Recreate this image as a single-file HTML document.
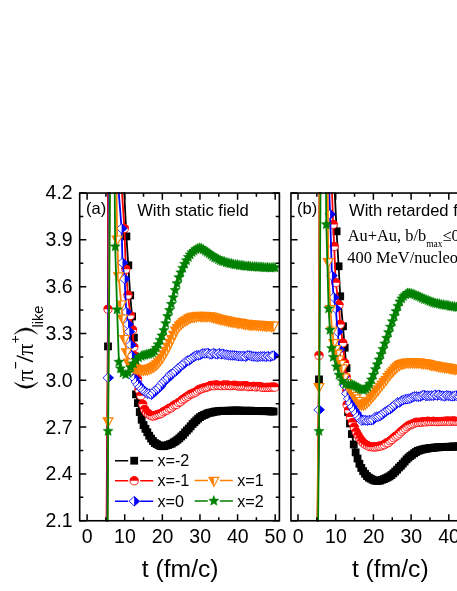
<!DOCTYPE html>
<html><head><meta charset="utf-8"><title>chart</title>
<style>html,body{margin:0;padding:0;background:#fff;}svg{display:block;}</style>
</head><body>
<svg style="will-change:transform" width="457" height="591" viewBox="0 0 457 591" font-family="'Liberation Sans', sans-serif" fill="#000">
<rect width="457" height="591" fill="#fff"/>
<defs><clipPath id="ca"><rect x="79.7" y="192.25" width="201.25" height="329.3"/></clipPath><clipPath id="cb"><rect x="290.95" y="192.25" width="171.05" height="329.3"/></clipPath></defs>
<g clip-path="url(#ca)">
<polyline fill="none" stroke="#000000" stroke-width="1.8" stroke-linejoin="round" points="106.85,545.75 107,520.75 108,346.4 108.6,193.05 108.9,133.05 116.52,-106.95 117.52,53.05 126.4,236.4 128.3,265.3 130.2,295.4 132.1,316.5 133.9,337.6 135,358 135.6,378 136,394.36 137.88,403.1 139.77,412.05 141.65,419.75 143.54,425.06 145.42,428.81 147.31,432.24 149.19,435.73 151.08,438.58 152.96,441.06 154.85,443.03 156.73,444.07 158.62,445.14 160.5,446.06 162.39,446.25 164.27,446.08 166.16,445.47 168.04,445.04 169.93,444.21 171.81,443.62 173.7,442.32 175.58,441.27 177.47,439.76 179.35,438.25 181.24,436.45 183.12,434.75 185.01,432.52 186.89,430.47 188.78,428.56 190.66,426.34 192.55,424 194.43,422.24 196.32,420.42 198.2,418.6 200.09,417.1 201.97,415.93 203.86,415.04 205.74,414.28 207.63,413.29 209.51,412.75 211.4,412.49 213.28,412.01 215.17,411.5 217.05,411.44 218.94,411.11 220.82,410.87 222.71,410.81 224.59,410.92 226.48,410.82 228.36,410.72 230.25,410.74 232.13,410.61 234.02,410.62 235.9,410.53 237.79,410.48 239.67,410.76 241.56,410.64 243.44,410.78 245.33,410.83 247.21,410.74 249.1,410.84 250.98,410.68 252.87,410.92 254.75,411.04 256.64,411.05 258.52,411.11 260.41,411.11 262.29,411.11 264.18,411.15 266.06,411.15 267.95,411.17 269.83,411.38 271.72,411.44 273.6,411.49"/>
<rect x="104.1" y="342.5" width="7.8" height="7.8" fill="#000000"/>
<rect x="122.5" y="232.5" width="7.8" height="7.8" fill="#000000"/>
<rect x="124.4" y="261.4" width="7.8" height="7.8" fill="#000000"/>
<rect x="126.3" y="291.5" width="7.8" height="7.8" fill="#000000"/>
<rect x="128.2" y="312.6" width="7.8" height="7.8" fill="#000000"/>
<rect x="130" y="333.7" width="7.8" height="7.8" fill="#000000"/>
<rect x="131.1" y="354.1" width="7.8" height="7.8" fill="#000000"/>
<rect x="131.7" y="374.1" width="7.8" height="7.8" fill="#000000"/>
<rect x="132.1" y="390.46" width="7.8" height="7.8" fill="#000000"/>
<rect x="133.98" y="399.2" width="7.8" height="7.8" fill="#000000"/>
<rect x="135.87" y="408.15" width="7.8" height="7.8" fill="#000000"/>
<rect x="137.75" y="415.85" width="7.8" height="7.8" fill="#000000"/>
<rect x="139.64" y="421.16" width="7.8" height="7.8" fill="#000000"/>
<rect x="141.52" y="424.91" width="7.8" height="7.8" fill="#000000"/>
<rect x="143.41" y="428.34" width="7.8" height="7.8" fill="#000000"/>
<rect x="145.29" y="431.83" width="7.8" height="7.8" fill="#000000"/>
<rect x="147.18" y="434.68" width="7.8" height="7.8" fill="#000000"/>
<rect x="149.06" y="437.16" width="7.8" height="7.8" fill="#000000"/>
<rect x="150.95" y="439.13" width="7.8" height="7.8" fill="#000000"/>
<rect x="152.83" y="440.17" width="7.8" height="7.8" fill="#000000"/>
<rect x="154.72" y="441.24" width="7.8" height="7.8" fill="#000000"/>
<rect x="156.6" y="442.16" width="7.8" height="7.8" fill="#000000"/>
<rect x="158.49" y="442.35" width="7.8" height="7.8" fill="#000000"/>
<rect x="160.37" y="442.18" width="7.8" height="7.8" fill="#000000"/>
<rect x="162.26" y="441.57" width="7.8" height="7.8" fill="#000000"/>
<rect x="164.14" y="441.14" width="7.8" height="7.8" fill="#000000"/>
<rect x="166.03" y="440.31" width="7.8" height="7.8" fill="#000000"/>
<rect x="167.91" y="439.72" width="7.8" height="7.8" fill="#000000"/>
<rect x="169.8" y="438.42" width="7.8" height="7.8" fill="#000000"/>
<rect x="171.68" y="437.37" width="7.8" height="7.8" fill="#000000"/>
<rect x="173.57" y="435.86" width="7.8" height="7.8" fill="#000000"/>
<rect x="175.45" y="434.35" width="7.8" height="7.8" fill="#000000"/>
<rect x="177.34" y="432.55" width="7.8" height="7.8" fill="#000000"/>
<rect x="179.22" y="430.85" width="7.8" height="7.8" fill="#000000"/>
<rect x="181.11" y="428.62" width="7.8" height="7.8" fill="#000000"/>
<rect x="182.99" y="426.57" width="7.8" height="7.8" fill="#000000"/>
<rect x="184.88" y="424.66" width="7.8" height="7.8" fill="#000000"/>
<rect x="186.76" y="422.44" width="7.8" height="7.8" fill="#000000"/>
<rect x="188.65" y="420.1" width="7.8" height="7.8" fill="#000000"/>
<rect x="190.53" y="418.34" width="7.8" height="7.8" fill="#000000"/>
<rect x="192.42" y="416.52" width="7.8" height="7.8" fill="#000000"/>
<rect x="194.3" y="414.7" width="7.8" height="7.8" fill="#000000"/>
<rect x="196.19" y="413.2" width="7.8" height="7.8" fill="#000000"/>
<rect x="198.07" y="412.03" width="7.8" height="7.8" fill="#000000"/>
<rect x="199.96" y="411.14" width="7.8" height="7.8" fill="#000000"/>
<rect x="201.84" y="410.38" width="7.8" height="7.8" fill="#000000"/>
<rect x="203.73" y="409.39" width="7.8" height="7.8" fill="#000000"/>
<rect x="205.61" y="408.85" width="7.8" height="7.8" fill="#000000"/>
<rect x="207.5" y="408.59" width="7.8" height="7.8" fill="#000000"/>
<rect x="209.38" y="408.11" width="7.8" height="7.8" fill="#000000"/>
<rect x="211.27" y="407.6" width="7.8" height="7.8" fill="#000000"/>
<rect x="213.15" y="407.54" width="7.8" height="7.8" fill="#000000"/>
<rect x="215.04" y="407.21" width="7.8" height="7.8" fill="#000000"/>
<rect x="216.92" y="406.97" width="7.8" height="7.8" fill="#000000"/>
<rect x="218.81" y="406.91" width="7.8" height="7.8" fill="#000000"/>
<rect x="220.69" y="407.02" width="7.8" height="7.8" fill="#000000"/>
<rect x="222.58" y="406.92" width="7.8" height="7.8" fill="#000000"/>
<rect x="224.46" y="406.82" width="7.8" height="7.8" fill="#000000"/>
<rect x="226.35" y="406.84" width="7.8" height="7.8" fill="#000000"/>
<rect x="228.23" y="406.71" width="7.8" height="7.8" fill="#000000"/>
<rect x="230.12" y="406.72" width="7.8" height="7.8" fill="#000000"/>
<rect x="232" y="406.63" width="7.8" height="7.8" fill="#000000"/>
<rect x="233.89" y="406.58" width="7.8" height="7.8" fill="#000000"/>
<rect x="235.77" y="406.86" width="7.8" height="7.8" fill="#000000"/>
<rect x="237.66" y="406.74" width="7.8" height="7.8" fill="#000000"/>
<rect x="239.54" y="406.88" width="7.8" height="7.8" fill="#000000"/>
<rect x="241.43" y="406.93" width="7.8" height="7.8" fill="#000000"/>
<rect x="243.31" y="406.84" width="7.8" height="7.8" fill="#000000"/>
<rect x="245.2" y="406.94" width="7.8" height="7.8" fill="#000000"/>
<rect x="247.08" y="406.78" width="7.8" height="7.8" fill="#000000"/>
<rect x="248.97" y="407.02" width="7.8" height="7.8" fill="#000000"/>
<rect x="250.85" y="407.14" width="7.8" height="7.8" fill="#000000"/>
<rect x="252.74" y="407.15" width="7.8" height="7.8" fill="#000000"/>
<rect x="254.62" y="407.21" width="7.8" height="7.8" fill="#000000"/>
<rect x="256.51" y="407.21" width="7.8" height="7.8" fill="#000000"/>
<rect x="258.39" y="407.21" width="7.8" height="7.8" fill="#000000"/>
<rect x="260.28" y="407.25" width="7.8" height="7.8" fill="#000000"/>
<rect x="262.16" y="407.25" width="7.8" height="7.8" fill="#000000"/>
<rect x="264.05" y="407.27" width="7.8" height="7.8" fill="#000000"/>
<rect x="265.93" y="407.48" width="7.8" height="7.8" fill="#000000"/>
<rect x="267.82" y="407.54" width="7.8" height="7.8" fill="#000000"/>
<rect x="269.7" y="407.59" width="7.8" height="7.8" fill="#000000"/>
<polyline fill="none" stroke="#ff0000" stroke-width="1.8" stroke-linejoin="round" points="106.35,545.75 106.5,520.75 108,309.2 108,193.05 108.3,133.05 112.2,-106.95 113.2,63.05 124.4,228.5 125.8,269.2 128,295.2 130.4,315.5 132.6,329.9 133.8,347 134.8,356 136,367 137.4,379 139,389.74 140.88,395.7 142.77,404.32 144.65,409.47 146.54,412.34 148.42,413.86 150.31,415.1 152.19,416.04 154.08,415.91 155.96,415.16 157.85,414.49 159.73,413.98 161.62,413.15 163.5,411.76 165.39,410.73 167.27,410.09 169.16,408.32 171.04,407.92 172.93,406.18 174.81,404.85 176.7,404.4 178.58,402.56 180.47,401.78 182.35,399.8 184.24,398.62 186.12,397.15 188.01,396.19 189.89,394.61 191.78,393.79 193.66,392.99 195.55,392.17 197.43,390.83 199.32,389.36 201.2,388.96 203.09,388.26 204.97,387.44 206.86,387.22 208.74,386.55 210.63,385.54 212.51,385.26 214.4,385.79 216.28,384.87 218.17,385.38 220.05,385.42 221.94,385.74 223.82,384.89 225.71,385.63 227.59,385 229.48,385.62 231.36,385.7 233.25,385.37 235.13,385.34 237.02,385.77 238.9,386.1 240.79,386.14 242.67,385.95 244.56,385.86 246.44,385.82 248.33,386.77 250.21,386.52 252.1,386.6 253.98,386.36 255.87,387.03 257.75,386.42 259.64,386.48 261.52,387.17 263.41,387.42 265.29,387.48 267.18,387.25 269.06,387.42 270.95,387.14 272.83,387.06 274.72,387.18"/>
<circle cx="108" cy="309.2" r="4.1" fill="#fff" stroke="#ff0000" stroke-width="0.85"/><path d="M103.5 309.2A4.5 4.5 0 0 1 112.5 309.2Z" fill="#ff0000"/>
<circle cx="124.4" cy="228.5" r="4.1" fill="#fff" stroke="#ff0000" stroke-width="0.85"/><path d="M119.9 228.5A4.5 4.5 0 0 1 128.9 228.5Z" fill="#ff0000"/>
<circle cx="125.8" cy="269.2" r="4.1" fill="#fff" stroke="#ff0000" stroke-width="0.85"/><path d="M121.3 269.2A4.5 4.5 0 0 1 130.3 269.2Z" fill="#ff0000"/>
<circle cx="128" cy="295.2" r="4.1" fill="#fff" stroke="#ff0000" stroke-width="0.85"/><path d="M123.5 295.2A4.5 4.5 0 0 1 132.5 295.2Z" fill="#ff0000"/>
<circle cx="130.4" cy="315.5" r="4.1" fill="#fff" stroke="#ff0000" stroke-width="0.85"/><path d="M125.9 315.5A4.5 4.5 0 0 1 134.9 315.5Z" fill="#ff0000"/>
<circle cx="132.6" cy="329.9" r="4.1" fill="#fff" stroke="#ff0000" stroke-width="0.85"/><path d="M128.1 329.9A4.5 4.5 0 0 1 137.1 329.9Z" fill="#ff0000"/>
<circle cx="133.8" cy="347" r="4.1" fill="#fff" stroke="#ff0000" stroke-width="0.85"/><path d="M129.3 347A4.5 4.5 0 0 1 138.3 347Z" fill="#ff0000"/>
<circle cx="134.8" cy="356" r="4.1" fill="#fff" stroke="#ff0000" stroke-width="0.85"/><path d="M130.3 356A4.5 4.5 0 0 1 139.3 356Z" fill="#ff0000"/>
<circle cx="136" cy="367" r="4.1" fill="#fff" stroke="#ff0000" stroke-width="0.85"/><path d="M131.5 367A4.5 4.5 0 0 1 140.5 367Z" fill="#ff0000"/>
<circle cx="137.4" cy="379" r="4.1" fill="#fff" stroke="#ff0000" stroke-width="0.85"/><path d="M132.9 379A4.5 4.5 0 0 1 141.9 379Z" fill="#ff0000"/>
<circle cx="139" cy="389.74" r="4.1" fill="#fff" stroke="#ff0000" stroke-width="0.85"/><path d="M134.5 389.74A4.5 4.5 0 0 1 143.5 389.74Z" fill="#ff0000"/>
<circle cx="140.88" cy="395.7" r="4.1" fill="#fff" stroke="#ff0000" stroke-width="0.85"/><path d="M136.38 395.7A4.5 4.5 0 0 1 145.38 395.7Z" fill="#ff0000"/>
<circle cx="142.77" cy="404.32" r="4.1" fill="#fff" stroke="#ff0000" stroke-width="0.85"/><path d="M138.27 404.32A4.5 4.5 0 0 1 147.27 404.32Z" fill="#ff0000"/>
<circle cx="144.65" cy="409.47" r="4.1" fill="#fff" stroke="#ff0000" stroke-width="0.85"/><path d="M140.15 409.47A4.5 4.5 0 0 1 149.15 409.47Z" fill="#ff0000"/>
<circle cx="146.54" cy="412.34" r="4.1" fill="#fff" stroke="#ff0000" stroke-width="0.85"/><path d="M142.04 412.34A4.5 4.5 0 0 1 151.04 412.34Z" fill="#ff0000"/>
<circle cx="148.42" cy="413.86" r="4.1" fill="#fff" stroke="#ff0000" stroke-width="0.85"/><path d="M143.92 413.86A4.5 4.5 0 0 1 152.92 413.86Z" fill="#ff0000"/>
<circle cx="150.31" cy="415.1" r="4.1" fill="#fff" stroke="#ff0000" stroke-width="0.85"/><path d="M145.81 415.1A4.5 4.5 0 0 1 154.81 415.1Z" fill="#ff0000"/>
<circle cx="152.19" cy="416.04" r="4.1" fill="#fff" stroke="#ff0000" stroke-width="0.85"/><path d="M147.69 416.04A4.5 4.5 0 0 1 156.69 416.04Z" fill="#ff0000"/>
<circle cx="154.08" cy="415.91" r="4.1" fill="#fff" stroke="#ff0000" stroke-width="0.85"/><path d="M149.58 415.91A4.5 4.5 0 0 1 158.58 415.91Z" fill="#ff0000"/>
<circle cx="155.96" cy="415.16" r="4.1" fill="#fff" stroke="#ff0000" stroke-width="0.85"/><path d="M151.46 415.16A4.5 4.5 0 0 1 160.46 415.16Z" fill="#ff0000"/>
<circle cx="157.85" cy="414.49" r="4.1" fill="#fff" stroke="#ff0000" stroke-width="0.85"/><path d="M153.35 414.49A4.5 4.5 0 0 1 162.35 414.49Z" fill="#ff0000"/>
<circle cx="159.73" cy="413.98" r="4.1" fill="#fff" stroke="#ff0000" stroke-width="0.85"/><path d="M155.23 413.98A4.5 4.5 0 0 1 164.23 413.98Z" fill="#ff0000"/>
<circle cx="161.62" cy="413.15" r="4.1" fill="#fff" stroke="#ff0000" stroke-width="0.85"/><path d="M157.12 413.15A4.5 4.5 0 0 1 166.12 413.15Z" fill="#ff0000"/>
<circle cx="163.5" cy="411.76" r="4.1" fill="#fff" stroke="#ff0000" stroke-width="0.85"/><path d="M159 411.76A4.5 4.5 0 0 1 168 411.76Z" fill="#ff0000"/>
<circle cx="165.39" cy="410.73" r="4.1" fill="#fff" stroke="#ff0000" stroke-width="0.85"/><path d="M160.89 410.73A4.5 4.5 0 0 1 169.89 410.73Z" fill="#ff0000"/>
<circle cx="167.27" cy="410.09" r="4.1" fill="#fff" stroke="#ff0000" stroke-width="0.85"/><path d="M162.77 410.09A4.5 4.5 0 0 1 171.77 410.09Z" fill="#ff0000"/>
<circle cx="169.16" cy="408.32" r="4.1" fill="#fff" stroke="#ff0000" stroke-width="0.85"/><path d="M164.66 408.32A4.5 4.5 0 0 1 173.66 408.32Z" fill="#ff0000"/>
<circle cx="171.04" cy="407.92" r="4.1" fill="#fff" stroke="#ff0000" stroke-width="0.85"/><path d="M166.54 407.92A4.5 4.5 0 0 1 175.54 407.92Z" fill="#ff0000"/>
<circle cx="172.93" cy="406.18" r="4.1" fill="#fff" stroke="#ff0000" stroke-width="0.85"/><path d="M168.43 406.18A4.5 4.5 0 0 1 177.43 406.18Z" fill="#ff0000"/>
<circle cx="174.81" cy="404.85" r="4.1" fill="#fff" stroke="#ff0000" stroke-width="0.85"/><path d="M170.31 404.85A4.5 4.5 0 0 1 179.31 404.85Z" fill="#ff0000"/>
<circle cx="176.7" cy="404.4" r="4.1" fill="#fff" stroke="#ff0000" stroke-width="0.85"/><path d="M172.2 404.4A4.5 4.5 0 0 1 181.2 404.4Z" fill="#ff0000"/>
<circle cx="178.58" cy="402.56" r="4.1" fill="#fff" stroke="#ff0000" stroke-width="0.85"/><path d="M174.08 402.56A4.5 4.5 0 0 1 183.08 402.56Z" fill="#ff0000"/>
<circle cx="180.47" cy="401.78" r="4.1" fill="#fff" stroke="#ff0000" stroke-width="0.85"/><path d="M175.97 401.78A4.5 4.5 0 0 1 184.97 401.78Z" fill="#ff0000"/>
<circle cx="182.35" cy="399.8" r="4.1" fill="#fff" stroke="#ff0000" stroke-width="0.85"/><path d="M177.85 399.8A4.5 4.5 0 0 1 186.85 399.8Z" fill="#ff0000"/>
<circle cx="184.24" cy="398.62" r="4.1" fill="#fff" stroke="#ff0000" stroke-width="0.85"/><path d="M179.74 398.62A4.5 4.5 0 0 1 188.74 398.62Z" fill="#ff0000"/>
<circle cx="186.12" cy="397.15" r="4.1" fill="#fff" stroke="#ff0000" stroke-width="0.85"/><path d="M181.62 397.15A4.5 4.5 0 0 1 190.62 397.15Z" fill="#ff0000"/>
<circle cx="188.01" cy="396.19" r="4.1" fill="#fff" stroke="#ff0000" stroke-width="0.85"/><path d="M183.51 396.19A4.5 4.5 0 0 1 192.51 396.19Z" fill="#ff0000"/>
<circle cx="189.89" cy="394.61" r="4.1" fill="#fff" stroke="#ff0000" stroke-width="0.85"/><path d="M185.39 394.61A4.5 4.5 0 0 1 194.39 394.61Z" fill="#ff0000"/>
<circle cx="191.78" cy="393.79" r="4.1" fill="#fff" stroke="#ff0000" stroke-width="0.85"/><path d="M187.28 393.79A4.5 4.5 0 0 1 196.28 393.79Z" fill="#ff0000"/>
<circle cx="193.66" cy="392.99" r="4.1" fill="#fff" stroke="#ff0000" stroke-width="0.85"/><path d="M189.16 392.99A4.5 4.5 0 0 1 198.16 392.99Z" fill="#ff0000"/>
<circle cx="195.55" cy="392.17" r="4.1" fill="#fff" stroke="#ff0000" stroke-width="0.85"/><path d="M191.05 392.17A4.5 4.5 0 0 1 200.05 392.17Z" fill="#ff0000"/>
<circle cx="197.43" cy="390.83" r="4.1" fill="#fff" stroke="#ff0000" stroke-width="0.85"/><path d="M192.93 390.83A4.5 4.5 0 0 1 201.93 390.83Z" fill="#ff0000"/>
<circle cx="199.32" cy="389.36" r="4.1" fill="#fff" stroke="#ff0000" stroke-width="0.85"/><path d="M194.82 389.36A4.5 4.5 0 0 1 203.82 389.36Z" fill="#ff0000"/>
<circle cx="201.2" cy="388.96" r="4.1" fill="#fff" stroke="#ff0000" stroke-width="0.85"/><path d="M196.7 388.96A4.5 4.5 0 0 1 205.7 388.96Z" fill="#ff0000"/>
<circle cx="203.09" cy="388.26" r="4.1" fill="#fff" stroke="#ff0000" stroke-width="0.85"/><path d="M198.59 388.26A4.5 4.5 0 0 1 207.59 388.26Z" fill="#ff0000"/>
<circle cx="204.97" cy="387.44" r="4.1" fill="#fff" stroke="#ff0000" stroke-width="0.85"/><path d="M200.47 387.44A4.5 4.5 0 0 1 209.47 387.44Z" fill="#ff0000"/>
<circle cx="206.86" cy="387.22" r="4.1" fill="#fff" stroke="#ff0000" stroke-width="0.85"/><path d="M202.36 387.22A4.5 4.5 0 0 1 211.36 387.22Z" fill="#ff0000"/>
<circle cx="208.74" cy="386.55" r="4.1" fill="#fff" stroke="#ff0000" stroke-width="0.85"/><path d="M204.24 386.55A4.5 4.5 0 0 1 213.24 386.55Z" fill="#ff0000"/>
<circle cx="210.63" cy="385.54" r="4.1" fill="#fff" stroke="#ff0000" stroke-width="0.85"/><path d="M206.13 385.54A4.5 4.5 0 0 1 215.13 385.54Z" fill="#ff0000"/>
<circle cx="212.51" cy="385.26" r="4.1" fill="#fff" stroke="#ff0000" stroke-width="0.85"/><path d="M208.01 385.26A4.5 4.5 0 0 1 217.01 385.26Z" fill="#ff0000"/>
<circle cx="214.4" cy="385.79" r="4.1" fill="#fff" stroke="#ff0000" stroke-width="0.85"/><path d="M209.9 385.79A4.5 4.5 0 0 1 218.9 385.79Z" fill="#ff0000"/>
<circle cx="216.28" cy="384.87" r="4.1" fill="#fff" stroke="#ff0000" stroke-width="0.85"/><path d="M211.78 384.87A4.5 4.5 0 0 1 220.78 384.87Z" fill="#ff0000"/>
<circle cx="218.17" cy="385.38" r="4.1" fill="#fff" stroke="#ff0000" stroke-width="0.85"/><path d="M213.67 385.38A4.5 4.5 0 0 1 222.67 385.38Z" fill="#ff0000"/>
<circle cx="220.05" cy="385.42" r="4.1" fill="#fff" stroke="#ff0000" stroke-width="0.85"/><path d="M215.55 385.42A4.5 4.5 0 0 1 224.55 385.42Z" fill="#ff0000"/>
<circle cx="221.94" cy="385.74" r="4.1" fill="#fff" stroke="#ff0000" stroke-width="0.85"/><path d="M217.44 385.74A4.5 4.5 0 0 1 226.44 385.74Z" fill="#ff0000"/>
<circle cx="223.82" cy="384.89" r="4.1" fill="#fff" stroke="#ff0000" stroke-width="0.85"/><path d="M219.32 384.89A4.5 4.5 0 0 1 228.32 384.89Z" fill="#ff0000"/>
<circle cx="225.71" cy="385.63" r="4.1" fill="#fff" stroke="#ff0000" stroke-width="0.85"/><path d="M221.21 385.63A4.5 4.5 0 0 1 230.21 385.63Z" fill="#ff0000"/>
<circle cx="227.59" cy="385" r="4.1" fill="#fff" stroke="#ff0000" stroke-width="0.85"/><path d="M223.09 385A4.5 4.5 0 0 1 232.09 385Z" fill="#ff0000"/>
<circle cx="229.48" cy="385.62" r="4.1" fill="#fff" stroke="#ff0000" stroke-width="0.85"/><path d="M224.98 385.62A4.5 4.5 0 0 1 233.98 385.62Z" fill="#ff0000"/>
<circle cx="231.36" cy="385.7" r="4.1" fill="#fff" stroke="#ff0000" stroke-width="0.85"/><path d="M226.86 385.7A4.5 4.5 0 0 1 235.86 385.7Z" fill="#ff0000"/>
<circle cx="233.25" cy="385.37" r="4.1" fill="#fff" stroke="#ff0000" stroke-width="0.85"/><path d="M228.75 385.37A4.5 4.5 0 0 1 237.75 385.37Z" fill="#ff0000"/>
<circle cx="235.13" cy="385.34" r="4.1" fill="#fff" stroke="#ff0000" stroke-width="0.85"/><path d="M230.63 385.34A4.5 4.5 0 0 1 239.63 385.34Z" fill="#ff0000"/>
<circle cx="237.02" cy="385.77" r="4.1" fill="#fff" stroke="#ff0000" stroke-width="0.85"/><path d="M232.52 385.77A4.5 4.5 0 0 1 241.52 385.77Z" fill="#ff0000"/>
<circle cx="238.9" cy="386.1" r="4.1" fill="#fff" stroke="#ff0000" stroke-width="0.85"/><path d="M234.4 386.1A4.5 4.5 0 0 1 243.4 386.1Z" fill="#ff0000"/>
<circle cx="240.79" cy="386.14" r="4.1" fill="#fff" stroke="#ff0000" stroke-width="0.85"/><path d="M236.29 386.14A4.5 4.5 0 0 1 245.29 386.14Z" fill="#ff0000"/>
<circle cx="242.67" cy="385.95" r="4.1" fill="#fff" stroke="#ff0000" stroke-width="0.85"/><path d="M238.17 385.95A4.5 4.5 0 0 1 247.17 385.95Z" fill="#ff0000"/>
<circle cx="244.56" cy="385.86" r="4.1" fill="#fff" stroke="#ff0000" stroke-width="0.85"/><path d="M240.06 385.86A4.5 4.5 0 0 1 249.06 385.86Z" fill="#ff0000"/>
<circle cx="246.44" cy="385.82" r="4.1" fill="#fff" stroke="#ff0000" stroke-width="0.85"/><path d="M241.94 385.82A4.5 4.5 0 0 1 250.94 385.82Z" fill="#ff0000"/>
<circle cx="248.33" cy="386.77" r="4.1" fill="#fff" stroke="#ff0000" stroke-width="0.85"/><path d="M243.83 386.77A4.5 4.5 0 0 1 252.83 386.77Z" fill="#ff0000"/>
<circle cx="250.21" cy="386.52" r="4.1" fill="#fff" stroke="#ff0000" stroke-width="0.85"/><path d="M245.71 386.52A4.5 4.5 0 0 1 254.71 386.52Z" fill="#ff0000"/>
<circle cx="252.1" cy="386.6" r="4.1" fill="#fff" stroke="#ff0000" stroke-width="0.85"/><path d="M247.6 386.6A4.5 4.5 0 0 1 256.6 386.6Z" fill="#ff0000"/>
<circle cx="253.98" cy="386.36" r="4.1" fill="#fff" stroke="#ff0000" stroke-width="0.85"/><path d="M249.48 386.36A4.5 4.5 0 0 1 258.48 386.36Z" fill="#ff0000"/>
<circle cx="255.87" cy="387.03" r="4.1" fill="#fff" stroke="#ff0000" stroke-width="0.85"/><path d="M251.37 387.03A4.5 4.5 0 0 1 260.37 387.03Z" fill="#ff0000"/>
<circle cx="257.75" cy="386.42" r="4.1" fill="#fff" stroke="#ff0000" stroke-width="0.85"/><path d="M253.25 386.42A4.5 4.5 0 0 1 262.25 386.42Z" fill="#ff0000"/>
<circle cx="259.64" cy="386.48" r="4.1" fill="#fff" stroke="#ff0000" stroke-width="0.85"/><path d="M255.14 386.48A4.5 4.5 0 0 1 264.14 386.48Z" fill="#ff0000"/>
<circle cx="261.52" cy="387.17" r="4.1" fill="#fff" stroke="#ff0000" stroke-width="0.85"/><path d="M257.02 387.17A4.5 4.5 0 0 1 266.02 387.17Z" fill="#ff0000"/>
<circle cx="263.41" cy="387.42" r="4.1" fill="#fff" stroke="#ff0000" stroke-width="0.85"/><path d="M258.91 387.42A4.5 4.5 0 0 1 267.91 387.42Z" fill="#ff0000"/>
<circle cx="265.29" cy="387.48" r="4.1" fill="#fff" stroke="#ff0000" stroke-width="0.85"/><path d="M260.79 387.48A4.5 4.5 0 0 1 269.79 387.48Z" fill="#ff0000"/>
<circle cx="267.18" cy="387.25" r="4.1" fill="#fff" stroke="#ff0000" stroke-width="0.85"/><path d="M262.68 387.25A4.5 4.5 0 0 1 271.68 387.25Z" fill="#ff0000"/>
<circle cx="269.06" cy="387.42" r="4.1" fill="#fff" stroke="#ff0000" stroke-width="0.85"/><path d="M264.56 387.42A4.5 4.5 0 0 1 273.56 387.42Z" fill="#ff0000"/>
<circle cx="270.95" cy="387.14" r="4.1" fill="#fff" stroke="#ff0000" stroke-width="0.85"/><path d="M266.45 387.14A4.5 4.5 0 0 1 275.45 387.14Z" fill="#ff0000"/>
<circle cx="272.83" cy="387.06" r="4.1" fill="#fff" stroke="#ff0000" stroke-width="0.85"/><path d="M268.33 387.06A4.5 4.5 0 0 1 277.33 387.06Z" fill="#ff0000"/>
<circle cx="274.72" cy="387.18" r="4.1" fill="#fff" stroke="#ff0000" stroke-width="0.85"/><path d="M270.22 387.18A4.5 4.5 0 0 1 279.22 387.18Z" fill="#ff0000"/>
<polyline fill="none" stroke="#0000ff" stroke-width="1.8" stroke-linejoin="round" points="107.05,545.75 107.2,520.75 108.1,377.8 108.8,193.05 109.1,133.05 108.32,-106.95 109.32,73.05 121.6,228.5 122.5,262.7 124.6,279 126.3,312 128,324.4 129.3,331.7 130.6,345 131.9,356 133,367 134.3,378.29 136.19,381.89 138.07,384.71 139.95,387.12 141.84,388.95 143.72,390.62 145.61,392.2 147.49,393.55 149.38,393.69 151.26,394.72 153.15,393.16 155.03,390.7 156.92,388.82 158.8,387.95 160.69,385.78 162.57,383.01 164.46,381.16 166.34,378.97 168.23,377.9 170.11,374.69 172,373.71 173.88,372.48 175.77,371.21 177.65,368.76 179.54,367.3 181.42,365.62 183.31,364.28 185.19,362.49 187.08,360.51 188.96,360.53 190.85,358.85 192.73,357.45 194.62,356.33 196.5,355.27 198.39,355.35 200.27,354.9 202.16,353.6 204.04,353.37 205.93,353.37 207.81,353.06 209.7,354.21 211.58,354.24 213.47,353.01 215.35,354.03 217.24,354.32 219.12,353.25 221.01,354.3 222.89,353.81 224.78,354.59 226.66,354.73 228.55,355.12 230.43,355.31 232.32,355.38 234.2,355.36 236.09,355.64 237.97,356.08 239.86,356.09 241.74,356.19 243.63,356.05 245.51,356.68 247.4,355.4 249.28,355.35 251.17,356.06 253.05,356.44 254.94,356.53 256.82,356.81 258.71,356.59 260.59,356.42 262.48,356.49 264.36,356.35 266.25,356.8 268.13,356.22 270.02,356.83 271.9,355.82 273.79,355.6"/>
<path d="M108.1 373.1L113.3 377.8L108.1 382.5L102.9 377.8Z" fill="#fff" stroke="#0000ff" stroke-width="0.8"/><path d="M108.1 372.6L113.85 377.8L108.1 383Z" fill="#0000ff"/>
<path d="M121.6 223.8L126.8 228.5L121.6 233.2L116.4 228.5Z" fill="#fff" stroke="#0000ff" stroke-width="0.8"/><path d="M121.6 223.3L127.35 228.5L121.6 233.7Z" fill="#0000ff"/>
<path d="M122.5 258L127.7 262.7L122.5 267.4L117.3 262.7Z" fill="#fff" stroke="#0000ff" stroke-width="0.8"/><path d="M122.5 257.5L128.25 262.7L122.5 267.9Z" fill="#0000ff"/>
<path d="M124.6 274.3L129.8 279L124.6 283.7L119.4 279Z" fill="#fff" stroke="#0000ff" stroke-width="0.8"/><path d="M124.6 273.8L130.35 279L124.6 284.2Z" fill="#0000ff"/>
<path d="M126.3 307.3L131.5 312L126.3 316.7L121.1 312Z" fill="#fff" stroke="#0000ff" stroke-width="0.8"/><path d="M126.3 306.8L132.05 312L126.3 317.2Z" fill="#0000ff"/>
<path d="M128 319.7L133.2 324.4L128 329.1L122.8 324.4Z" fill="#fff" stroke="#0000ff" stroke-width="0.8"/><path d="M128 319.2L133.75 324.4L128 329.6Z" fill="#0000ff"/>
<path d="M129.3 327L134.5 331.7L129.3 336.4L124.1 331.7Z" fill="#fff" stroke="#0000ff" stroke-width="0.8"/><path d="M129.3 326.5L135.05 331.7L129.3 336.9Z" fill="#0000ff"/>
<path d="M130.6 340.3L135.8 345L130.6 349.7L125.4 345Z" fill="#fff" stroke="#0000ff" stroke-width="0.8"/><path d="M130.6 339.8L136.35 345L130.6 350.2Z" fill="#0000ff"/>
<path d="M131.9 351.3L137.1 356L131.9 360.7L126.7 356Z" fill="#fff" stroke="#0000ff" stroke-width="0.8"/><path d="M131.9 350.8L137.65 356L131.9 361.2Z" fill="#0000ff"/>
<path d="M133 362.3L138.2 367L133 371.7L127.8 367Z" fill="#fff" stroke="#0000ff" stroke-width="0.8"/><path d="M133 361.8L138.75 367L133 372.2Z" fill="#0000ff"/>
<path d="M134.3 373.59L139.5 378.29L134.3 382.99L129.1 378.29Z" fill="#fff" stroke="#0000ff" stroke-width="0.8"/><path d="M134.3 373.09L140.05 378.29L134.3 383.49Z" fill="#0000ff"/>
<path d="M136.19 377.19L141.38 381.89L136.19 386.59L130.99 381.89Z" fill="#fff" stroke="#0000ff" stroke-width="0.8"/><path d="M136.19 376.69L141.94 381.89L136.19 387.09Z" fill="#0000ff"/>
<path d="M138.07 380.01L143.27 384.71L138.07 389.41L132.87 384.71Z" fill="#fff" stroke="#0000ff" stroke-width="0.8"/><path d="M138.07 379.51L143.82 384.71L138.07 389.91Z" fill="#0000ff"/>
<path d="M139.95 382.42L145.15 387.12L139.95 391.82L134.75 387.12Z" fill="#fff" stroke="#0000ff" stroke-width="0.8"/><path d="M139.95 381.92L145.7 387.12L139.95 392.32Z" fill="#0000ff"/>
<path d="M141.84 384.25L147.04 388.95L141.84 393.65L136.64 388.95Z" fill="#fff" stroke="#0000ff" stroke-width="0.8"/><path d="M141.84 383.75L147.59 388.95L141.84 394.15Z" fill="#0000ff"/>
<path d="M143.72 385.92L148.92 390.62L143.72 395.32L138.52 390.62Z" fill="#fff" stroke="#0000ff" stroke-width="0.8"/><path d="M143.72 385.42L149.47 390.62L143.72 395.82Z" fill="#0000ff"/>
<path d="M145.61 387.5L150.81 392.2L145.61 396.9L140.41 392.2Z" fill="#fff" stroke="#0000ff" stroke-width="0.8"/><path d="M145.61 387L151.36 392.2L145.61 397.4Z" fill="#0000ff"/>
<path d="M147.49 388.85L152.69 393.55L147.49 398.25L142.29 393.55Z" fill="#fff" stroke="#0000ff" stroke-width="0.8"/><path d="M147.49 388.35L153.24 393.55L147.49 398.75Z" fill="#0000ff"/>
<path d="M149.38 388.99L154.58 393.69L149.38 398.39L144.18 393.69Z" fill="#fff" stroke="#0000ff" stroke-width="0.8"/><path d="M149.38 388.49L155.13 393.69L149.38 398.89Z" fill="#0000ff"/>
<path d="M151.26 390.02L156.46 394.72L151.26 399.42L146.06 394.72Z" fill="#fff" stroke="#0000ff" stroke-width="0.8"/><path d="M151.26 389.52L157.01 394.72L151.26 399.92Z" fill="#0000ff"/>
<path d="M153.15 388.46L158.35 393.16L153.15 397.86L147.95 393.16Z" fill="#fff" stroke="#0000ff" stroke-width="0.8"/><path d="M153.15 387.96L158.9 393.16L153.15 398.36Z" fill="#0000ff"/>
<path d="M155.03 386L160.23 390.7L155.03 395.4L149.83 390.7Z" fill="#fff" stroke="#0000ff" stroke-width="0.8"/><path d="M155.03 385.5L160.78 390.7L155.03 395.9Z" fill="#0000ff"/>
<path d="M156.92 384.12L162.12 388.82L156.92 393.52L151.72 388.82Z" fill="#fff" stroke="#0000ff" stroke-width="0.8"/><path d="M156.92 383.62L162.67 388.82L156.92 394.02Z" fill="#0000ff"/>
<path d="M158.8 383.25L164 387.95L158.8 392.65L153.6 387.95Z" fill="#fff" stroke="#0000ff" stroke-width="0.8"/><path d="M158.8 382.75L164.55 387.95L158.8 393.15Z" fill="#0000ff"/>
<path d="M160.69 381.08L165.89 385.78L160.69 390.48L155.49 385.78Z" fill="#fff" stroke="#0000ff" stroke-width="0.8"/><path d="M160.69 380.58L166.44 385.78L160.69 390.98Z" fill="#0000ff"/>
<path d="M162.57 378.31L167.77 383.01L162.57 387.71L157.37 383.01Z" fill="#fff" stroke="#0000ff" stroke-width="0.8"/><path d="M162.57 377.81L168.32 383.01L162.57 388.21Z" fill="#0000ff"/>
<path d="M164.46 376.46L169.66 381.16L164.46 385.86L159.26 381.16Z" fill="#fff" stroke="#0000ff" stroke-width="0.8"/><path d="M164.46 375.96L170.21 381.16L164.46 386.36Z" fill="#0000ff"/>
<path d="M166.34 374.27L171.54 378.97L166.34 383.67L161.14 378.97Z" fill="#fff" stroke="#0000ff" stroke-width="0.8"/><path d="M166.34 373.77L172.09 378.97L166.34 384.17Z" fill="#0000ff"/>
<path d="M168.23 373.2L173.43 377.9L168.23 382.6L163.03 377.9Z" fill="#fff" stroke="#0000ff" stroke-width="0.8"/><path d="M168.23 372.7L173.98 377.9L168.23 383.1Z" fill="#0000ff"/>
<path d="M170.11 369.99L175.31 374.69L170.11 379.39L164.91 374.69Z" fill="#fff" stroke="#0000ff" stroke-width="0.8"/><path d="M170.11 369.49L175.86 374.69L170.11 379.89Z" fill="#0000ff"/>
<path d="M172 369.01L177.2 373.71L172 378.41L166.8 373.71Z" fill="#fff" stroke="#0000ff" stroke-width="0.8"/><path d="M172 368.51L177.75 373.71L172 378.91Z" fill="#0000ff"/>
<path d="M173.88 367.78L179.08 372.48L173.88 377.18L168.68 372.48Z" fill="#fff" stroke="#0000ff" stroke-width="0.8"/><path d="M173.88 367.28L179.63 372.48L173.88 377.68Z" fill="#0000ff"/>
<path d="M175.77 366.51L180.97 371.21L175.77 375.91L170.57 371.21Z" fill="#fff" stroke="#0000ff" stroke-width="0.8"/><path d="M175.77 366.01L181.52 371.21L175.77 376.41Z" fill="#0000ff"/>
<path d="M177.65 364.06L182.85 368.76L177.65 373.46L172.45 368.76Z" fill="#fff" stroke="#0000ff" stroke-width="0.8"/><path d="M177.65 363.56L183.4 368.76L177.65 373.96Z" fill="#0000ff"/>
<path d="M179.54 362.6L184.74 367.3L179.54 372L174.34 367.3Z" fill="#fff" stroke="#0000ff" stroke-width="0.8"/><path d="M179.54 362.1L185.29 367.3L179.54 372.5Z" fill="#0000ff"/>
<path d="M181.42 360.92L186.62 365.62L181.42 370.32L176.22 365.62Z" fill="#fff" stroke="#0000ff" stroke-width="0.8"/><path d="M181.42 360.42L187.17 365.62L181.42 370.82Z" fill="#0000ff"/>
<path d="M183.31 359.58L188.51 364.28L183.31 368.98L178.11 364.28Z" fill="#fff" stroke="#0000ff" stroke-width="0.8"/><path d="M183.31 359.08L189.06 364.28L183.31 369.48Z" fill="#0000ff"/>
<path d="M185.19 357.79L190.39 362.49L185.19 367.19L179.99 362.49Z" fill="#fff" stroke="#0000ff" stroke-width="0.8"/><path d="M185.19 357.29L190.94 362.49L185.19 367.69Z" fill="#0000ff"/>
<path d="M187.08 355.81L192.28 360.51L187.08 365.21L181.88 360.51Z" fill="#fff" stroke="#0000ff" stroke-width="0.8"/><path d="M187.08 355.31L192.83 360.51L187.08 365.71Z" fill="#0000ff"/>
<path d="M188.96 355.83L194.16 360.53L188.96 365.23L183.76 360.53Z" fill="#fff" stroke="#0000ff" stroke-width="0.8"/><path d="M188.96 355.33L194.71 360.53L188.96 365.73Z" fill="#0000ff"/>
<path d="M190.85 354.15L196.05 358.85L190.85 363.55L185.65 358.85Z" fill="#fff" stroke="#0000ff" stroke-width="0.8"/><path d="M190.85 353.65L196.6 358.85L190.85 364.05Z" fill="#0000ff"/>
<path d="M192.73 352.75L197.93 357.45L192.73 362.15L187.53 357.45Z" fill="#fff" stroke="#0000ff" stroke-width="0.8"/><path d="M192.73 352.25L198.48 357.45L192.73 362.65Z" fill="#0000ff"/>
<path d="M194.62 351.63L199.82 356.33L194.62 361.03L189.42 356.33Z" fill="#fff" stroke="#0000ff" stroke-width="0.8"/><path d="M194.62 351.13L200.37 356.33L194.62 361.53Z" fill="#0000ff"/>
<path d="M196.5 350.57L201.7 355.27L196.5 359.97L191.3 355.27Z" fill="#fff" stroke="#0000ff" stroke-width="0.8"/><path d="M196.5 350.07L202.25 355.27L196.5 360.47Z" fill="#0000ff"/>
<path d="M198.39 350.65L203.59 355.35L198.39 360.05L193.19 355.35Z" fill="#fff" stroke="#0000ff" stroke-width="0.8"/><path d="M198.39 350.15L204.14 355.35L198.39 360.55Z" fill="#0000ff"/>
<path d="M200.27 350.2L205.47 354.9L200.27 359.6L195.07 354.9Z" fill="#fff" stroke="#0000ff" stroke-width="0.8"/><path d="M200.27 349.7L206.02 354.9L200.27 360.1Z" fill="#0000ff"/>
<path d="M202.16 348.9L207.36 353.6L202.16 358.3L196.96 353.6Z" fill="#fff" stroke="#0000ff" stroke-width="0.8"/><path d="M202.16 348.4L207.91 353.6L202.16 358.8Z" fill="#0000ff"/>
<path d="M204.04 348.67L209.24 353.37L204.04 358.07L198.84 353.37Z" fill="#fff" stroke="#0000ff" stroke-width="0.8"/><path d="M204.04 348.17L209.79 353.37L204.04 358.57Z" fill="#0000ff"/>
<path d="M205.93 348.67L211.13 353.37L205.93 358.07L200.73 353.37Z" fill="#fff" stroke="#0000ff" stroke-width="0.8"/><path d="M205.93 348.17L211.68 353.37L205.93 358.57Z" fill="#0000ff"/>
<path d="M207.81 348.36L213.01 353.06L207.81 357.76L202.61 353.06Z" fill="#fff" stroke="#0000ff" stroke-width="0.8"/><path d="M207.81 347.86L213.56 353.06L207.81 358.26Z" fill="#0000ff"/>
<path d="M209.7 349.51L214.9 354.21L209.7 358.91L204.5 354.21Z" fill="#fff" stroke="#0000ff" stroke-width="0.8"/><path d="M209.7 349.01L215.45 354.21L209.7 359.41Z" fill="#0000ff"/>
<path d="M211.58 349.54L216.78 354.24L211.58 358.94L206.38 354.24Z" fill="#fff" stroke="#0000ff" stroke-width="0.8"/><path d="M211.58 349.04L217.33 354.24L211.58 359.44Z" fill="#0000ff"/>
<path d="M213.47 348.31L218.67 353.01L213.47 357.71L208.27 353.01Z" fill="#fff" stroke="#0000ff" stroke-width="0.8"/><path d="M213.47 347.81L219.22 353.01L213.47 358.21Z" fill="#0000ff"/>
<path d="M215.35 349.33L220.55 354.03L215.35 358.73L210.15 354.03Z" fill="#fff" stroke="#0000ff" stroke-width="0.8"/><path d="M215.35 348.83L221.1 354.03L215.35 359.23Z" fill="#0000ff"/>
<path d="M217.24 349.62L222.44 354.32L217.24 359.02L212.04 354.32Z" fill="#fff" stroke="#0000ff" stroke-width="0.8"/><path d="M217.24 349.12L222.99 354.32L217.24 359.52Z" fill="#0000ff"/>
<path d="M219.12 348.55L224.32 353.25L219.12 357.95L213.92 353.25Z" fill="#fff" stroke="#0000ff" stroke-width="0.8"/><path d="M219.12 348.05L224.87 353.25L219.12 358.45Z" fill="#0000ff"/>
<path d="M221.01 349.6L226.21 354.3L221.01 359L215.81 354.3Z" fill="#fff" stroke="#0000ff" stroke-width="0.8"/><path d="M221.01 349.1L226.76 354.3L221.01 359.5Z" fill="#0000ff"/>
<path d="M222.89 349.11L228.09 353.81L222.89 358.51L217.69 353.81Z" fill="#fff" stroke="#0000ff" stroke-width="0.8"/><path d="M222.89 348.61L228.64 353.81L222.89 359.01Z" fill="#0000ff"/>
<path d="M224.78 349.89L229.98 354.59L224.78 359.29L219.58 354.59Z" fill="#fff" stroke="#0000ff" stroke-width="0.8"/><path d="M224.78 349.39L230.53 354.59L224.78 359.79Z" fill="#0000ff"/>
<path d="M226.66 350.03L231.86 354.73L226.66 359.43L221.46 354.73Z" fill="#fff" stroke="#0000ff" stroke-width="0.8"/><path d="M226.66 349.53L232.41 354.73L226.66 359.93Z" fill="#0000ff"/>
<path d="M228.55 350.42L233.75 355.12L228.55 359.82L223.35 355.12Z" fill="#fff" stroke="#0000ff" stroke-width="0.8"/><path d="M228.55 349.92L234.3 355.12L228.55 360.32Z" fill="#0000ff"/>
<path d="M230.43 350.61L235.63 355.31L230.43 360.01L225.23 355.31Z" fill="#fff" stroke="#0000ff" stroke-width="0.8"/><path d="M230.43 350.11L236.18 355.31L230.43 360.51Z" fill="#0000ff"/>
<path d="M232.32 350.68L237.52 355.38L232.32 360.08L227.12 355.38Z" fill="#fff" stroke="#0000ff" stroke-width="0.8"/><path d="M232.32 350.18L238.07 355.38L232.32 360.58Z" fill="#0000ff"/>
<path d="M234.2 350.66L239.4 355.36L234.2 360.06L229 355.36Z" fill="#fff" stroke="#0000ff" stroke-width="0.8"/><path d="M234.2 350.16L239.95 355.36L234.2 360.56Z" fill="#0000ff"/>
<path d="M236.09 350.94L241.29 355.64L236.09 360.34L230.89 355.64Z" fill="#fff" stroke="#0000ff" stroke-width="0.8"/><path d="M236.09 350.44L241.84 355.64L236.09 360.84Z" fill="#0000ff"/>
<path d="M237.97 351.38L243.17 356.08L237.97 360.78L232.77 356.08Z" fill="#fff" stroke="#0000ff" stroke-width="0.8"/><path d="M237.97 350.88L243.72 356.08L237.97 361.28Z" fill="#0000ff"/>
<path d="M239.86 351.39L245.06 356.09L239.86 360.79L234.66 356.09Z" fill="#fff" stroke="#0000ff" stroke-width="0.8"/><path d="M239.86 350.89L245.61 356.09L239.86 361.29Z" fill="#0000ff"/>
<path d="M241.74 351.49L246.94 356.19L241.74 360.89L236.54 356.19Z" fill="#fff" stroke="#0000ff" stroke-width="0.8"/><path d="M241.74 350.99L247.49 356.19L241.74 361.39Z" fill="#0000ff"/>
<path d="M243.63 351.35L248.83 356.05L243.63 360.75L238.43 356.05Z" fill="#fff" stroke="#0000ff" stroke-width="0.8"/><path d="M243.63 350.85L249.38 356.05L243.63 361.25Z" fill="#0000ff"/>
<path d="M245.51 351.98L250.71 356.68L245.51 361.38L240.31 356.68Z" fill="#fff" stroke="#0000ff" stroke-width="0.8"/><path d="M245.51 351.48L251.26 356.68L245.51 361.88Z" fill="#0000ff"/>
<path d="M247.4 350.7L252.6 355.4L247.4 360.1L242.2 355.4Z" fill="#fff" stroke="#0000ff" stroke-width="0.8"/><path d="M247.4 350.2L253.15 355.4L247.4 360.6Z" fill="#0000ff"/>
<path d="M249.28 350.65L254.48 355.35L249.28 360.05L244.08 355.35Z" fill="#fff" stroke="#0000ff" stroke-width="0.8"/><path d="M249.28 350.15L255.03 355.35L249.28 360.55Z" fill="#0000ff"/>
<path d="M251.17 351.36L256.37 356.06L251.17 360.76L245.97 356.06Z" fill="#fff" stroke="#0000ff" stroke-width="0.8"/><path d="M251.17 350.86L256.92 356.06L251.17 361.26Z" fill="#0000ff"/>
<path d="M253.05 351.74L258.25 356.44L253.05 361.14L247.85 356.44Z" fill="#fff" stroke="#0000ff" stroke-width="0.8"/><path d="M253.05 351.24L258.8 356.44L253.05 361.64Z" fill="#0000ff"/>
<path d="M254.94 351.83L260.14 356.53L254.94 361.23L249.74 356.53Z" fill="#fff" stroke="#0000ff" stroke-width="0.8"/><path d="M254.94 351.33L260.69 356.53L254.94 361.73Z" fill="#0000ff"/>
<path d="M256.82 352.11L262.02 356.81L256.82 361.51L251.62 356.81Z" fill="#fff" stroke="#0000ff" stroke-width="0.8"/><path d="M256.82 351.61L262.57 356.81L256.82 362.01Z" fill="#0000ff"/>
<path d="M258.71 351.89L263.91 356.59L258.71 361.29L253.51 356.59Z" fill="#fff" stroke="#0000ff" stroke-width="0.8"/><path d="M258.71 351.39L264.46 356.59L258.71 361.79Z" fill="#0000ff"/>
<path d="M260.59 351.72L265.79 356.42L260.59 361.12L255.39 356.42Z" fill="#fff" stroke="#0000ff" stroke-width="0.8"/><path d="M260.59 351.22L266.34 356.42L260.59 361.62Z" fill="#0000ff"/>
<path d="M262.48 351.79L267.68 356.49L262.48 361.19L257.28 356.49Z" fill="#fff" stroke="#0000ff" stroke-width="0.8"/><path d="M262.48 351.29L268.23 356.49L262.48 361.69Z" fill="#0000ff"/>
<path d="M264.36 351.65L269.56 356.35L264.36 361.05L259.16 356.35Z" fill="#fff" stroke="#0000ff" stroke-width="0.8"/><path d="M264.36 351.15L270.11 356.35L264.36 361.55Z" fill="#0000ff"/>
<path d="M266.25 352.1L271.45 356.8L266.25 361.5L261.05 356.8Z" fill="#fff" stroke="#0000ff" stroke-width="0.8"/><path d="M266.25 351.6L272 356.8L266.25 362Z" fill="#0000ff"/>
<path d="M268.13 351.52L273.33 356.22L268.13 360.92L262.93 356.22Z" fill="#fff" stroke="#0000ff" stroke-width="0.8"/><path d="M268.13 351.02L273.88 356.22L268.13 361.42Z" fill="#0000ff"/>
<path d="M270.02 352.13L275.22 356.83L270.02 361.53L264.82 356.83Z" fill="#fff" stroke="#0000ff" stroke-width="0.8"/><path d="M270.02 351.63L275.77 356.83L270.02 362.03Z" fill="#0000ff"/>
<path d="M271.9 351.12L277.1 355.82L271.9 360.52L266.7 355.82Z" fill="#fff" stroke="#0000ff" stroke-width="0.8"/><path d="M271.9 350.62L277.65 355.82L271.9 361.02Z" fill="#0000ff"/>
<path d="M273.79 350.9L278.99 355.6L273.79 360.3L268.59 355.6Z" fill="#fff" stroke="#0000ff" stroke-width="0.8"/><path d="M273.79 350.4L279.54 355.6L273.79 360.8Z" fill="#0000ff"/>
<polyline fill="none" stroke="#ff8000" stroke-width="1.8" stroke-linejoin="round" points="107.35,545.75 107.5,520.75 108.1,420.8 109.6,193.05 109.9,133.05 114.4,-106.95 115.4,83.05 117.1,239 118.6,275.8 121.2,304 122.6,318 124.5,338.5 126.5,351.7 128.5,362 130.4,365.92 132.28,366.67 134.17,367.43 136.05,367.93 137.94,368.52 139.82,368.81 141.71,369.32 143.59,369.36 145.48,368.95 147.36,369.05 149.25,368.07 151.13,367.6 153.02,366.45 154.9,365.33 156.79,363.8 158.67,361.8 160.56,359.5 162.44,357.02 164.33,353.51 166.21,350.34 168.1,346.36 169.98,342.32 171.87,338.69 173.75,334.24 175.64,330.11 177.52,327.66 179.41,325 181.29,323.21 183.18,321.57 185.06,320.41 186.95,319.2 188.83,317.83 190.72,316.95 192.6,316.22 194.49,316.38 196.37,315.79 198.26,315.21 200.14,315.48 202.03,315.82 203.91,315.44 205.8,315.7 207.68,315.63 209.57,315.84 211.45,316.02 213.34,316.88 215.22,317.09 217.11,317.79 218.99,318.23 220.88,318.83 222.76,319.06 224.65,319.56 226.53,319.88 228.42,320.43 230.3,320.71 232.19,321.4 234.07,321.29 235.96,321.67 237.84,322.49 239.73,322.15 241.61,322.45 243.5,323.06 245.38,323.45 247.27,323.29 249.15,324 251.04,324.18 252.92,323.95 254.81,324.3 256.69,324.38 258.58,324.77 260.46,324.33 262.35,325.08 264.23,324.68 266.12,325.31 268,325.1 269.89,325 271.77,325.69 273.66,325.18"/>
<path d="M103.2 417.8L113 417.8L108.1 426.8Z" fill="#fff" stroke="#ff8000" stroke-width="1.15"/><path d="M103.2 417.8L108.1 417.8L108.1 426.8Z" fill="#ff8000"/>
<path d="M112.2 236L122 236L117.1 245Z" fill="#fff" stroke="#ff8000" stroke-width="1.15"/><path d="M112.2 236L117.1 236L117.1 245Z" fill="#ff8000"/>
<path d="M113.7 272.8L123.5 272.8L118.6 281.8Z" fill="#fff" stroke="#ff8000" stroke-width="1.15"/><path d="M113.7 272.8L118.6 272.8L118.6 281.8Z" fill="#ff8000"/>
<path d="M116.3 301L126.1 301L121.2 310Z" fill="#fff" stroke="#ff8000" stroke-width="1.15"/><path d="M116.3 301L121.2 301L121.2 310Z" fill="#ff8000"/>
<path d="M117.7 315L127.5 315L122.6 324Z" fill="#fff" stroke="#ff8000" stroke-width="1.15"/><path d="M117.7 315L122.6 315L122.6 324Z" fill="#ff8000"/>
<path d="M119.6 335.5L129.4 335.5L124.5 344.5Z" fill="#fff" stroke="#ff8000" stroke-width="1.15"/><path d="M119.6 335.5L124.5 335.5L124.5 344.5Z" fill="#ff8000"/>
<path d="M121.6 348.7L131.4 348.7L126.5 357.7Z" fill="#fff" stroke="#ff8000" stroke-width="1.15"/><path d="M121.6 348.7L126.5 348.7L126.5 357.7Z" fill="#ff8000"/>
<path d="M123.6 359L133.4 359L128.5 368Z" fill="#fff" stroke="#ff8000" stroke-width="1.15"/><path d="M123.6 359L128.5 359L128.5 368Z" fill="#ff8000"/>
<path d="M125.5 362.92L135.3 362.92L130.4 371.92Z" fill="#fff" stroke="#ff8000" stroke-width="1.15"/><path d="M125.5 362.92L130.4 362.92L130.4 371.92Z" fill="#ff8000"/>
<path d="M127.38 363.67L137.19 363.67L132.28 372.67Z" fill="#fff" stroke="#ff8000" stroke-width="1.15"/><path d="M127.38 363.67L132.28 363.67L132.28 372.67Z" fill="#ff8000"/>
<path d="M129.27 364.43L139.07 364.43L134.17 373.43Z" fill="#fff" stroke="#ff8000" stroke-width="1.15"/><path d="M129.27 364.43L134.17 364.43L134.17 373.43Z" fill="#ff8000"/>
<path d="M131.15 364.93L140.95 364.93L136.05 373.93Z" fill="#fff" stroke="#ff8000" stroke-width="1.15"/><path d="M131.15 364.93L136.05 364.93L136.05 373.93Z" fill="#ff8000"/>
<path d="M133.04 365.52L142.84 365.52L137.94 374.52Z" fill="#fff" stroke="#ff8000" stroke-width="1.15"/><path d="M133.04 365.52L137.94 365.52L137.94 374.52Z" fill="#ff8000"/>
<path d="M134.92 365.81L144.72 365.81L139.82 374.81Z" fill="#fff" stroke="#ff8000" stroke-width="1.15"/><path d="M134.92 365.81L139.82 365.81L139.82 374.81Z" fill="#ff8000"/>
<path d="M136.81 366.32L146.61 366.32L141.71 375.32Z" fill="#fff" stroke="#ff8000" stroke-width="1.15"/><path d="M136.81 366.32L141.71 366.32L141.71 375.32Z" fill="#ff8000"/>
<path d="M138.69 366.36L148.49 366.36L143.59 375.36Z" fill="#fff" stroke="#ff8000" stroke-width="1.15"/><path d="M138.69 366.36L143.59 366.36L143.59 375.36Z" fill="#ff8000"/>
<path d="M140.58 365.95L150.38 365.95L145.48 374.95Z" fill="#fff" stroke="#ff8000" stroke-width="1.15"/><path d="M140.58 365.95L145.48 365.95L145.48 374.95Z" fill="#ff8000"/>
<path d="M142.46 366.05L152.26 366.05L147.36 375.05Z" fill="#fff" stroke="#ff8000" stroke-width="1.15"/><path d="M142.46 366.05L147.36 366.05L147.36 375.05Z" fill="#ff8000"/>
<path d="M144.35 365.07L154.15 365.07L149.25 374.07Z" fill="#fff" stroke="#ff8000" stroke-width="1.15"/><path d="M144.35 365.07L149.25 365.07L149.25 374.07Z" fill="#ff8000"/>
<path d="M146.23 364.6L156.03 364.6L151.13 373.6Z" fill="#fff" stroke="#ff8000" stroke-width="1.15"/><path d="M146.23 364.6L151.13 364.6L151.13 373.6Z" fill="#ff8000"/>
<path d="M148.12 363.45L157.92 363.45L153.02 372.45Z" fill="#fff" stroke="#ff8000" stroke-width="1.15"/><path d="M148.12 363.45L153.02 363.45L153.02 372.45Z" fill="#ff8000"/>
<path d="M150 362.33L159.8 362.33L154.9 371.33Z" fill="#fff" stroke="#ff8000" stroke-width="1.15"/><path d="M150 362.33L154.9 362.33L154.9 371.33Z" fill="#ff8000"/>
<path d="M151.89 360.8L161.69 360.8L156.79 369.8Z" fill="#fff" stroke="#ff8000" stroke-width="1.15"/><path d="M151.89 360.8L156.79 360.8L156.79 369.8Z" fill="#ff8000"/>
<path d="M153.77 358.8L163.57 358.8L158.67 367.8Z" fill="#fff" stroke="#ff8000" stroke-width="1.15"/><path d="M153.77 358.8L158.67 358.8L158.67 367.8Z" fill="#ff8000"/>
<path d="M155.66 356.5L165.46 356.5L160.56 365.5Z" fill="#fff" stroke="#ff8000" stroke-width="1.15"/><path d="M155.66 356.5L160.56 356.5L160.56 365.5Z" fill="#ff8000"/>
<path d="M157.54 354.02L167.34 354.02L162.44 363.02Z" fill="#fff" stroke="#ff8000" stroke-width="1.15"/><path d="M157.54 354.02L162.44 354.02L162.44 363.02Z" fill="#ff8000"/>
<path d="M159.43 350.51L169.23 350.51L164.33 359.51Z" fill="#fff" stroke="#ff8000" stroke-width="1.15"/><path d="M159.43 350.51L164.33 350.51L164.33 359.51Z" fill="#ff8000"/>
<path d="M161.31 347.34L171.11 347.34L166.21 356.34Z" fill="#fff" stroke="#ff8000" stroke-width="1.15"/><path d="M161.31 347.34L166.21 347.34L166.21 356.34Z" fill="#ff8000"/>
<path d="M163.2 343.36L173 343.36L168.1 352.36Z" fill="#fff" stroke="#ff8000" stroke-width="1.15"/><path d="M163.2 343.36L168.1 343.36L168.1 352.36Z" fill="#ff8000"/>
<path d="M165.08 339.32L174.88 339.32L169.98 348.32Z" fill="#fff" stroke="#ff8000" stroke-width="1.15"/><path d="M165.08 339.32L169.98 339.32L169.98 348.32Z" fill="#ff8000"/>
<path d="M166.97 335.69L176.77 335.69L171.87 344.69Z" fill="#fff" stroke="#ff8000" stroke-width="1.15"/><path d="M166.97 335.69L171.87 335.69L171.87 344.69Z" fill="#ff8000"/>
<path d="M168.85 331.24L178.65 331.24L173.75 340.24Z" fill="#fff" stroke="#ff8000" stroke-width="1.15"/><path d="M168.85 331.24L173.75 331.24L173.75 340.24Z" fill="#ff8000"/>
<path d="M170.74 327.11L180.54 327.11L175.64 336.11Z" fill="#fff" stroke="#ff8000" stroke-width="1.15"/><path d="M170.74 327.11L175.64 327.11L175.64 336.11Z" fill="#ff8000"/>
<path d="M172.62 324.66L182.42 324.66L177.52 333.66Z" fill="#fff" stroke="#ff8000" stroke-width="1.15"/><path d="M172.62 324.66L177.52 324.66L177.52 333.66Z" fill="#ff8000"/>
<path d="M174.51 322L184.31 322L179.41 331Z" fill="#fff" stroke="#ff8000" stroke-width="1.15"/><path d="M174.51 322L179.41 322L179.41 331Z" fill="#ff8000"/>
<path d="M176.39 320.21L186.19 320.21L181.29 329.21Z" fill="#fff" stroke="#ff8000" stroke-width="1.15"/><path d="M176.39 320.21L181.29 320.21L181.29 329.21Z" fill="#ff8000"/>
<path d="M178.28 318.57L188.08 318.57L183.18 327.57Z" fill="#fff" stroke="#ff8000" stroke-width="1.15"/><path d="M178.28 318.57L183.18 318.57L183.18 327.57Z" fill="#ff8000"/>
<path d="M180.16 317.41L189.96 317.41L185.06 326.41Z" fill="#fff" stroke="#ff8000" stroke-width="1.15"/><path d="M180.16 317.41L185.06 317.41L185.06 326.41Z" fill="#ff8000"/>
<path d="M182.05 316.2L191.85 316.2L186.95 325.2Z" fill="#fff" stroke="#ff8000" stroke-width="1.15"/><path d="M182.05 316.2L186.95 316.2L186.95 325.2Z" fill="#ff8000"/>
<path d="M183.93 314.83L193.73 314.83L188.83 323.83Z" fill="#fff" stroke="#ff8000" stroke-width="1.15"/><path d="M183.93 314.83L188.83 314.83L188.83 323.83Z" fill="#ff8000"/>
<path d="M185.82 313.95L195.62 313.95L190.72 322.95Z" fill="#fff" stroke="#ff8000" stroke-width="1.15"/><path d="M185.82 313.95L190.72 313.95L190.72 322.95Z" fill="#ff8000"/>
<path d="M187.7 313.22L197.5 313.22L192.6 322.22Z" fill="#fff" stroke="#ff8000" stroke-width="1.15"/><path d="M187.7 313.22L192.6 313.22L192.6 322.22Z" fill="#ff8000"/>
<path d="M189.59 313.38L199.39 313.38L194.49 322.38Z" fill="#fff" stroke="#ff8000" stroke-width="1.15"/><path d="M189.59 313.38L194.49 313.38L194.49 322.38Z" fill="#ff8000"/>
<path d="M191.47 312.79L201.27 312.79L196.37 321.79Z" fill="#fff" stroke="#ff8000" stroke-width="1.15"/><path d="M191.47 312.79L196.37 312.79L196.37 321.79Z" fill="#ff8000"/>
<path d="M193.36 312.21L203.16 312.21L198.26 321.21Z" fill="#fff" stroke="#ff8000" stroke-width="1.15"/><path d="M193.36 312.21L198.26 312.21L198.26 321.21Z" fill="#ff8000"/>
<path d="M195.24 312.48L205.04 312.48L200.14 321.48Z" fill="#fff" stroke="#ff8000" stroke-width="1.15"/><path d="M195.24 312.48L200.14 312.48L200.14 321.48Z" fill="#ff8000"/>
<path d="M197.13 312.82L206.93 312.82L202.03 321.82Z" fill="#fff" stroke="#ff8000" stroke-width="1.15"/><path d="M197.13 312.82L202.03 312.82L202.03 321.82Z" fill="#ff8000"/>
<path d="M199.01 312.44L208.81 312.44L203.91 321.44Z" fill="#fff" stroke="#ff8000" stroke-width="1.15"/><path d="M199.01 312.44L203.91 312.44L203.91 321.44Z" fill="#ff8000"/>
<path d="M200.9 312.7L210.7 312.7L205.8 321.7Z" fill="#fff" stroke="#ff8000" stroke-width="1.15"/><path d="M200.9 312.7L205.8 312.7L205.8 321.7Z" fill="#ff8000"/>
<path d="M202.78 312.63L212.58 312.63L207.68 321.63Z" fill="#fff" stroke="#ff8000" stroke-width="1.15"/><path d="M202.78 312.63L207.68 312.63L207.68 321.63Z" fill="#ff8000"/>
<path d="M204.67 312.84L214.47 312.84L209.57 321.84Z" fill="#fff" stroke="#ff8000" stroke-width="1.15"/><path d="M204.67 312.84L209.57 312.84L209.57 321.84Z" fill="#ff8000"/>
<path d="M206.55 313.02L216.35 313.02L211.45 322.02Z" fill="#fff" stroke="#ff8000" stroke-width="1.15"/><path d="M206.55 313.02L211.45 313.02L211.45 322.02Z" fill="#ff8000"/>
<path d="M208.44 313.88L218.24 313.88L213.34 322.88Z" fill="#fff" stroke="#ff8000" stroke-width="1.15"/><path d="M208.44 313.88L213.34 313.88L213.34 322.88Z" fill="#ff8000"/>
<path d="M210.32 314.09L220.12 314.09L215.22 323.09Z" fill="#fff" stroke="#ff8000" stroke-width="1.15"/><path d="M210.32 314.09L215.22 314.09L215.22 323.09Z" fill="#ff8000"/>
<path d="M212.21 314.79L222.01 314.79L217.11 323.79Z" fill="#fff" stroke="#ff8000" stroke-width="1.15"/><path d="M212.21 314.79L217.11 314.79L217.11 323.79Z" fill="#ff8000"/>
<path d="M214.09 315.23L223.89 315.23L218.99 324.23Z" fill="#fff" stroke="#ff8000" stroke-width="1.15"/><path d="M214.09 315.23L218.99 315.23L218.99 324.23Z" fill="#ff8000"/>
<path d="M215.98 315.83L225.78 315.83L220.88 324.83Z" fill="#fff" stroke="#ff8000" stroke-width="1.15"/><path d="M215.98 315.83L220.88 315.83L220.88 324.83Z" fill="#ff8000"/>
<path d="M217.86 316.06L227.66 316.06L222.76 325.06Z" fill="#fff" stroke="#ff8000" stroke-width="1.15"/><path d="M217.86 316.06L222.76 316.06L222.76 325.06Z" fill="#ff8000"/>
<path d="M219.75 316.56L229.55 316.56L224.65 325.56Z" fill="#fff" stroke="#ff8000" stroke-width="1.15"/><path d="M219.75 316.56L224.65 316.56L224.65 325.56Z" fill="#ff8000"/>
<path d="M221.63 316.88L231.43 316.88L226.53 325.88Z" fill="#fff" stroke="#ff8000" stroke-width="1.15"/><path d="M221.63 316.88L226.53 316.88L226.53 325.88Z" fill="#ff8000"/>
<path d="M223.52 317.43L233.32 317.43L228.42 326.43Z" fill="#fff" stroke="#ff8000" stroke-width="1.15"/><path d="M223.52 317.43L228.42 317.43L228.42 326.43Z" fill="#ff8000"/>
<path d="M225.4 317.71L235.2 317.71L230.3 326.71Z" fill="#fff" stroke="#ff8000" stroke-width="1.15"/><path d="M225.4 317.71L230.3 317.71L230.3 326.71Z" fill="#ff8000"/>
<path d="M227.29 318.4L237.09 318.4L232.19 327.4Z" fill="#fff" stroke="#ff8000" stroke-width="1.15"/><path d="M227.29 318.4L232.19 318.4L232.19 327.4Z" fill="#ff8000"/>
<path d="M229.17 318.29L238.97 318.29L234.07 327.29Z" fill="#fff" stroke="#ff8000" stroke-width="1.15"/><path d="M229.17 318.29L234.07 318.29L234.07 327.29Z" fill="#ff8000"/>
<path d="M231.06 318.67L240.86 318.67L235.96 327.67Z" fill="#fff" stroke="#ff8000" stroke-width="1.15"/><path d="M231.06 318.67L235.96 318.67L235.96 327.67Z" fill="#ff8000"/>
<path d="M232.94 319.49L242.74 319.49L237.84 328.49Z" fill="#fff" stroke="#ff8000" stroke-width="1.15"/><path d="M232.94 319.49L237.84 319.49L237.84 328.49Z" fill="#ff8000"/>
<path d="M234.83 319.15L244.63 319.15L239.73 328.15Z" fill="#fff" stroke="#ff8000" stroke-width="1.15"/><path d="M234.83 319.15L239.73 319.15L239.73 328.15Z" fill="#ff8000"/>
<path d="M236.71 319.45L246.51 319.45L241.61 328.45Z" fill="#fff" stroke="#ff8000" stroke-width="1.15"/><path d="M236.71 319.45L241.61 319.45L241.61 328.45Z" fill="#ff8000"/>
<path d="M238.6 320.06L248.4 320.06L243.5 329.06Z" fill="#fff" stroke="#ff8000" stroke-width="1.15"/><path d="M238.6 320.06L243.5 320.06L243.5 329.06Z" fill="#ff8000"/>
<path d="M240.48 320.45L250.28 320.45L245.38 329.45Z" fill="#fff" stroke="#ff8000" stroke-width="1.15"/><path d="M240.48 320.45L245.38 320.45L245.38 329.45Z" fill="#ff8000"/>
<path d="M242.37 320.29L252.17 320.29L247.27 329.29Z" fill="#fff" stroke="#ff8000" stroke-width="1.15"/><path d="M242.37 320.29L247.27 320.29L247.27 329.29Z" fill="#ff8000"/>
<path d="M244.25 321L254.05 321L249.15 330Z" fill="#fff" stroke="#ff8000" stroke-width="1.15"/><path d="M244.25 321L249.15 321L249.15 330Z" fill="#ff8000"/>
<path d="M246.14 321.18L255.94 321.18L251.04 330.18Z" fill="#fff" stroke="#ff8000" stroke-width="1.15"/><path d="M246.14 321.18L251.04 321.18L251.04 330.18Z" fill="#ff8000"/>
<path d="M248.02 320.95L257.82 320.95L252.92 329.95Z" fill="#fff" stroke="#ff8000" stroke-width="1.15"/><path d="M248.02 320.95L252.92 320.95L252.92 329.95Z" fill="#ff8000"/>
<path d="M249.91 321.3L259.71 321.3L254.81 330.3Z" fill="#fff" stroke="#ff8000" stroke-width="1.15"/><path d="M249.91 321.3L254.81 321.3L254.81 330.3Z" fill="#ff8000"/>
<path d="M251.79 321.38L261.59 321.38L256.69 330.38Z" fill="#fff" stroke="#ff8000" stroke-width="1.15"/><path d="M251.79 321.38L256.69 321.38L256.69 330.38Z" fill="#ff8000"/>
<path d="M253.68 321.77L263.48 321.77L258.58 330.77Z" fill="#fff" stroke="#ff8000" stroke-width="1.15"/><path d="M253.68 321.77L258.58 321.77L258.58 330.77Z" fill="#ff8000"/>
<path d="M255.56 321.33L265.36 321.33L260.46 330.33Z" fill="#fff" stroke="#ff8000" stroke-width="1.15"/><path d="M255.56 321.33L260.46 321.33L260.46 330.33Z" fill="#ff8000"/>
<path d="M257.45 322.08L267.25 322.08L262.35 331.08Z" fill="#fff" stroke="#ff8000" stroke-width="1.15"/><path d="M257.45 322.08L262.35 322.08L262.35 331.08Z" fill="#ff8000"/>
<path d="M259.33 321.68L269.13 321.68L264.23 330.68Z" fill="#fff" stroke="#ff8000" stroke-width="1.15"/><path d="M259.33 321.68L264.23 321.68L264.23 330.68Z" fill="#ff8000"/>
<path d="M261.22 322.31L271.02 322.31L266.12 331.31Z" fill="#fff" stroke="#ff8000" stroke-width="1.15"/><path d="M261.22 322.31L266.12 322.31L266.12 331.31Z" fill="#ff8000"/>
<path d="M263.1 322.1L272.9 322.1L268 331.1Z" fill="#fff" stroke="#ff8000" stroke-width="1.15"/><path d="M263.1 322.1L268 322.1L268 331.1Z" fill="#ff8000"/>
<path d="M264.99 322L274.79 322L269.89 331Z" fill="#fff" stroke="#ff8000" stroke-width="1.15"/><path d="M264.99 322L269.89 322L269.89 331Z" fill="#ff8000"/>
<path d="M266.87 322.69L276.67 322.69L271.77 331.69Z" fill="#fff" stroke="#ff8000" stroke-width="1.15"/><path d="M266.87 322.69L271.77 322.69L271.77 331.69Z" fill="#ff8000"/>
<path d="M268.76 322.18L278.56 322.18L273.66 331.18Z" fill="#fff" stroke="#ff8000" stroke-width="1.15"/><path d="M268.76 322.18L273.66 322.18L273.66 331.18Z" fill="#ff8000"/>
<polyline fill="none" stroke="#008000" stroke-width="1.8" stroke-linejoin="round" points="107.55,545.75 107.7,520.75 108.1,431.1 110,193.05 110.3,133.05 112.98,-106.95 113.98,116.05 115.2,246.6 117.1,309.6 118.9,362 120.4,368.59 123,372.86 125.6,374.59 128.2,372.84 130.8,367.4 133.4,363.66 136,360.24 138.6,357.59 141.2,356.16 143.08,355.3 144.97,355.02 146.85,354.39 148.74,354.13 150.62,353.35 152.51,352.53 154.39,350.99 156.28,347.95 158.16,344.54 160.05,340.13 161.93,335.65 163.82,330.3 165.7,323.42 167.59,316.23 169.47,310.17 171.36,304.06 173.24,297.55 175.13,290.15 177.01,283.51 178.9,277.48 180.78,272.58 182.67,268.07 184.55,264.03 186.44,260.51 188.32,257.24 190.21,254.64 192.09,252.33 193.98,250.9 195.86,249.48 197.75,248.48 199.63,248.02 201.52,248.27 203.4,249.61 205.29,250.99 207.17,252.15 209.06,253.49 210.94,254.84 212.83,256.32 214.71,257.62 216.6,258.23 218.48,259.4 220.37,260.47 222.25,261.23 224.14,261.52 226.02,262.49 227.91,262.84 229.79,263.49 231.68,263.65 233.56,264.32 235.45,264.68 237.33,264.63 239.22,265.38 241.1,265.36 242.99,265.61 244.87,266.07 246.76,266.21 248.64,266.15 250.53,266.67 252.41,266.73 254.3,266.87 256.18,266.81 258.07,267.11 259.95,267 261.84,267.21 263.72,267.4 265.61,267.7 267.49,267.41 269.38,267.8 271.26,267.86 273.15,267.49 275.03,267.7"/>
<polygon points="108.1,425.8 109.51,429.16 113.14,429.46 110.38,431.84 111.22,435.39 108.1,433.5 104.98,435.39 105.82,431.84 103.06,429.46 106.69,429.16" fill="#008000" stroke="#008000" stroke-width="0.5" stroke-linejoin="round"/>
<polygon points="115.2,241.3 116.61,244.66 120.24,244.96 117.48,247.34 118.32,250.89 115.2,249 112.08,250.89 112.92,247.34 110.16,244.96 113.79,244.66" fill="#008000" stroke="#008000" stroke-width="0.5" stroke-linejoin="round"/>
<polygon points="117.1,304.3 118.51,307.66 122.14,307.96 119.38,310.34 120.22,313.89 117.1,312 113.98,313.89 114.82,310.34 112.06,307.96 115.69,307.66" fill="#008000" stroke="#008000" stroke-width="0.5" stroke-linejoin="round"/>
<polygon points="118.9,356.7 120.31,360.06 123.94,360.36 121.18,362.74 122.02,366.29 118.9,364.4 115.78,366.29 116.62,362.74 113.86,360.36 117.49,360.06" fill="#008000" stroke="#008000" stroke-width="0.5" stroke-linejoin="round"/>
<polygon points="120.4,363.29 121.81,366.65 125.44,366.95 122.68,369.33 123.52,372.88 120.4,370.99 117.28,372.88 118.12,369.33 115.36,366.95 118.99,366.65" fill="#008000" stroke="#008000" stroke-width="0.5" stroke-linejoin="round"/>
<polygon points="123,367.56 124.41,370.92 128.04,371.22 125.28,373.6 126.12,377.15 123,375.26 119.88,377.15 120.72,373.6 117.96,371.22 121.59,370.92" fill="#008000" stroke="#008000" stroke-width="0.5" stroke-linejoin="round"/>
<polygon points="125.6,369.29 127.01,372.65 130.64,372.95 127.88,375.33 128.72,378.88 125.6,376.99 122.48,378.88 123.32,375.33 120.56,372.95 124.19,372.65" fill="#008000" stroke="#008000" stroke-width="0.5" stroke-linejoin="round"/>
<polygon points="128.2,367.54 129.61,370.9 133.24,371.2 130.48,373.58 131.32,377.13 128.2,375.24 125.08,377.13 125.92,373.58 123.16,371.2 126.79,370.9" fill="#008000" stroke="#008000" stroke-width="0.5" stroke-linejoin="round"/>
<polygon points="130.8,362.1 132.21,365.46 135.84,365.76 133.08,368.14 133.92,371.69 130.8,369.8 127.68,371.69 128.52,368.14 125.76,365.76 129.39,365.46" fill="#008000" stroke="#008000" stroke-width="0.5" stroke-linejoin="round"/>
<polygon points="133.4,358.36 134.81,361.72 138.44,362.02 135.68,364.4 136.52,367.95 133.4,366.06 130.28,367.95 131.12,364.4 128.36,362.02 131.99,361.72" fill="#008000" stroke="#008000" stroke-width="0.5" stroke-linejoin="round"/>
<polygon points="136,354.94 137.41,358.29 141.04,358.6 138.28,360.98 139.12,364.52 136,362.64 132.88,364.52 133.72,360.98 130.96,358.6 134.59,358.29" fill="#008000" stroke="#008000" stroke-width="0.5" stroke-linejoin="round"/>
<polygon points="138.6,352.29 140.01,355.65 143.64,355.96 140.88,358.34 141.72,361.88 138.6,359.99 135.48,361.88 136.32,358.34 133.56,355.96 137.19,355.65" fill="#008000" stroke="#008000" stroke-width="0.5" stroke-linejoin="round"/>
<polygon points="141.2,350.86 142.61,354.21 146.24,354.52 143.48,356.9 144.32,360.44 141.2,358.56 138.08,360.44 138.92,356.9 136.16,354.52 139.79,354.21" fill="#008000" stroke="#008000" stroke-width="0.5" stroke-linejoin="round"/>
<polygon points="143.08,350 144.5,353.36 148.13,353.66 145.37,356.04 146.2,359.59 143.08,357.7 139.97,359.59 140.8,356.04 138.04,353.66 141.67,353.36" fill="#008000" stroke="#008000" stroke-width="0.5" stroke-linejoin="round"/>
<polygon points="144.97,349.72 146.38,353.08 150.01,353.38 147.25,355.76 148.09,359.31 144.97,357.42 141.85,359.31 142.69,355.76 139.93,353.38 143.56,353.08" fill="#008000" stroke="#008000" stroke-width="0.5" stroke-linejoin="round"/>
<polygon points="146.85,349.09 148.27,352.45 151.9,352.76 149.14,355.14 149.97,358.68 146.85,356.79 143.74,358.68 144.57,355.14 141.81,352.76 145.44,352.45" fill="#008000" stroke="#008000" stroke-width="0.5" stroke-linejoin="round"/>
<polygon points="148.74,348.83 150.15,352.19 153.78,352.5 151.02,354.88 151.86,358.42 148.74,356.53 145.62,358.42 146.46,354.88 143.7,352.5 147.33,352.19" fill="#008000" stroke="#008000" stroke-width="0.5" stroke-linejoin="round"/>
<polygon points="150.62,348.05 152.04,351.41 155.67,351.72 152.91,354.1 153.74,357.64 150.62,355.75 147.51,357.64 148.34,354.1 145.58,351.72 149.21,351.41" fill="#008000" stroke="#008000" stroke-width="0.5" stroke-linejoin="round"/>
<polygon points="152.51,347.23 153.92,350.59 157.55,350.89 154.79,353.27 155.63,356.82 152.51,354.93 149.39,356.82 150.23,353.27 147.47,350.89 151.1,350.59" fill="#008000" stroke="#008000" stroke-width="0.5" stroke-linejoin="round"/>
<polygon points="154.39,345.69 155.81,349.05 159.44,349.35 156.68,351.73 157.51,355.28 154.39,353.39 151.28,355.28 152.11,351.73 149.35,349.35 152.98,349.05" fill="#008000" stroke="#008000" stroke-width="0.5" stroke-linejoin="round"/>
<polygon points="156.28,342.65 157.69,346.01 161.32,346.32 158.56,348.7 159.4,352.24 156.28,350.35 153.16,352.24 154,348.7 151.24,346.32 154.87,346.01" fill="#008000" stroke="#008000" stroke-width="0.5" stroke-linejoin="round"/>
<polygon points="158.16,339.24 159.58,342.6 163.21,342.9 160.45,345.28 161.28,348.83 158.16,346.94 155.05,348.83 155.88,345.28 153.12,342.9 156.75,342.6" fill="#008000" stroke="#008000" stroke-width="0.5" stroke-linejoin="round"/>
<polygon points="160.05,334.83 161.46,338.19 165.09,338.49 162.33,340.87 163.17,344.42 160.05,342.53 156.93,344.42 157.77,340.87 155.01,338.49 158.64,338.19" fill="#008000" stroke="#008000" stroke-width="0.5" stroke-linejoin="round"/>
<polygon points="161.93,330.35 163.35,333.71 166.98,334.01 164.22,336.39 165.05,339.93 161.93,338.05 158.82,339.93 159.65,336.39 156.89,334.01 160.52,333.71" fill="#008000" stroke="#008000" stroke-width="0.5" stroke-linejoin="round"/>
<polygon points="163.82,325 165.23,328.36 168.86,328.67 166.1,331.05 166.94,334.59 163.82,332.7 160.7,334.59 161.54,331.05 158.78,328.67 162.41,328.36" fill="#008000" stroke="#008000" stroke-width="0.5" stroke-linejoin="round"/>
<polygon points="165.7,318.12 167.12,321.48 170.75,321.79 167.99,324.16 168.82,327.71 165.7,325.82 162.59,327.71 163.42,324.16 160.66,321.79 164.29,321.48" fill="#008000" stroke="#008000" stroke-width="0.5" stroke-linejoin="round"/>
<polygon points="167.59,310.93 169,314.29 172.63,314.6 169.87,316.98 170.71,320.52 167.59,318.63 164.47,320.52 165.31,316.98 162.55,314.6 166.18,314.29" fill="#008000" stroke="#008000" stroke-width="0.5" stroke-linejoin="round"/>
<polygon points="169.47,304.87 170.89,308.23 174.52,308.53 171.76,310.91 172.59,314.46 169.47,312.57 166.36,314.46 167.19,310.91 164.43,308.53 168.06,308.23" fill="#008000" stroke="#008000" stroke-width="0.5" stroke-linejoin="round"/>
<polygon points="171.36,298.76 172.77,302.12 176.4,302.42 173.64,304.8 174.48,308.35 171.36,306.46 168.24,308.35 169.08,304.8 166.32,302.42 169.95,302.12" fill="#008000" stroke="#008000" stroke-width="0.5" stroke-linejoin="round"/>
<polygon points="173.24,292.25 174.66,295.61 178.29,295.91 175.53,298.29 176.36,301.84 173.24,299.95 170.13,301.84 170.96,298.29 168.2,295.91 171.83,295.61" fill="#008000" stroke="#008000" stroke-width="0.5" stroke-linejoin="round"/>
<polygon points="175.13,284.85 176.54,288.21 180.17,288.52 177.41,290.9 178.25,294.44 175.13,292.55 172.01,294.44 172.85,290.9 170.09,288.52 173.72,288.21" fill="#008000" stroke="#008000" stroke-width="0.5" stroke-linejoin="round"/>
<polygon points="177.01,278.21 178.43,281.57 182.06,281.87 179.3,284.25 180.13,287.8 177.01,285.91 173.9,287.8 174.73,284.25 171.97,281.87 175.6,281.57" fill="#008000" stroke="#008000" stroke-width="0.5" stroke-linejoin="round"/>
<polygon points="178.9,272.18 180.31,275.54 183.94,275.84 181.18,278.22 182.02,281.76 178.9,279.88 175.78,281.76 176.62,278.22 173.86,275.84 177.49,275.54" fill="#008000" stroke="#008000" stroke-width="0.5" stroke-linejoin="round"/>
<polygon points="180.78,267.28 182.2,270.63 185.83,270.94 183.07,273.32 183.9,276.86 180.78,274.98 177.67,276.86 178.5,273.32 175.74,270.94 179.37,270.63" fill="#008000" stroke="#008000" stroke-width="0.5" stroke-linejoin="round"/>
<polygon points="182.67,262.77 184.08,266.13 187.71,266.43 184.95,268.81 185.79,272.36 182.67,270.47 179.55,272.36 180.39,268.81 177.63,266.43 181.26,266.13" fill="#008000" stroke="#008000" stroke-width="0.5" stroke-linejoin="round"/>
<polygon points="184.55,258.73 185.97,262.09 189.6,262.4 186.84,264.78 187.67,268.32 184.55,266.43 181.44,268.32 182.27,264.78 179.51,262.4 183.14,262.09" fill="#008000" stroke="#008000" stroke-width="0.5" stroke-linejoin="round"/>
<polygon points="186.44,255.21 187.85,258.57 191.48,258.88 188.72,261.25 189.56,264.8 186.44,262.91 183.32,264.8 184.16,261.25 181.4,258.88 185.03,258.57" fill="#008000" stroke="#008000" stroke-width="0.5" stroke-linejoin="round"/>
<polygon points="188.32,251.94 189.74,255.3 193.37,255.6 190.61,257.98 191.44,261.53 188.32,259.64 185.21,261.53 186.04,257.98 183.28,255.6 186.91,255.3" fill="#008000" stroke="#008000" stroke-width="0.5" stroke-linejoin="round"/>
<polygon points="190.21,249.34 191.62,252.69 195.25,253 192.49,255.38 193.33,258.92 190.21,257.04 187.09,258.92 187.93,255.38 185.17,253 188.8,252.69" fill="#008000" stroke="#008000" stroke-width="0.5" stroke-linejoin="round"/>
<polygon points="192.09,247.03 193.51,250.39 197.14,250.69 194.38,253.07 195.21,256.62 192.09,254.73 188.98,256.62 189.81,253.07 187.05,250.69 190.68,250.39" fill="#008000" stroke="#008000" stroke-width="0.5" stroke-linejoin="round"/>
<polygon points="193.98,245.6 195.39,248.96 199.02,249.27 196.26,251.65 197.1,255.19 193.98,253.3 190.86,255.19 191.7,251.65 188.94,249.27 192.57,248.96" fill="#008000" stroke="#008000" stroke-width="0.5" stroke-linejoin="round"/>
<polygon points="195.86,244.18 197.28,247.54 200.91,247.84 198.15,250.22 198.98,253.77 195.86,251.88 192.75,253.77 193.58,250.22 190.82,247.84 194.45,247.54" fill="#008000" stroke="#008000" stroke-width="0.5" stroke-linejoin="round"/>
<polygon points="197.75,243.18 199.16,246.54 202.79,246.84 200.03,249.22 200.87,252.77 197.75,250.88 194.63,252.77 195.47,249.22 192.71,246.84 196.34,246.54" fill="#008000" stroke="#008000" stroke-width="0.5" stroke-linejoin="round"/>
<polygon points="199.63,242.72 201.05,246.08 204.68,246.38 201.92,248.76 202.75,252.31 199.63,250.42 196.52,252.31 197.35,248.76 194.59,246.38 198.22,246.08" fill="#008000" stroke="#008000" stroke-width="0.5" stroke-linejoin="round"/>
<polygon points="201.52,242.97 202.93,246.32 206.56,246.63 203.8,249.01 204.64,252.55 201.52,250.67 198.4,252.55 199.24,249.01 196.48,246.63 200.11,246.32" fill="#008000" stroke="#008000" stroke-width="0.5" stroke-linejoin="round"/>
<polygon points="203.4,244.31 204.82,247.67 208.45,247.97 205.69,250.35 206.52,253.89 203.4,252.01 200.29,253.89 201.12,250.35 198.36,247.97 201.99,247.67" fill="#008000" stroke="#008000" stroke-width="0.5" stroke-linejoin="round"/>
<polygon points="205.29,245.69 206.7,249.05 210.33,249.36 207.57,251.74 208.41,255.28 205.29,253.39 202.17,255.28 203.01,251.74 200.25,249.36 203.88,249.05" fill="#008000" stroke="#008000" stroke-width="0.5" stroke-linejoin="round"/>
<polygon points="207.17,246.85 208.59,250.21 212.22,250.52 209.46,252.9 210.29,256.44 207.17,254.55 204.06,256.44 204.89,252.9 202.13,250.52 205.76,250.21" fill="#008000" stroke="#008000" stroke-width="0.5" stroke-linejoin="round"/>
<polygon points="209.06,248.19 210.47,251.55 214.1,251.86 211.34,254.24 212.18,257.78 209.06,255.89 205.94,257.78 206.78,254.24 204.02,251.86 207.65,251.55" fill="#008000" stroke="#008000" stroke-width="0.5" stroke-linejoin="round"/>
<polygon points="210.94,249.54 212.36,252.9 215.99,253.2 213.23,255.58 214.06,259.13 210.94,257.24 207.83,259.13 208.66,255.58 205.9,253.2 209.53,252.9" fill="#008000" stroke="#008000" stroke-width="0.5" stroke-linejoin="round"/>
<polygon points="212.83,251.02 214.24,254.38 217.87,254.68 215.11,257.06 215.95,260.61 212.83,258.72 209.71,260.61 210.55,257.06 207.79,254.68 211.42,254.38" fill="#008000" stroke="#008000" stroke-width="0.5" stroke-linejoin="round"/>
<polygon points="214.71,252.32 216.13,255.68 219.76,255.98 217,258.36 217.83,261.91 214.71,260.02 211.6,261.91 212.43,258.36 209.67,255.98 213.3,255.68" fill="#008000" stroke="#008000" stroke-width="0.5" stroke-linejoin="round"/>
<polygon points="216.6,252.93 218.01,256.29 221.64,256.59 218.88,258.97 219.72,262.52 216.6,260.63 213.48,262.52 214.32,258.97 211.56,256.59 215.19,256.29" fill="#008000" stroke="#008000" stroke-width="0.5" stroke-linejoin="round"/>
<polygon points="218.48,254.1 219.9,257.46 223.53,257.76 220.77,260.14 221.6,263.69 218.48,261.8 215.37,263.69 216.2,260.14 213.44,257.76 217.07,257.46" fill="#008000" stroke="#008000" stroke-width="0.5" stroke-linejoin="round"/>
<polygon points="220.37,255.17 221.78,258.52 225.41,258.83 222.65,261.21 223.49,264.75 220.37,262.87 217.25,264.75 218.09,261.21 215.33,258.83 218.96,258.52" fill="#008000" stroke="#008000" stroke-width="0.5" stroke-linejoin="round"/>
<polygon points="222.25,255.93 223.67,259.29 227.3,259.59 224.54,261.97 225.37,265.52 222.25,263.63 219.14,265.52 219.97,261.97 217.21,259.59 220.84,259.29" fill="#008000" stroke="#008000" stroke-width="0.5" stroke-linejoin="round"/>
<polygon points="224.14,256.22 225.55,259.57 229.18,259.88 226.42,262.26 227.26,265.8 224.14,263.92 221.02,265.8 221.86,262.26 219.1,259.88 222.73,259.57" fill="#008000" stroke="#008000" stroke-width="0.5" stroke-linejoin="round"/>
<polygon points="226.02,257.19 227.44,260.55 231.07,260.85 228.31,263.23 229.14,266.78 226.02,264.89 222.91,266.78 223.74,263.23 220.98,260.85 224.61,260.55" fill="#008000" stroke="#008000" stroke-width="0.5" stroke-linejoin="round"/>
<polygon points="227.91,257.54 229.32,260.9 232.95,261.2 230.19,263.58 231.03,267.13 227.91,265.24 224.79,267.13 225.63,263.58 222.87,261.2 226.5,260.9" fill="#008000" stroke="#008000" stroke-width="0.5" stroke-linejoin="round"/>
<polygon points="229.79,258.19 231.21,261.55 234.84,261.85 232.08,264.23 232.91,267.78 229.79,265.89 226.68,267.78 227.51,264.23 224.75,261.85 228.38,261.55" fill="#008000" stroke="#008000" stroke-width="0.5" stroke-linejoin="round"/>
<polygon points="231.68,258.35 233.09,261.71 236.72,262.02 233.96,264.4 234.8,267.94 231.68,266.05 228.56,267.94 229.4,264.4 226.64,262.02 230.27,261.71" fill="#008000" stroke="#008000" stroke-width="0.5" stroke-linejoin="round"/>
<polygon points="233.56,259.02 234.98,262.38 238.61,262.69 235.85,265.07 236.68,268.61 233.56,266.72 230.45,268.61 231.28,265.07 228.52,262.69 232.15,262.38" fill="#008000" stroke="#008000" stroke-width="0.5" stroke-linejoin="round"/>
<polygon points="235.45,259.38 236.86,262.74 240.49,263.05 237.73,265.43 238.57,268.97 235.45,267.08 232.33,268.97 233.17,265.43 230.41,263.05 234.04,262.74" fill="#008000" stroke="#008000" stroke-width="0.5" stroke-linejoin="round"/>
<polygon points="237.33,259.33 238.75,262.69 242.38,263 239.62,265.38 240.45,268.92 237.33,267.03 234.22,268.92 235.05,265.38 232.29,263 235.92,262.69" fill="#008000" stroke="#008000" stroke-width="0.5" stroke-linejoin="round"/>
<polygon points="239.22,260.08 240.63,263.44 244.26,263.75 241.5,266.13 242.34,269.67 239.22,267.78 236.1,269.67 236.94,266.13 234.18,263.75 237.81,263.44" fill="#008000" stroke="#008000" stroke-width="0.5" stroke-linejoin="round"/>
<polygon points="241.1,260.06 242.52,263.42 246.15,263.72 243.39,266.1 244.22,269.65 241.1,267.76 237.99,269.65 238.82,266.1 236.06,263.72 239.69,263.42" fill="#008000" stroke="#008000" stroke-width="0.5" stroke-linejoin="round"/>
<polygon points="242.99,260.31 244.4,263.67 248.03,263.97 245.27,266.35 246.11,269.9 242.99,268.01 239.87,269.9 240.71,266.35 237.95,263.97 241.58,263.67" fill="#008000" stroke="#008000" stroke-width="0.5" stroke-linejoin="round"/>
<polygon points="244.87,260.77 246.29,264.13 249.92,264.43 247.16,266.81 247.99,270.36 244.87,268.47 241.76,270.36 242.59,266.81 239.83,264.43 243.46,264.13" fill="#008000" stroke="#008000" stroke-width="0.5" stroke-linejoin="round"/>
<polygon points="246.76,260.91 248.17,264.27 251.8,264.57 249.04,266.95 249.88,270.5 246.76,268.61 243.64,270.5 244.48,266.95 241.72,264.57 245.35,264.27" fill="#008000" stroke="#008000" stroke-width="0.5" stroke-linejoin="round"/>
<polygon points="248.64,260.85 250.06,264.21 253.69,264.51 250.93,266.89 251.76,270.44 248.64,268.55 245.53,270.44 246.36,266.89 243.6,264.51 247.23,264.21" fill="#008000" stroke="#008000" stroke-width="0.5" stroke-linejoin="round"/>
<polygon points="250.53,261.37 251.94,264.73 255.57,265.04 252.81,267.41 253.65,270.96 250.53,269.07 247.41,270.96 248.25,267.41 245.49,265.04 249.12,264.73" fill="#008000" stroke="#008000" stroke-width="0.5" stroke-linejoin="round"/>
<polygon points="252.41,261.43 253.83,264.78 257.46,265.09 254.7,267.47 255.53,271.01 252.41,269.13 249.3,271.01 250.13,267.47 247.37,265.09 251,264.78" fill="#008000" stroke="#008000" stroke-width="0.5" stroke-linejoin="round"/>
<polygon points="254.3,261.57 255.71,264.93 259.34,265.23 256.58,267.61 257.42,271.16 254.3,269.27 251.18,271.16 252.02,267.61 249.26,265.23 252.89,264.93" fill="#008000" stroke="#008000" stroke-width="0.5" stroke-linejoin="round"/>
<polygon points="256.18,261.51 257.6,264.86 261.23,265.17 258.47,267.55 259.3,271.09 256.18,269.21 253.07,271.09 253.9,267.55 251.14,265.17 254.77,264.86" fill="#008000" stroke="#008000" stroke-width="0.5" stroke-linejoin="round"/>
<polygon points="258.07,261.81 259.48,265.17 263.11,265.47 260.35,267.85 261.19,271.4 258.07,269.51 254.95,271.4 255.79,267.85 253.03,265.47 256.66,265.17" fill="#008000" stroke="#008000" stroke-width="0.5" stroke-linejoin="round"/>
<polygon points="259.95,261.7 261.37,265.06 265,265.36 262.24,267.74 263.07,271.29 259.95,269.4 256.84,271.29 257.67,267.74 254.91,265.36 258.54,265.06" fill="#008000" stroke="#008000" stroke-width="0.5" stroke-linejoin="round"/>
<polygon points="261.84,261.91 263.25,265.27 266.88,265.57 264.12,267.95 264.96,271.5 261.84,269.61 258.72,271.5 259.56,267.95 256.8,265.57 260.43,265.27" fill="#008000" stroke="#008000" stroke-width="0.5" stroke-linejoin="round"/>
<polygon points="263.72,262.1 265.14,265.46 268.77,265.77 266.01,268.15 266.84,271.69 263.72,269.8 260.61,271.69 261.44,268.15 258.68,265.77 262.31,265.46" fill="#008000" stroke="#008000" stroke-width="0.5" stroke-linejoin="round"/>
<polygon points="265.61,262.4 267.02,265.76 270.65,266.06 267.89,268.44 268.73,271.99 265.61,270.1 262.49,271.99 263.33,268.44 260.57,266.06 264.2,265.76" fill="#008000" stroke="#008000" stroke-width="0.5" stroke-linejoin="round"/>
<polygon points="267.49,262.11 268.91,265.47 272.54,265.78 269.78,268.16 270.61,271.7 267.49,269.81 264.38,271.7 265.21,268.16 262.45,265.78 266.08,265.47" fill="#008000" stroke="#008000" stroke-width="0.5" stroke-linejoin="round"/>
<polygon points="269.38,262.5 270.79,265.86 274.42,266.16 271.66,268.54 272.5,272.09 269.38,270.2 266.26,272.09 267.1,268.54 264.34,266.16 267.97,265.86" fill="#008000" stroke="#008000" stroke-width="0.5" stroke-linejoin="round"/>
<polygon points="271.26,262.56 272.68,265.92 276.31,266.22 273.55,268.6 274.38,272.15 271.26,270.26 268.15,272.15 268.98,268.6 266.22,266.22 269.85,265.92" fill="#008000" stroke="#008000" stroke-width="0.5" stroke-linejoin="round"/>
<polygon points="273.15,262.19 274.56,265.55 278.19,265.85 275.43,268.23 276.27,271.78 273.15,269.89 270.03,271.78 270.87,268.23 268.11,265.85 271.74,265.55" fill="#008000" stroke="#008000" stroke-width="0.5" stroke-linejoin="round"/>
<polygon points="275.03,262.4 276.45,265.76 280.08,266.06 277.32,268.44 278.15,271.99 275.03,270.1 271.92,271.99 272.75,268.44 269.99,266.06 273.62,265.76" fill="#008000" stroke="#008000" stroke-width="0.5" stroke-linejoin="round"/>
</g>
<g clip-path="url(#cb)">
<polyline fill="none" stroke="#000000" stroke-width="1.8" stroke-linejoin="round" points="317.55,545.75 317.7,520.75 319,379.4 319.7,193.05 320,133.05 327.21,-106.95 328.21,53.05 336.6,231.3 338.6,266.3 340.2,296.3 343,326.3 344.7,347.7 346.5,368.1 347.6,390 348.1,412.04 349.99,423.44 351.87,434.03 353.75,444.46 355.64,452.34 357.52,458.51 359.41,463.75 361.29,467.91 363.18,471.18 365.06,473.77 366.95,476.03 368.83,477.63 370.72,478.66 372.6,479.71 374.49,480.48 376.37,480.84 378.26,480.88 380.14,480.56 382.03,479.77 383.91,479.1 385.8,478.26 387.68,477.37 389.57,476.32 391.45,475.01 393.34,473.33 395.22,471.55 397.11,469.64 398.99,467.51 400.88,465.82 402.76,463.66 404.65,461.58 406.53,459.4 408.42,457.59 410.3,456.06 412.19,454.68 414.07,453.21 415.96,452.04 417.84,450.91 419.73,450.26 421.61,449.7 423.5,449.22 425.38,448.71 427.27,448.66 429.15,448.14 431.04,448.02 432.92,447.8 434.81,447.57 436.69,447.32 438.58,447.29 440.46,447.12 442.35,446.97 444.23,447.05 446.12,447.04 448,446.74 449.89,446.85 451.77,446.63 453.66,446.43 455.54,446.63 457.43,446.55 459.31,446.37 461.2,446.44 463.08,446.38 464.97,446.12 466.85,446.33 468.74,446.35"/>
<rect x="315.1" y="375.5" width="7.8" height="7.8" fill="#000000"/>
<rect x="332.7" y="227.4" width="7.8" height="7.8" fill="#000000"/>
<rect x="334.7" y="262.4" width="7.8" height="7.8" fill="#000000"/>
<rect x="336.3" y="292.4" width="7.8" height="7.8" fill="#000000"/>
<rect x="339.1" y="322.4" width="7.8" height="7.8" fill="#000000"/>
<rect x="340.8" y="343.8" width="7.8" height="7.8" fill="#000000"/>
<rect x="342.6" y="364.2" width="7.8" height="7.8" fill="#000000"/>
<rect x="343.7" y="386.1" width="7.8" height="7.8" fill="#000000"/>
<rect x="344.2" y="408.14" width="7.8" height="7.8" fill="#000000"/>
<rect x="346.09" y="419.54" width="7.8" height="7.8" fill="#000000"/>
<rect x="347.97" y="430.13" width="7.8" height="7.8" fill="#000000"/>
<rect x="349.86" y="440.56" width="7.8" height="7.8" fill="#000000"/>
<rect x="351.74" y="448.44" width="7.8" height="7.8" fill="#000000"/>
<rect x="353.62" y="454.61" width="7.8" height="7.8" fill="#000000"/>
<rect x="355.51" y="459.85" width="7.8" height="7.8" fill="#000000"/>
<rect x="357.39" y="464.01" width="7.8" height="7.8" fill="#000000"/>
<rect x="359.28" y="467.28" width="7.8" height="7.8" fill="#000000"/>
<rect x="361.16" y="469.87" width="7.8" height="7.8" fill="#000000"/>
<rect x="363.05" y="472.13" width="7.8" height="7.8" fill="#000000"/>
<rect x="364.93" y="473.73" width="7.8" height="7.8" fill="#000000"/>
<rect x="366.82" y="474.76" width="7.8" height="7.8" fill="#000000"/>
<rect x="368.7" y="475.81" width="7.8" height="7.8" fill="#000000"/>
<rect x="370.59" y="476.58" width="7.8" height="7.8" fill="#000000"/>
<rect x="372.47" y="476.94" width="7.8" height="7.8" fill="#000000"/>
<rect x="374.36" y="476.98" width="7.8" height="7.8" fill="#000000"/>
<rect x="376.24" y="476.66" width="7.8" height="7.8" fill="#000000"/>
<rect x="378.13" y="475.87" width="7.8" height="7.8" fill="#000000"/>
<rect x="380.01" y="475.2" width="7.8" height="7.8" fill="#000000"/>
<rect x="381.9" y="474.36" width="7.8" height="7.8" fill="#000000"/>
<rect x="383.78" y="473.47" width="7.8" height="7.8" fill="#000000"/>
<rect x="385.67" y="472.42" width="7.8" height="7.8" fill="#000000"/>
<rect x="387.55" y="471.11" width="7.8" height="7.8" fill="#000000"/>
<rect x="389.44" y="469.43" width="7.8" height="7.8" fill="#000000"/>
<rect x="391.32" y="467.65" width="7.8" height="7.8" fill="#000000"/>
<rect x="393.21" y="465.74" width="7.8" height="7.8" fill="#000000"/>
<rect x="395.09" y="463.61" width="7.8" height="7.8" fill="#000000"/>
<rect x="396.98" y="461.92" width="7.8" height="7.8" fill="#000000"/>
<rect x="398.86" y="459.76" width="7.8" height="7.8" fill="#000000"/>
<rect x="400.75" y="457.68" width="7.8" height="7.8" fill="#000000"/>
<rect x="402.63" y="455.5" width="7.8" height="7.8" fill="#000000"/>
<rect x="404.52" y="453.69" width="7.8" height="7.8" fill="#000000"/>
<rect x="406.4" y="452.16" width="7.8" height="7.8" fill="#000000"/>
<rect x="408.29" y="450.78" width="7.8" height="7.8" fill="#000000"/>
<rect x="410.17" y="449.31" width="7.8" height="7.8" fill="#000000"/>
<rect x="412.06" y="448.14" width="7.8" height="7.8" fill="#000000"/>
<rect x="413.94" y="447.01" width="7.8" height="7.8" fill="#000000"/>
<rect x="415.83" y="446.36" width="7.8" height="7.8" fill="#000000"/>
<rect x="417.71" y="445.8" width="7.8" height="7.8" fill="#000000"/>
<rect x="419.6" y="445.32" width="7.8" height="7.8" fill="#000000"/>
<rect x="421.48" y="444.81" width="7.8" height="7.8" fill="#000000"/>
<rect x="423.37" y="444.76" width="7.8" height="7.8" fill="#000000"/>
<rect x="425.25" y="444.24" width="7.8" height="7.8" fill="#000000"/>
<rect x="427.14" y="444.12" width="7.8" height="7.8" fill="#000000"/>
<rect x="429.02" y="443.9" width="7.8" height="7.8" fill="#000000"/>
<rect x="430.91" y="443.67" width="7.8" height="7.8" fill="#000000"/>
<rect x="432.79" y="443.42" width="7.8" height="7.8" fill="#000000"/>
<rect x="434.68" y="443.39" width="7.8" height="7.8" fill="#000000"/>
<rect x="436.56" y="443.22" width="7.8" height="7.8" fill="#000000"/>
<rect x="438.45" y="443.07" width="7.8" height="7.8" fill="#000000"/>
<rect x="440.33" y="443.15" width="7.8" height="7.8" fill="#000000"/>
<rect x="442.22" y="443.14" width="7.8" height="7.8" fill="#000000"/>
<rect x="444.1" y="442.84" width="7.8" height="7.8" fill="#000000"/>
<rect x="445.99" y="442.95" width="7.8" height="7.8" fill="#000000"/>
<rect x="447.87" y="442.73" width="7.8" height="7.8" fill="#000000"/>
<rect x="449.76" y="442.53" width="7.8" height="7.8" fill="#000000"/>
<rect x="451.64" y="442.73" width="7.8" height="7.8" fill="#000000"/>
<rect x="453.53" y="442.65" width="7.8" height="7.8" fill="#000000"/>
<rect x="455.41" y="442.47" width="7.8" height="7.8" fill="#000000"/>
<rect x="457.3" y="442.54" width="7.8" height="7.8" fill="#000000"/>
<rect x="459.18" y="442.48" width="7.8" height="7.8" fill="#000000"/>
<rect x="461.07" y="442.22" width="7.8" height="7.8" fill="#000000"/>
<rect x="462.95" y="442.43" width="7.8" height="7.8" fill="#000000"/>
<rect x="464.84" y="442.45" width="7.8" height="7.8" fill="#000000"/>
<polyline fill="none" stroke="#ff0000" stroke-width="1.8" stroke-linejoin="round" points="317.55,545.75 317.7,520.75 319,355.5 319.7,193.05 320,133.05 326.02,-106.95 327.02,63.05 333.2,224.4 334.2,246.4 335.7,282.7 339,304.9 340.2,324.4 342.8,343 344.7,363 346.2,376.9 346.8,391 347.1,404.8 348.6,410.37 350.49,416.94 352.37,422.43 354.25,427.28 356.14,431.87 358.02,435.5 359.91,438.6 361.79,441.26 363.68,443.11 365.56,444.6 367.45,445.47 369.33,446.5 371.22,446.8 373.1,446.92 374.99,446.96 376.87,446.78 378.76,446.26 380.64,446.08 382.53,445.23 384.41,444.63 386.3,443.1 388.18,442.73 390.07,440.88 391.95,439.57 393.84,437.8 395.72,436.24 397.61,435.03 399.49,433.17 401.38,431.27 403.26,429.82 405.15,428.34 407.03,426.72 408.92,425.34 410.8,424.72 412.69,423.88 414.57,423.04 416.46,422.17 418.34,422.41 420.23,422.14 422.11,422.09 424,421.57 425.88,421.96 427.77,421.26 429.65,421.4 431.54,421.58 433.42,421.3 435.31,421.59 437.19,421.66 439.08,421.57 440.96,421.43 442.85,421.43 444.73,421.2 446.62,421.14 448.5,421.01 450.39,421.39 452.27,421.08 454.16,421.05 456.04,421.35 457.93,421.41 459.81,421.49 461.7,421.52 463.58,421.47 465.47,421.03 467.35,421.43 469.24,421.33"/>
<circle cx="319" cy="355.5" r="4.1" fill="#fff" stroke="#ff0000" stroke-width="0.85"/><path d="M314.5 355.5A4.5 4.5 0 0 1 323.5 355.5Z" fill="#ff0000"/>
<circle cx="333.2" cy="224.4" r="4.1" fill="#fff" stroke="#ff0000" stroke-width="0.85"/><path d="M328.7 224.4A4.5 4.5 0 0 1 337.7 224.4Z" fill="#ff0000"/>
<circle cx="334.2" cy="246.4" r="4.1" fill="#fff" stroke="#ff0000" stroke-width="0.85"/><path d="M329.7 246.4A4.5 4.5 0 0 1 338.7 246.4Z" fill="#ff0000"/>
<circle cx="335.7" cy="282.7" r="4.1" fill="#fff" stroke="#ff0000" stroke-width="0.85"/><path d="M331.2 282.7A4.5 4.5 0 0 1 340.2 282.7Z" fill="#ff0000"/>
<circle cx="339" cy="304.9" r="4.1" fill="#fff" stroke="#ff0000" stroke-width="0.85"/><path d="M334.5 304.9A4.5 4.5 0 0 1 343.5 304.9Z" fill="#ff0000"/>
<circle cx="340.2" cy="324.4" r="4.1" fill="#fff" stroke="#ff0000" stroke-width="0.85"/><path d="M335.7 324.4A4.5 4.5 0 0 1 344.7 324.4Z" fill="#ff0000"/>
<circle cx="342.8" cy="343" r="4.1" fill="#fff" stroke="#ff0000" stroke-width="0.85"/><path d="M338.3 343A4.5 4.5 0 0 1 347.3 343Z" fill="#ff0000"/>
<circle cx="344.7" cy="363" r="4.1" fill="#fff" stroke="#ff0000" stroke-width="0.85"/><path d="M340.2 363A4.5 4.5 0 0 1 349.2 363Z" fill="#ff0000"/>
<circle cx="346.2" cy="376.9" r="4.1" fill="#fff" stroke="#ff0000" stroke-width="0.85"/><path d="M341.7 376.9A4.5 4.5 0 0 1 350.7 376.9Z" fill="#ff0000"/>
<circle cx="346.8" cy="391" r="4.1" fill="#fff" stroke="#ff0000" stroke-width="0.85"/><path d="M342.3 391A4.5 4.5 0 0 1 351.3 391Z" fill="#ff0000"/>
<circle cx="347.1" cy="404.8" r="4.1" fill="#fff" stroke="#ff0000" stroke-width="0.85"/><path d="M342.6 404.8A4.5 4.5 0 0 1 351.6 404.8Z" fill="#ff0000"/>
<circle cx="348.6" cy="410.37" r="4.1" fill="#fff" stroke="#ff0000" stroke-width="0.85"/><path d="M344.1 410.37A4.5 4.5 0 0 1 353.1 410.37Z" fill="#ff0000"/>
<circle cx="350.49" cy="416.94" r="4.1" fill="#fff" stroke="#ff0000" stroke-width="0.85"/><path d="M345.99 416.94A4.5 4.5 0 0 1 354.99 416.94Z" fill="#ff0000"/>
<circle cx="352.37" cy="422.43" r="4.1" fill="#fff" stroke="#ff0000" stroke-width="0.85"/><path d="M347.87 422.43A4.5 4.5 0 0 1 356.87 422.43Z" fill="#ff0000"/>
<circle cx="354.25" cy="427.28" r="4.1" fill="#fff" stroke="#ff0000" stroke-width="0.85"/><path d="M349.75 427.28A4.5 4.5 0 0 1 358.75 427.28Z" fill="#ff0000"/>
<circle cx="356.14" cy="431.87" r="4.1" fill="#fff" stroke="#ff0000" stroke-width="0.85"/><path d="M351.64 431.87A4.5 4.5 0 0 1 360.64 431.87Z" fill="#ff0000"/>
<circle cx="358.02" cy="435.5" r="4.1" fill="#fff" stroke="#ff0000" stroke-width="0.85"/><path d="M353.52 435.5A4.5 4.5 0 0 1 362.52 435.5Z" fill="#ff0000"/>
<circle cx="359.91" cy="438.6" r="4.1" fill="#fff" stroke="#ff0000" stroke-width="0.85"/><path d="M355.41 438.6A4.5 4.5 0 0 1 364.41 438.6Z" fill="#ff0000"/>
<circle cx="361.79" cy="441.26" r="4.1" fill="#fff" stroke="#ff0000" stroke-width="0.85"/><path d="M357.29 441.26A4.5 4.5 0 0 1 366.29 441.26Z" fill="#ff0000"/>
<circle cx="363.68" cy="443.11" r="4.1" fill="#fff" stroke="#ff0000" stroke-width="0.85"/><path d="M359.18 443.11A4.5 4.5 0 0 1 368.18 443.11Z" fill="#ff0000"/>
<circle cx="365.56" cy="444.6" r="4.1" fill="#fff" stroke="#ff0000" stroke-width="0.85"/><path d="M361.06 444.6A4.5 4.5 0 0 1 370.06 444.6Z" fill="#ff0000"/>
<circle cx="367.45" cy="445.47" r="4.1" fill="#fff" stroke="#ff0000" stroke-width="0.85"/><path d="M362.95 445.47A4.5 4.5 0 0 1 371.95 445.47Z" fill="#ff0000"/>
<circle cx="369.33" cy="446.5" r="4.1" fill="#fff" stroke="#ff0000" stroke-width="0.85"/><path d="M364.83 446.5A4.5 4.5 0 0 1 373.83 446.5Z" fill="#ff0000"/>
<circle cx="371.22" cy="446.8" r="4.1" fill="#fff" stroke="#ff0000" stroke-width="0.85"/><path d="M366.72 446.8A4.5 4.5 0 0 1 375.72 446.8Z" fill="#ff0000"/>
<circle cx="373.1" cy="446.92" r="4.1" fill="#fff" stroke="#ff0000" stroke-width="0.85"/><path d="M368.6 446.92A4.5 4.5 0 0 1 377.6 446.92Z" fill="#ff0000"/>
<circle cx="374.99" cy="446.96" r="4.1" fill="#fff" stroke="#ff0000" stroke-width="0.85"/><path d="M370.49 446.96A4.5 4.5 0 0 1 379.49 446.96Z" fill="#ff0000"/>
<circle cx="376.87" cy="446.78" r="4.1" fill="#fff" stroke="#ff0000" stroke-width="0.85"/><path d="M372.37 446.78A4.5 4.5 0 0 1 381.37 446.78Z" fill="#ff0000"/>
<circle cx="378.76" cy="446.26" r="4.1" fill="#fff" stroke="#ff0000" stroke-width="0.85"/><path d="M374.26 446.26A4.5 4.5 0 0 1 383.26 446.26Z" fill="#ff0000"/>
<circle cx="380.64" cy="446.08" r="4.1" fill="#fff" stroke="#ff0000" stroke-width="0.85"/><path d="M376.14 446.08A4.5 4.5 0 0 1 385.14 446.08Z" fill="#ff0000"/>
<circle cx="382.53" cy="445.23" r="4.1" fill="#fff" stroke="#ff0000" stroke-width="0.85"/><path d="M378.03 445.23A4.5 4.5 0 0 1 387.03 445.23Z" fill="#ff0000"/>
<circle cx="384.41" cy="444.63" r="4.1" fill="#fff" stroke="#ff0000" stroke-width="0.85"/><path d="M379.91 444.63A4.5 4.5 0 0 1 388.91 444.63Z" fill="#ff0000"/>
<circle cx="386.3" cy="443.1" r="4.1" fill="#fff" stroke="#ff0000" stroke-width="0.85"/><path d="M381.8 443.1A4.5 4.5 0 0 1 390.8 443.1Z" fill="#ff0000"/>
<circle cx="388.18" cy="442.73" r="4.1" fill="#fff" stroke="#ff0000" stroke-width="0.85"/><path d="M383.68 442.73A4.5 4.5 0 0 1 392.68 442.73Z" fill="#ff0000"/>
<circle cx="390.07" cy="440.88" r="4.1" fill="#fff" stroke="#ff0000" stroke-width="0.85"/><path d="M385.57 440.88A4.5 4.5 0 0 1 394.57 440.88Z" fill="#ff0000"/>
<circle cx="391.95" cy="439.57" r="4.1" fill="#fff" stroke="#ff0000" stroke-width="0.85"/><path d="M387.45 439.57A4.5 4.5 0 0 1 396.45 439.57Z" fill="#ff0000"/>
<circle cx="393.84" cy="437.8" r="4.1" fill="#fff" stroke="#ff0000" stroke-width="0.85"/><path d="M389.34 437.8A4.5 4.5 0 0 1 398.34 437.8Z" fill="#ff0000"/>
<circle cx="395.72" cy="436.24" r="4.1" fill="#fff" stroke="#ff0000" stroke-width="0.85"/><path d="M391.22 436.24A4.5 4.5 0 0 1 400.22 436.24Z" fill="#ff0000"/>
<circle cx="397.61" cy="435.03" r="4.1" fill="#fff" stroke="#ff0000" stroke-width="0.85"/><path d="M393.11 435.03A4.5 4.5 0 0 1 402.11 435.03Z" fill="#ff0000"/>
<circle cx="399.49" cy="433.17" r="4.1" fill="#fff" stroke="#ff0000" stroke-width="0.85"/><path d="M394.99 433.17A4.5 4.5 0 0 1 403.99 433.17Z" fill="#ff0000"/>
<circle cx="401.38" cy="431.27" r="4.1" fill="#fff" stroke="#ff0000" stroke-width="0.85"/><path d="M396.88 431.27A4.5 4.5 0 0 1 405.88 431.27Z" fill="#ff0000"/>
<circle cx="403.26" cy="429.82" r="4.1" fill="#fff" stroke="#ff0000" stroke-width="0.85"/><path d="M398.76 429.82A4.5 4.5 0 0 1 407.76 429.82Z" fill="#ff0000"/>
<circle cx="405.15" cy="428.34" r="4.1" fill="#fff" stroke="#ff0000" stroke-width="0.85"/><path d="M400.65 428.34A4.5 4.5 0 0 1 409.65 428.34Z" fill="#ff0000"/>
<circle cx="407.03" cy="426.72" r="4.1" fill="#fff" stroke="#ff0000" stroke-width="0.85"/><path d="M402.53 426.72A4.5 4.5 0 0 1 411.53 426.72Z" fill="#ff0000"/>
<circle cx="408.92" cy="425.34" r="4.1" fill="#fff" stroke="#ff0000" stroke-width="0.85"/><path d="M404.42 425.34A4.5 4.5 0 0 1 413.42 425.34Z" fill="#ff0000"/>
<circle cx="410.8" cy="424.72" r="4.1" fill="#fff" stroke="#ff0000" stroke-width="0.85"/><path d="M406.3 424.72A4.5 4.5 0 0 1 415.3 424.72Z" fill="#ff0000"/>
<circle cx="412.69" cy="423.88" r="4.1" fill="#fff" stroke="#ff0000" stroke-width="0.85"/><path d="M408.19 423.88A4.5 4.5 0 0 1 417.19 423.88Z" fill="#ff0000"/>
<circle cx="414.57" cy="423.04" r="4.1" fill="#fff" stroke="#ff0000" stroke-width="0.85"/><path d="M410.07 423.04A4.5 4.5 0 0 1 419.07 423.04Z" fill="#ff0000"/>
<circle cx="416.46" cy="422.17" r="4.1" fill="#fff" stroke="#ff0000" stroke-width="0.85"/><path d="M411.96 422.17A4.5 4.5 0 0 1 420.96 422.17Z" fill="#ff0000"/>
<circle cx="418.34" cy="422.41" r="4.1" fill="#fff" stroke="#ff0000" stroke-width="0.85"/><path d="M413.84 422.41A4.5 4.5 0 0 1 422.84 422.41Z" fill="#ff0000"/>
<circle cx="420.23" cy="422.14" r="4.1" fill="#fff" stroke="#ff0000" stroke-width="0.85"/><path d="M415.73 422.14A4.5 4.5 0 0 1 424.73 422.14Z" fill="#ff0000"/>
<circle cx="422.11" cy="422.09" r="4.1" fill="#fff" stroke="#ff0000" stroke-width="0.85"/><path d="M417.61 422.09A4.5 4.5 0 0 1 426.61 422.09Z" fill="#ff0000"/>
<circle cx="424" cy="421.57" r="4.1" fill="#fff" stroke="#ff0000" stroke-width="0.85"/><path d="M419.5 421.57A4.5 4.5 0 0 1 428.5 421.57Z" fill="#ff0000"/>
<circle cx="425.88" cy="421.96" r="4.1" fill="#fff" stroke="#ff0000" stroke-width="0.85"/><path d="M421.38 421.96A4.5 4.5 0 0 1 430.38 421.96Z" fill="#ff0000"/>
<circle cx="427.77" cy="421.26" r="4.1" fill="#fff" stroke="#ff0000" stroke-width="0.85"/><path d="M423.27 421.26A4.5 4.5 0 0 1 432.27 421.26Z" fill="#ff0000"/>
<circle cx="429.65" cy="421.4" r="4.1" fill="#fff" stroke="#ff0000" stroke-width="0.85"/><path d="M425.15 421.4A4.5 4.5 0 0 1 434.15 421.4Z" fill="#ff0000"/>
<circle cx="431.54" cy="421.58" r="4.1" fill="#fff" stroke="#ff0000" stroke-width="0.85"/><path d="M427.04 421.58A4.5 4.5 0 0 1 436.04 421.58Z" fill="#ff0000"/>
<circle cx="433.42" cy="421.3" r="4.1" fill="#fff" stroke="#ff0000" stroke-width="0.85"/><path d="M428.92 421.3A4.5 4.5 0 0 1 437.92 421.3Z" fill="#ff0000"/>
<circle cx="435.31" cy="421.59" r="4.1" fill="#fff" stroke="#ff0000" stroke-width="0.85"/><path d="M430.81 421.59A4.5 4.5 0 0 1 439.81 421.59Z" fill="#ff0000"/>
<circle cx="437.19" cy="421.66" r="4.1" fill="#fff" stroke="#ff0000" stroke-width="0.85"/><path d="M432.69 421.66A4.5 4.5 0 0 1 441.69 421.66Z" fill="#ff0000"/>
<circle cx="439.08" cy="421.57" r="4.1" fill="#fff" stroke="#ff0000" stroke-width="0.85"/><path d="M434.58 421.57A4.5 4.5 0 0 1 443.58 421.57Z" fill="#ff0000"/>
<circle cx="440.96" cy="421.43" r="4.1" fill="#fff" stroke="#ff0000" stroke-width="0.85"/><path d="M436.46 421.43A4.5 4.5 0 0 1 445.46 421.43Z" fill="#ff0000"/>
<circle cx="442.85" cy="421.43" r="4.1" fill="#fff" stroke="#ff0000" stroke-width="0.85"/><path d="M438.35 421.43A4.5 4.5 0 0 1 447.35 421.43Z" fill="#ff0000"/>
<circle cx="444.73" cy="421.2" r="4.1" fill="#fff" stroke="#ff0000" stroke-width="0.85"/><path d="M440.23 421.2A4.5 4.5 0 0 1 449.23 421.2Z" fill="#ff0000"/>
<circle cx="446.62" cy="421.14" r="4.1" fill="#fff" stroke="#ff0000" stroke-width="0.85"/><path d="M442.12 421.14A4.5 4.5 0 0 1 451.12 421.14Z" fill="#ff0000"/>
<circle cx="448.5" cy="421.01" r="4.1" fill="#fff" stroke="#ff0000" stroke-width="0.85"/><path d="M444 421.01A4.5 4.5 0 0 1 453 421.01Z" fill="#ff0000"/>
<circle cx="450.39" cy="421.39" r="4.1" fill="#fff" stroke="#ff0000" stroke-width="0.85"/><path d="M445.89 421.39A4.5 4.5 0 0 1 454.89 421.39Z" fill="#ff0000"/>
<circle cx="452.27" cy="421.08" r="4.1" fill="#fff" stroke="#ff0000" stroke-width="0.85"/><path d="M447.77 421.08A4.5 4.5 0 0 1 456.77 421.08Z" fill="#ff0000"/>
<circle cx="454.16" cy="421.05" r="4.1" fill="#fff" stroke="#ff0000" stroke-width="0.85"/><path d="M449.66 421.05A4.5 4.5 0 0 1 458.66 421.05Z" fill="#ff0000"/>
<circle cx="456.04" cy="421.35" r="4.1" fill="#fff" stroke="#ff0000" stroke-width="0.85"/><path d="M451.54 421.35A4.5 4.5 0 0 1 460.54 421.35Z" fill="#ff0000"/>
<circle cx="457.93" cy="421.41" r="4.1" fill="#fff" stroke="#ff0000" stroke-width="0.85"/><path d="M453.43 421.41A4.5 4.5 0 0 1 462.43 421.41Z" fill="#ff0000"/>
<circle cx="459.81" cy="421.49" r="4.1" fill="#fff" stroke="#ff0000" stroke-width="0.85"/><path d="M455.31 421.49A4.5 4.5 0 0 1 464.31 421.49Z" fill="#ff0000"/>
<circle cx="461.7" cy="421.52" r="4.1" fill="#fff" stroke="#ff0000" stroke-width="0.85"/><path d="M457.2 421.52A4.5 4.5 0 0 1 466.2 421.52Z" fill="#ff0000"/>
<circle cx="463.58" cy="421.47" r="4.1" fill="#fff" stroke="#ff0000" stroke-width="0.85"/><path d="M459.08 421.47A4.5 4.5 0 0 1 468.08 421.47Z" fill="#ff0000"/>
<circle cx="465.47" cy="421.03" r="4.1" fill="#fff" stroke="#ff0000" stroke-width="0.85"/><path d="M460.97 421.03A4.5 4.5 0 0 1 469.97 421.03Z" fill="#ff0000"/>
<circle cx="467.35" cy="421.43" r="4.1" fill="#fff" stroke="#ff0000" stroke-width="0.85"/><path d="M462.85 421.43A4.5 4.5 0 0 1 471.85 421.43Z" fill="#ff0000"/>
<circle cx="469.24" cy="421.33" r="4.1" fill="#fff" stroke="#ff0000" stroke-width="0.85"/><path d="M464.74 421.33A4.5 4.5 0 0 1 473.74 421.33Z" fill="#ff0000"/>
<polyline fill="none" stroke="#0000ff" stroke-width="1.8" stroke-linejoin="round" points="317.55,545.75 317.7,520.75 319,409.8 319.7,193.05 320,133.05 323.76,-106.95 324.76,73.05 330.1,214.2 331.9,275.6 333.7,297.4 335.8,308.6 337.6,331.9 339.5,349.5 341.5,367 343.6,377 345.2,386 346.6,393.57 348.49,398.69 350.37,402.96 352.25,406.75 354.14,410.01 356.02,413 357.91,416.29 359.79,418.57 361.68,420.58 363.56,420.12 365.45,420.1 367.33,420.67 369.22,420.12 371.1,420.22 372.99,419.69 374.87,417.33 376.76,416.8 378.64,416.6 380.53,415.56 382.41,414.23 384.3,412.35 386.18,411.26 388.07,409.83 389.95,409.27 391.84,407.52 393.72,405.72 395.61,404.43 397.49,402.34 399.38,402.47 401.26,400.78 403.15,400.1 405.03,399.32 406.92,399.12 408.8,398.69 410.69,398.21 412.57,397.12 414.46,396.36 416.34,396.44 418.23,396.76 420.11,396.51 422,395.48 423.88,395.01 425.77,395.93 427.65,395.69 429.54,395.89 431.42,395.59 433.31,395.82 435.19,394.79 437.08,395.52 438.96,394.8 440.85,395.65 442.73,395.85 444.62,396.4 446.5,395.31 448.39,395.86 450.27,395.89 452.16,396.39 454.04,395.98 455.93,395.43 457.81,396.64 459.7,396.67 461.58,395.53 463.47,395.88 465.35,397.02 467.24,395.68 469.12,396.31"/>
<path d="M319 405.1L324.2 409.8L319 414.5L313.8 409.8Z" fill="#fff" stroke="#0000ff" stroke-width="0.8"/><path d="M319 404.6L324.75 409.8L319 415Z" fill="#0000ff"/>
<path d="M330.1 209.5L335.3 214.2L330.1 218.9L324.9 214.2Z" fill="#fff" stroke="#0000ff" stroke-width="0.8"/><path d="M330.1 209L335.85 214.2L330.1 219.4Z" fill="#0000ff"/>
<path d="M331.9 270.9L337.1 275.6L331.9 280.3L326.7 275.6Z" fill="#fff" stroke="#0000ff" stroke-width="0.8"/><path d="M331.9 270.4L337.65 275.6L331.9 280.8Z" fill="#0000ff"/>
<path d="M333.7 292.7L338.9 297.4L333.7 302.1L328.5 297.4Z" fill="#fff" stroke="#0000ff" stroke-width="0.8"/><path d="M333.7 292.2L339.45 297.4L333.7 302.6Z" fill="#0000ff"/>
<path d="M335.8 303.9L341 308.6L335.8 313.3L330.6 308.6Z" fill="#fff" stroke="#0000ff" stroke-width="0.8"/><path d="M335.8 303.4L341.55 308.6L335.8 313.8Z" fill="#0000ff"/>
<path d="M337.6 327.2L342.8 331.9L337.6 336.6L332.4 331.9Z" fill="#fff" stroke="#0000ff" stroke-width="0.8"/><path d="M337.6 326.7L343.35 331.9L337.6 337.1Z" fill="#0000ff"/>
<path d="M339.5 344.8L344.7 349.5L339.5 354.2L334.3 349.5Z" fill="#fff" stroke="#0000ff" stroke-width="0.8"/><path d="M339.5 344.3L345.25 349.5L339.5 354.7Z" fill="#0000ff"/>
<path d="M341.5 362.3L346.7 367L341.5 371.7L336.3 367Z" fill="#fff" stroke="#0000ff" stroke-width="0.8"/><path d="M341.5 361.8L347.25 367L341.5 372.2Z" fill="#0000ff"/>
<path d="M343.6 372.3L348.8 377L343.6 381.7L338.4 377Z" fill="#fff" stroke="#0000ff" stroke-width="0.8"/><path d="M343.6 371.8L349.35 377L343.6 382.2Z" fill="#0000ff"/>
<path d="M345.2 381.3L350.4 386L345.2 390.7L340 386Z" fill="#fff" stroke="#0000ff" stroke-width="0.8"/><path d="M345.2 380.8L350.95 386L345.2 391.2Z" fill="#0000ff"/>
<path d="M346.6 388.87L351.8 393.57L346.6 398.27L341.4 393.57Z" fill="#fff" stroke="#0000ff" stroke-width="0.8"/><path d="M346.6 388.37L352.35 393.57L346.6 398.77Z" fill="#0000ff"/>
<path d="M348.49 393.99L353.69 398.69L348.49 403.39L343.29 398.69Z" fill="#fff" stroke="#0000ff" stroke-width="0.8"/><path d="M348.49 393.49L354.24 398.69L348.49 403.89Z" fill="#0000ff"/>
<path d="M350.37 398.26L355.57 402.96L350.37 407.66L345.17 402.96Z" fill="#fff" stroke="#0000ff" stroke-width="0.8"/><path d="M350.37 397.76L356.12 402.96L350.37 408.16Z" fill="#0000ff"/>
<path d="M352.25 402.05L357.45 406.75L352.25 411.45L347.06 406.75Z" fill="#fff" stroke="#0000ff" stroke-width="0.8"/><path d="M352.25 401.55L358 406.75L352.25 411.95Z" fill="#0000ff"/>
<path d="M354.14 405.31L359.34 410.01L354.14 414.71L348.94 410.01Z" fill="#fff" stroke="#0000ff" stroke-width="0.8"/><path d="M354.14 404.81L359.89 410.01L354.14 415.21Z" fill="#0000ff"/>
<path d="M356.02 408.3L361.22 413L356.02 417.7L350.82 413Z" fill="#fff" stroke="#0000ff" stroke-width="0.8"/><path d="M356.02 407.8L361.77 413L356.02 418.2Z" fill="#0000ff"/>
<path d="M357.91 411.59L363.11 416.29L357.91 420.99L352.71 416.29Z" fill="#fff" stroke="#0000ff" stroke-width="0.8"/><path d="M357.91 411.09L363.66 416.29L357.91 421.49Z" fill="#0000ff"/>
<path d="M359.79 413.87L364.99 418.57L359.79 423.27L354.59 418.57Z" fill="#fff" stroke="#0000ff" stroke-width="0.8"/><path d="M359.79 413.37L365.54 418.57L359.79 423.77Z" fill="#0000ff"/>
<path d="M361.68 415.88L366.88 420.58L361.68 425.28L356.48 420.58Z" fill="#fff" stroke="#0000ff" stroke-width="0.8"/><path d="M361.68 415.38L367.43 420.58L361.68 425.78Z" fill="#0000ff"/>
<path d="M363.56 415.42L368.76 420.12L363.56 424.82L358.36 420.12Z" fill="#fff" stroke="#0000ff" stroke-width="0.8"/><path d="M363.56 414.92L369.31 420.12L363.56 425.32Z" fill="#0000ff"/>
<path d="M365.45 415.4L370.65 420.1L365.45 424.8L360.25 420.1Z" fill="#fff" stroke="#0000ff" stroke-width="0.8"/><path d="M365.45 414.9L371.2 420.1L365.45 425.3Z" fill="#0000ff"/>
<path d="M367.33 415.97L372.53 420.67L367.33 425.37L362.13 420.67Z" fill="#fff" stroke="#0000ff" stroke-width="0.8"/><path d="M367.33 415.47L373.08 420.67L367.33 425.87Z" fill="#0000ff"/>
<path d="M369.22 415.42L374.42 420.12L369.22 424.82L364.02 420.12Z" fill="#fff" stroke="#0000ff" stroke-width="0.8"/><path d="M369.22 414.92L374.97 420.12L369.22 425.32Z" fill="#0000ff"/>
<path d="M371.1 415.52L376.3 420.22L371.1 424.92L365.9 420.22Z" fill="#fff" stroke="#0000ff" stroke-width="0.8"/><path d="M371.1 415.02L376.85 420.22L371.1 425.42Z" fill="#0000ff"/>
<path d="M372.99 414.99L378.19 419.69L372.99 424.39L367.79 419.69Z" fill="#fff" stroke="#0000ff" stroke-width="0.8"/><path d="M372.99 414.49L378.74 419.69L372.99 424.89Z" fill="#0000ff"/>
<path d="M374.87 412.63L380.07 417.33L374.87 422.03L369.67 417.33Z" fill="#fff" stroke="#0000ff" stroke-width="0.8"/><path d="M374.87 412.13L380.62 417.33L374.87 422.53Z" fill="#0000ff"/>
<path d="M376.76 412.1L381.96 416.8L376.76 421.5L371.56 416.8Z" fill="#fff" stroke="#0000ff" stroke-width="0.8"/><path d="M376.76 411.6L382.51 416.8L376.76 422Z" fill="#0000ff"/>
<path d="M378.64 411.9L383.84 416.6L378.64 421.3L373.44 416.6Z" fill="#fff" stroke="#0000ff" stroke-width="0.8"/><path d="M378.64 411.4L384.39 416.6L378.64 421.8Z" fill="#0000ff"/>
<path d="M380.53 410.86L385.73 415.56L380.53 420.26L375.33 415.56Z" fill="#fff" stroke="#0000ff" stroke-width="0.8"/><path d="M380.53 410.36L386.28 415.56L380.53 420.76Z" fill="#0000ff"/>
<path d="M382.41 409.53L387.61 414.23L382.41 418.93L377.21 414.23Z" fill="#fff" stroke="#0000ff" stroke-width="0.8"/><path d="M382.41 409.03L388.16 414.23L382.41 419.43Z" fill="#0000ff"/>
<path d="M384.3 407.65L389.5 412.35L384.3 417.05L379.1 412.35Z" fill="#fff" stroke="#0000ff" stroke-width="0.8"/><path d="M384.3 407.15L390.05 412.35L384.3 417.55Z" fill="#0000ff"/>
<path d="M386.18 406.56L391.38 411.26L386.18 415.96L380.98 411.26Z" fill="#fff" stroke="#0000ff" stroke-width="0.8"/><path d="M386.18 406.06L391.93 411.26L386.18 416.46Z" fill="#0000ff"/>
<path d="M388.07 405.13L393.27 409.83L388.07 414.53L382.87 409.83Z" fill="#fff" stroke="#0000ff" stroke-width="0.8"/><path d="M388.07 404.63L393.82 409.83L388.07 415.03Z" fill="#0000ff"/>
<path d="M389.95 404.57L395.15 409.27L389.95 413.97L384.75 409.27Z" fill="#fff" stroke="#0000ff" stroke-width="0.8"/><path d="M389.95 404.07L395.7 409.27L389.95 414.47Z" fill="#0000ff"/>
<path d="M391.84 402.82L397.04 407.52L391.84 412.22L386.64 407.52Z" fill="#fff" stroke="#0000ff" stroke-width="0.8"/><path d="M391.84 402.32L397.59 407.52L391.84 412.72Z" fill="#0000ff"/>
<path d="M393.72 401.02L398.92 405.72L393.72 410.42L388.52 405.72Z" fill="#fff" stroke="#0000ff" stroke-width="0.8"/><path d="M393.72 400.52L399.47 405.72L393.72 410.92Z" fill="#0000ff"/>
<path d="M395.61 399.73L400.81 404.43L395.61 409.13L390.41 404.43Z" fill="#fff" stroke="#0000ff" stroke-width="0.8"/><path d="M395.61 399.23L401.36 404.43L395.61 409.63Z" fill="#0000ff"/>
<path d="M397.49 397.64L402.69 402.34L397.49 407.04L392.29 402.34Z" fill="#fff" stroke="#0000ff" stroke-width="0.8"/><path d="M397.49 397.14L403.24 402.34L397.49 407.54Z" fill="#0000ff"/>
<path d="M399.38 397.77L404.58 402.47L399.38 407.17L394.18 402.47Z" fill="#fff" stroke="#0000ff" stroke-width="0.8"/><path d="M399.38 397.27L405.13 402.47L399.38 407.67Z" fill="#0000ff"/>
<path d="M401.26 396.08L406.46 400.78L401.26 405.48L396.06 400.78Z" fill="#fff" stroke="#0000ff" stroke-width="0.8"/><path d="M401.26 395.58L407.01 400.78L401.26 405.98Z" fill="#0000ff"/>
<path d="M403.15 395.4L408.35 400.1L403.15 404.8L397.95 400.1Z" fill="#fff" stroke="#0000ff" stroke-width="0.8"/><path d="M403.15 394.9L408.9 400.1L403.15 405.3Z" fill="#0000ff"/>
<path d="M405.03 394.62L410.23 399.32L405.03 404.02L399.83 399.32Z" fill="#fff" stroke="#0000ff" stroke-width="0.8"/><path d="M405.03 394.12L410.78 399.32L405.03 404.52Z" fill="#0000ff"/>
<path d="M406.92 394.42L412.12 399.12L406.92 403.82L401.72 399.12Z" fill="#fff" stroke="#0000ff" stroke-width="0.8"/><path d="M406.92 393.92L412.67 399.12L406.92 404.32Z" fill="#0000ff"/>
<path d="M408.8 393.99L414 398.69L408.8 403.39L403.6 398.69Z" fill="#fff" stroke="#0000ff" stroke-width="0.8"/><path d="M408.8 393.49L414.55 398.69L408.8 403.89Z" fill="#0000ff"/>
<path d="M410.69 393.51L415.89 398.21L410.69 402.91L405.49 398.21Z" fill="#fff" stroke="#0000ff" stroke-width="0.8"/><path d="M410.69 393.01L416.44 398.21L410.69 403.41Z" fill="#0000ff"/>
<path d="M412.57 392.42L417.77 397.12L412.57 401.82L407.37 397.12Z" fill="#fff" stroke="#0000ff" stroke-width="0.8"/><path d="M412.57 391.92L418.32 397.12L412.57 402.32Z" fill="#0000ff"/>
<path d="M414.46 391.66L419.66 396.36L414.46 401.06L409.26 396.36Z" fill="#fff" stroke="#0000ff" stroke-width="0.8"/><path d="M414.46 391.16L420.21 396.36L414.46 401.56Z" fill="#0000ff"/>
<path d="M416.34 391.74L421.54 396.44L416.34 401.14L411.14 396.44Z" fill="#fff" stroke="#0000ff" stroke-width="0.8"/><path d="M416.34 391.24L422.09 396.44L416.34 401.64Z" fill="#0000ff"/>
<path d="M418.23 392.06L423.43 396.76L418.23 401.46L413.03 396.76Z" fill="#fff" stroke="#0000ff" stroke-width="0.8"/><path d="M418.23 391.56L423.98 396.76L418.23 401.96Z" fill="#0000ff"/>
<path d="M420.11 391.81L425.31 396.51L420.11 401.21L414.91 396.51Z" fill="#fff" stroke="#0000ff" stroke-width="0.8"/><path d="M420.11 391.31L425.86 396.51L420.11 401.71Z" fill="#0000ff"/>
<path d="M422 390.78L427.2 395.48L422 400.18L416.8 395.48Z" fill="#fff" stroke="#0000ff" stroke-width="0.8"/><path d="M422 390.28L427.75 395.48L422 400.68Z" fill="#0000ff"/>
<path d="M423.88 390.31L429.08 395.01L423.88 399.71L418.68 395.01Z" fill="#fff" stroke="#0000ff" stroke-width="0.8"/><path d="M423.88 389.81L429.63 395.01L423.88 400.21Z" fill="#0000ff"/>
<path d="M425.77 391.23L430.97 395.93L425.77 400.63L420.57 395.93Z" fill="#fff" stroke="#0000ff" stroke-width="0.8"/><path d="M425.77 390.73L431.52 395.93L425.77 401.13Z" fill="#0000ff"/>
<path d="M427.65 390.99L432.85 395.69L427.65 400.39L422.45 395.69Z" fill="#fff" stroke="#0000ff" stroke-width="0.8"/><path d="M427.65 390.49L433.4 395.69L427.65 400.89Z" fill="#0000ff"/>
<path d="M429.54 391.19L434.74 395.89L429.54 400.59L424.34 395.89Z" fill="#fff" stroke="#0000ff" stroke-width="0.8"/><path d="M429.54 390.69L435.29 395.89L429.54 401.09Z" fill="#0000ff"/>
<path d="M431.42 390.89L436.62 395.59L431.42 400.29L426.22 395.59Z" fill="#fff" stroke="#0000ff" stroke-width="0.8"/><path d="M431.42 390.39L437.17 395.59L431.42 400.79Z" fill="#0000ff"/>
<path d="M433.31 391.12L438.51 395.82L433.31 400.52L428.11 395.82Z" fill="#fff" stroke="#0000ff" stroke-width="0.8"/><path d="M433.31 390.62L439.06 395.82L433.31 401.02Z" fill="#0000ff"/>
<path d="M435.19 390.09L440.39 394.79L435.19 399.49L429.99 394.79Z" fill="#fff" stroke="#0000ff" stroke-width="0.8"/><path d="M435.19 389.59L440.94 394.79L435.19 399.99Z" fill="#0000ff"/>
<path d="M437.08 390.82L442.28 395.52L437.08 400.22L431.88 395.52Z" fill="#fff" stroke="#0000ff" stroke-width="0.8"/><path d="M437.08 390.32L442.83 395.52L437.08 400.72Z" fill="#0000ff"/>
<path d="M438.96 390.1L444.16 394.8L438.96 399.5L433.76 394.8Z" fill="#fff" stroke="#0000ff" stroke-width="0.8"/><path d="M438.96 389.6L444.71 394.8L438.96 400Z" fill="#0000ff"/>
<path d="M440.85 390.95L446.05 395.65L440.85 400.35L435.65 395.65Z" fill="#fff" stroke="#0000ff" stroke-width="0.8"/><path d="M440.85 390.45L446.6 395.65L440.85 400.85Z" fill="#0000ff"/>
<path d="M442.73 391.15L447.93 395.85L442.73 400.55L437.53 395.85Z" fill="#fff" stroke="#0000ff" stroke-width="0.8"/><path d="M442.73 390.65L448.48 395.85L442.73 401.05Z" fill="#0000ff"/>
<path d="M444.62 391.7L449.82 396.4L444.62 401.1L439.42 396.4Z" fill="#fff" stroke="#0000ff" stroke-width="0.8"/><path d="M444.62 391.2L450.37 396.4L444.62 401.6Z" fill="#0000ff"/>
<path d="M446.5 390.61L451.7 395.31L446.5 400.01L441.3 395.31Z" fill="#fff" stroke="#0000ff" stroke-width="0.8"/><path d="M446.5 390.11L452.25 395.31L446.5 400.51Z" fill="#0000ff"/>
<path d="M448.39 391.16L453.59 395.86L448.39 400.56L443.19 395.86Z" fill="#fff" stroke="#0000ff" stroke-width="0.8"/><path d="M448.39 390.66L454.14 395.86L448.39 401.06Z" fill="#0000ff"/>
<path d="M450.27 391.19L455.47 395.89L450.27 400.59L445.07 395.89Z" fill="#fff" stroke="#0000ff" stroke-width="0.8"/><path d="M450.27 390.69L456.02 395.89L450.27 401.09Z" fill="#0000ff"/>
<path d="M452.16 391.69L457.36 396.39L452.16 401.09L446.96 396.39Z" fill="#fff" stroke="#0000ff" stroke-width="0.8"/><path d="M452.16 391.19L457.91 396.39L452.16 401.59Z" fill="#0000ff"/>
<path d="M454.04 391.28L459.24 395.98L454.04 400.68L448.84 395.98Z" fill="#fff" stroke="#0000ff" stroke-width="0.8"/><path d="M454.04 390.78L459.79 395.98L454.04 401.18Z" fill="#0000ff"/>
<path d="M455.93 390.73L461.13 395.43L455.93 400.13L450.73 395.43Z" fill="#fff" stroke="#0000ff" stroke-width="0.8"/><path d="M455.93 390.23L461.68 395.43L455.93 400.63Z" fill="#0000ff"/>
<path d="M457.81 391.94L463.01 396.64L457.81 401.34L452.61 396.64Z" fill="#fff" stroke="#0000ff" stroke-width="0.8"/><path d="M457.81 391.44L463.56 396.64L457.81 401.84Z" fill="#0000ff"/>
<path d="M459.7 391.97L464.9 396.67L459.7 401.37L454.5 396.67Z" fill="#fff" stroke="#0000ff" stroke-width="0.8"/><path d="M459.7 391.47L465.45 396.67L459.7 401.87Z" fill="#0000ff"/>
<path d="M461.58 390.83L466.78 395.53L461.58 400.23L456.38 395.53Z" fill="#fff" stroke="#0000ff" stroke-width="0.8"/><path d="M461.58 390.33L467.33 395.53L461.58 400.73Z" fill="#0000ff"/>
<path d="M463.47 391.18L468.67 395.88L463.47 400.58L458.27 395.88Z" fill="#fff" stroke="#0000ff" stroke-width="0.8"/><path d="M463.47 390.68L469.22 395.88L463.47 401.08Z" fill="#0000ff"/>
<path d="M465.35 392.32L470.55 397.02L465.35 401.72L460.15 397.02Z" fill="#fff" stroke="#0000ff" stroke-width="0.8"/><path d="M465.35 391.82L471.1 397.02L465.35 402.22Z" fill="#0000ff"/>
<path d="M467.24 390.98L472.44 395.68L467.24 400.38L462.04 395.68Z" fill="#fff" stroke="#0000ff" stroke-width="0.8"/><path d="M467.24 390.48L472.99 395.68L467.24 400.88Z" fill="#0000ff"/>
<path d="M469.12 391.61L474.32 396.31L469.12 401.01L463.92 396.31Z" fill="#fff" stroke="#0000ff" stroke-width="0.8"/><path d="M469.12 391.11L474.87 396.31L469.12 401.51Z" fill="#0000ff"/>
<polyline fill="none" stroke="#ff8000" stroke-width="1.8" stroke-linejoin="round" points="317.05,545.75 317.2,520.75 319,386.6 319.3,193.05 319.6,133.05 326.16,-106.95 327.16,83.05 328.2,261.6 330.3,308.6 332,330 333.8,342.6 335.6,348.5 337.3,353.1 338.8,358.8 340.7,363.5 342.5,368 344.3,376.8 346.3,382.5 348.3,386.58 350.19,389.42 352.07,392.24 353.95,395.34 355.84,397.81 357.72,400.5 359.61,403.08 361.49,404.23 363.38,404.16 365.26,403.49 367.15,401.84 369.03,400.27 370.92,397.85 372.8,395.75 374.69,393.58 376.57,391.12 378.46,388.94 380.34,386.24 382.23,383.96 384.11,381.58 386,379.47 387.88,376.59 389.77,374.34 391.65,372.12 393.54,370.02 395.42,367.94 397.31,366.08 399.19,364.61 401.08,363.49 402.96,362.96 404.85,362.63 406.73,362.15 408.62,362.12 410.5,362.07 412.39,361.76 414.27,362.19 416.16,362.03 418.04,362.19 419.93,362.16 421.81,362.7 423.7,362.73 425.58,362.93 427.47,363.23 429.35,363.45 431.24,364.44 433.12,364.66 435.01,364.73 436.89,365.27 438.78,365.96 440.66,366.15 442.55,366.25 444.43,366.88 446.32,367.16 448.2,367.06 450.09,367.79 451.97,368.1 453.86,368.41 455.74,368.6 457.63,368.86 459.51,368.88 461.4,369.05 463.28,369.58 465.17,369.8 467.05,369.61 468.94,369.87"/>
<path d="M314.1 383.6L323.9 383.6L319 392.6Z" fill="#fff" stroke="#ff8000" stroke-width="1.15"/><path d="M314.1 383.6L319 383.6L319 392.6Z" fill="#ff8000"/>
<path d="M323.3 258.6L333.1 258.6L328.2 267.6Z" fill="#fff" stroke="#ff8000" stroke-width="1.15"/><path d="M323.3 258.6L328.2 258.6L328.2 267.6Z" fill="#ff8000"/>
<path d="M325.4 305.6L335.2 305.6L330.3 314.6Z" fill="#fff" stroke="#ff8000" stroke-width="1.15"/><path d="M325.4 305.6L330.3 305.6L330.3 314.6Z" fill="#ff8000"/>
<path d="M327.1 327L336.9 327L332 336Z" fill="#fff" stroke="#ff8000" stroke-width="1.15"/><path d="M327.1 327L332 327L332 336Z" fill="#ff8000"/>
<path d="M328.9 339.6L338.7 339.6L333.8 348.6Z" fill="#fff" stroke="#ff8000" stroke-width="1.15"/><path d="M328.9 339.6L333.8 339.6L333.8 348.6Z" fill="#ff8000"/>
<path d="M330.7 345.5L340.5 345.5L335.6 354.5Z" fill="#fff" stroke="#ff8000" stroke-width="1.15"/><path d="M330.7 345.5L335.6 345.5L335.6 354.5Z" fill="#ff8000"/>
<path d="M332.4 350.1L342.2 350.1L337.3 359.1Z" fill="#fff" stroke="#ff8000" stroke-width="1.15"/><path d="M332.4 350.1L337.3 350.1L337.3 359.1Z" fill="#ff8000"/>
<path d="M333.9 355.8L343.7 355.8L338.8 364.8Z" fill="#fff" stroke="#ff8000" stroke-width="1.15"/><path d="M333.9 355.8L338.8 355.8L338.8 364.8Z" fill="#ff8000"/>
<path d="M335.8 360.5L345.6 360.5L340.7 369.5Z" fill="#fff" stroke="#ff8000" stroke-width="1.15"/><path d="M335.8 360.5L340.7 360.5L340.7 369.5Z" fill="#ff8000"/>
<path d="M337.6 365L347.4 365L342.5 374Z" fill="#fff" stroke="#ff8000" stroke-width="1.15"/><path d="M337.6 365L342.5 365L342.5 374Z" fill="#ff8000"/>
<path d="M339.4 373.8L349.2 373.8L344.3 382.8Z" fill="#fff" stroke="#ff8000" stroke-width="1.15"/><path d="M339.4 373.8L344.3 373.8L344.3 382.8Z" fill="#ff8000"/>
<path d="M341.4 379.5L351.2 379.5L346.3 388.5Z" fill="#fff" stroke="#ff8000" stroke-width="1.15"/><path d="M341.4 379.5L346.3 379.5L346.3 388.5Z" fill="#ff8000"/>
<path d="M343.4 383.58L353.2 383.58L348.3 392.58Z" fill="#fff" stroke="#ff8000" stroke-width="1.15"/><path d="M343.4 383.58L348.3 383.58L348.3 392.58Z" fill="#ff8000"/>
<path d="M345.29 386.42L355.08 386.42L350.19 395.42Z" fill="#fff" stroke="#ff8000" stroke-width="1.15"/><path d="M345.29 386.42L350.19 386.42L350.19 395.42Z" fill="#ff8000"/>
<path d="M347.17 389.24L356.97 389.24L352.07 398.24Z" fill="#fff" stroke="#ff8000" stroke-width="1.15"/><path d="M347.17 389.24L352.07 389.24L352.07 398.24Z" fill="#ff8000"/>
<path d="M349.06 392.34L358.85 392.34L353.95 401.34Z" fill="#fff" stroke="#ff8000" stroke-width="1.15"/><path d="M349.06 392.34L353.95 392.34L353.95 401.34Z" fill="#ff8000"/>
<path d="M350.94 394.81L360.74 394.81L355.84 403.81Z" fill="#fff" stroke="#ff8000" stroke-width="1.15"/><path d="M350.94 394.81L355.84 394.81L355.84 403.81Z" fill="#ff8000"/>
<path d="M352.82 397.5L362.62 397.5L357.72 406.5Z" fill="#fff" stroke="#ff8000" stroke-width="1.15"/><path d="M352.82 397.5L357.72 397.5L357.72 406.5Z" fill="#ff8000"/>
<path d="M354.71 400.08L364.51 400.08L359.61 409.08Z" fill="#fff" stroke="#ff8000" stroke-width="1.15"/><path d="M354.71 400.08L359.61 400.08L359.61 409.08Z" fill="#ff8000"/>
<path d="M356.59 401.23L366.39 401.23L361.49 410.23Z" fill="#fff" stroke="#ff8000" stroke-width="1.15"/><path d="M356.59 401.23L361.49 401.23L361.49 410.23Z" fill="#ff8000"/>
<path d="M358.48 401.16L368.28 401.16L363.38 410.16Z" fill="#fff" stroke="#ff8000" stroke-width="1.15"/><path d="M358.48 401.16L363.38 401.16L363.38 410.16Z" fill="#ff8000"/>
<path d="M360.36 400.49L370.16 400.49L365.26 409.49Z" fill="#fff" stroke="#ff8000" stroke-width="1.15"/><path d="M360.36 400.49L365.26 400.49L365.26 409.49Z" fill="#ff8000"/>
<path d="M362.25 398.84L372.05 398.84L367.15 407.84Z" fill="#fff" stroke="#ff8000" stroke-width="1.15"/><path d="M362.25 398.84L367.15 398.84L367.15 407.84Z" fill="#ff8000"/>
<path d="M364.13 397.27L373.93 397.27L369.03 406.27Z" fill="#fff" stroke="#ff8000" stroke-width="1.15"/><path d="M364.13 397.27L369.03 397.27L369.03 406.27Z" fill="#ff8000"/>
<path d="M366.02 394.85L375.82 394.85L370.92 403.85Z" fill="#fff" stroke="#ff8000" stroke-width="1.15"/><path d="M366.02 394.85L370.92 394.85L370.92 403.85Z" fill="#ff8000"/>
<path d="M367.9 392.75L377.7 392.75L372.8 401.75Z" fill="#fff" stroke="#ff8000" stroke-width="1.15"/><path d="M367.9 392.75L372.8 392.75L372.8 401.75Z" fill="#ff8000"/>
<path d="M369.79 390.58L379.59 390.58L374.69 399.58Z" fill="#fff" stroke="#ff8000" stroke-width="1.15"/><path d="M369.79 390.58L374.69 390.58L374.69 399.58Z" fill="#ff8000"/>
<path d="M371.67 388.12L381.47 388.12L376.57 397.12Z" fill="#fff" stroke="#ff8000" stroke-width="1.15"/><path d="M371.67 388.12L376.57 388.12L376.57 397.12Z" fill="#ff8000"/>
<path d="M373.56 385.94L383.36 385.94L378.46 394.94Z" fill="#fff" stroke="#ff8000" stroke-width="1.15"/><path d="M373.56 385.94L378.46 385.94L378.46 394.94Z" fill="#ff8000"/>
<path d="M375.44 383.24L385.24 383.24L380.34 392.24Z" fill="#fff" stroke="#ff8000" stroke-width="1.15"/><path d="M375.44 383.24L380.34 383.24L380.34 392.24Z" fill="#ff8000"/>
<path d="M377.33 380.96L387.13 380.96L382.23 389.96Z" fill="#fff" stroke="#ff8000" stroke-width="1.15"/><path d="M377.33 380.96L382.23 380.96L382.23 389.96Z" fill="#ff8000"/>
<path d="M379.21 378.58L389.01 378.58L384.11 387.58Z" fill="#fff" stroke="#ff8000" stroke-width="1.15"/><path d="M379.21 378.58L384.11 378.58L384.11 387.58Z" fill="#ff8000"/>
<path d="M381.1 376.47L390.9 376.47L386 385.47Z" fill="#fff" stroke="#ff8000" stroke-width="1.15"/><path d="M381.1 376.47L386 376.47L386 385.47Z" fill="#ff8000"/>
<path d="M382.98 373.59L392.78 373.59L387.88 382.59Z" fill="#fff" stroke="#ff8000" stroke-width="1.15"/><path d="M382.98 373.59L387.88 373.59L387.88 382.59Z" fill="#ff8000"/>
<path d="M384.87 371.34L394.67 371.34L389.77 380.34Z" fill="#fff" stroke="#ff8000" stroke-width="1.15"/><path d="M384.87 371.34L389.77 371.34L389.77 380.34Z" fill="#ff8000"/>
<path d="M386.75 369.12L396.55 369.12L391.65 378.12Z" fill="#fff" stroke="#ff8000" stroke-width="1.15"/><path d="M386.75 369.12L391.65 369.12L391.65 378.12Z" fill="#ff8000"/>
<path d="M388.64 367.02L398.44 367.02L393.54 376.02Z" fill="#fff" stroke="#ff8000" stroke-width="1.15"/><path d="M388.64 367.02L393.54 367.02L393.54 376.02Z" fill="#ff8000"/>
<path d="M390.52 364.94L400.32 364.94L395.42 373.94Z" fill="#fff" stroke="#ff8000" stroke-width="1.15"/><path d="M390.52 364.94L395.42 364.94L395.42 373.94Z" fill="#ff8000"/>
<path d="M392.41 363.08L402.21 363.08L397.31 372.08Z" fill="#fff" stroke="#ff8000" stroke-width="1.15"/><path d="M392.41 363.08L397.31 363.08L397.31 372.08Z" fill="#ff8000"/>
<path d="M394.29 361.61L404.09 361.61L399.19 370.61Z" fill="#fff" stroke="#ff8000" stroke-width="1.15"/><path d="M394.29 361.61L399.19 361.61L399.19 370.61Z" fill="#ff8000"/>
<path d="M396.18 360.49L405.98 360.49L401.08 369.49Z" fill="#fff" stroke="#ff8000" stroke-width="1.15"/><path d="M396.18 360.49L401.08 360.49L401.08 369.49Z" fill="#ff8000"/>
<path d="M398.06 359.96L407.86 359.96L402.96 368.96Z" fill="#fff" stroke="#ff8000" stroke-width="1.15"/><path d="M398.06 359.96L402.96 359.96L402.96 368.96Z" fill="#ff8000"/>
<path d="M399.95 359.63L409.75 359.63L404.85 368.63Z" fill="#fff" stroke="#ff8000" stroke-width="1.15"/><path d="M399.95 359.63L404.85 359.63L404.85 368.63Z" fill="#ff8000"/>
<path d="M401.83 359.15L411.63 359.15L406.73 368.15Z" fill="#fff" stroke="#ff8000" stroke-width="1.15"/><path d="M401.83 359.15L406.73 359.15L406.73 368.15Z" fill="#ff8000"/>
<path d="M403.72 359.12L413.52 359.12L408.62 368.12Z" fill="#fff" stroke="#ff8000" stroke-width="1.15"/><path d="M403.72 359.12L408.62 359.12L408.62 368.12Z" fill="#ff8000"/>
<path d="M405.6 359.07L415.4 359.07L410.5 368.07Z" fill="#fff" stroke="#ff8000" stroke-width="1.15"/><path d="M405.6 359.07L410.5 359.07L410.5 368.07Z" fill="#ff8000"/>
<path d="M407.49 358.76L417.29 358.76L412.39 367.76Z" fill="#fff" stroke="#ff8000" stroke-width="1.15"/><path d="M407.49 358.76L412.39 358.76L412.39 367.76Z" fill="#ff8000"/>
<path d="M409.37 359.19L419.17 359.19L414.27 368.19Z" fill="#fff" stroke="#ff8000" stroke-width="1.15"/><path d="M409.37 359.19L414.27 359.19L414.27 368.19Z" fill="#ff8000"/>
<path d="M411.26 359.03L421.06 359.03L416.16 368.03Z" fill="#fff" stroke="#ff8000" stroke-width="1.15"/><path d="M411.26 359.03L416.16 359.03L416.16 368.03Z" fill="#ff8000"/>
<path d="M413.14 359.19L422.94 359.19L418.04 368.19Z" fill="#fff" stroke="#ff8000" stroke-width="1.15"/><path d="M413.14 359.19L418.04 359.19L418.04 368.19Z" fill="#ff8000"/>
<path d="M415.03 359.16L424.83 359.16L419.93 368.16Z" fill="#fff" stroke="#ff8000" stroke-width="1.15"/><path d="M415.03 359.16L419.93 359.16L419.93 368.16Z" fill="#ff8000"/>
<path d="M416.91 359.7L426.71 359.7L421.81 368.7Z" fill="#fff" stroke="#ff8000" stroke-width="1.15"/><path d="M416.91 359.7L421.81 359.7L421.81 368.7Z" fill="#ff8000"/>
<path d="M418.8 359.73L428.6 359.73L423.7 368.73Z" fill="#fff" stroke="#ff8000" stroke-width="1.15"/><path d="M418.8 359.73L423.7 359.73L423.7 368.73Z" fill="#ff8000"/>
<path d="M420.68 359.93L430.48 359.93L425.58 368.93Z" fill="#fff" stroke="#ff8000" stroke-width="1.15"/><path d="M420.68 359.93L425.58 359.93L425.58 368.93Z" fill="#ff8000"/>
<path d="M422.57 360.23L432.37 360.23L427.47 369.23Z" fill="#fff" stroke="#ff8000" stroke-width="1.15"/><path d="M422.57 360.23L427.47 360.23L427.47 369.23Z" fill="#ff8000"/>
<path d="M424.45 360.45L434.25 360.45L429.35 369.45Z" fill="#fff" stroke="#ff8000" stroke-width="1.15"/><path d="M424.45 360.45L429.35 360.45L429.35 369.45Z" fill="#ff8000"/>
<path d="M426.34 361.44L436.14 361.44L431.24 370.44Z" fill="#fff" stroke="#ff8000" stroke-width="1.15"/><path d="M426.34 361.44L431.24 361.44L431.24 370.44Z" fill="#ff8000"/>
<path d="M428.22 361.66L438.02 361.66L433.12 370.66Z" fill="#fff" stroke="#ff8000" stroke-width="1.15"/><path d="M428.22 361.66L433.12 361.66L433.12 370.66Z" fill="#ff8000"/>
<path d="M430.11 361.73L439.91 361.73L435.01 370.73Z" fill="#fff" stroke="#ff8000" stroke-width="1.15"/><path d="M430.11 361.73L435.01 361.73L435.01 370.73Z" fill="#ff8000"/>
<path d="M431.99 362.27L441.79 362.27L436.89 371.27Z" fill="#fff" stroke="#ff8000" stroke-width="1.15"/><path d="M431.99 362.27L436.89 362.27L436.89 371.27Z" fill="#ff8000"/>
<path d="M433.88 362.96L443.68 362.96L438.78 371.96Z" fill="#fff" stroke="#ff8000" stroke-width="1.15"/><path d="M433.88 362.96L438.78 362.96L438.78 371.96Z" fill="#ff8000"/>
<path d="M435.76 363.15L445.56 363.15L440.66 372.15Z" fill="#fff" stroke="#ff8000" stroke-width="1.15"/><path d="M435.76 363.15L440.66 363.15L440.66 372.15Z" fill="#ff8000"/>
<path d="M437.65 363.25L447.45 363.25L442.55 372.25Z" fill="#fff" stroke="#ff8000" stroke-width="1.15"/><path d="M437.65 363.25L442.55 363.25L442.55 372.25Z" fill="#ff8000"/>
<path d="M439.53 363.88L449.33 363.88L444.43 372.88Z" fill="#fff" stroke="#ff8000" stroke-width="1.15"/><path d="M439.53 363.88L444.43 363.88L444.43 372.88Z" fill="#ff8000"/>
<path d="M441.42 364.16L451.22 364.16L446.32 373.16Z" fill="#fff" stroke="#ff8000" stroke-width="1.15"/><path d="M441.42 364.16L446.32 364.16L446.32 373.16Z" fill="#ff8000"/>
<path d="M443.3 364.06L453.1 364.06L448.2 373.06Z" fill="#fff" stroke="#ff8000" stroke-width="1.15"/><path d="M443.3 364.06L448.2 364.06L448.2 373.06Z" fill="#ff8000"/>
<path d="M445.19 364.79L454.99 364.79L450.09 373.79Z" fill="#fff" stroke="#ff8000" stroke-width="1.15"/><path d="M445.19 364.79L450.09 364.79L450.09 373.79Z" fill="#ff8000"/>
<path d="M447.07 365.1L456.87 365.1L451.97 374.1Z" fill="#fff" stroke="#ff8000" stroke-width="1.15"/><path d="M447.07 365.1L451.97 365.1L451.97 374.1Z" fill="#ff8000"/>
<path d="M448.96 365.41L458.76 365.41L453.86 374.41Z" fill="#fff" stroke="#ff8000" stroke-width="1.15"/><path d="M448.96 365.41L453.86 365.41L453.86 374.41Z" fill="#ff8000"/>
<path d="M450.84 365.6L460.64 365.6L455.74 374.6Z" fill="#fff" stroke="#ff8000" stroke-width="1.15"/><path d="M450.84 365.6L455.74 365.6L455.74 374.6Z" fill="#ff8000"/>
<path d="M452.73 365.86L462.53 365.86L457.63 374.86Z" fill="#fff" stroke="#ff8000" stroke-width="1.15"/><path d="M452.73 365.86L457.63 365.86L457.63 374.86Z" fill="#ff8000"/>
<path d="M454.61 365.88L464.41 365.88L459.51 374.88Z" fill="#fff" stroke="#ff8000" stroke-width="1.15"/><path d="M454.61 365.88L459.51 365.88L459.51 374.88Z" fill="#ff8000"/>
<path d="M456.5 366.05L466.3 366.05L461.4 375.05Z" fill="#fff" stroke="#ff8000" stroke-width="1.15"/><path d="M456.5 366.05L461.4 366.05L461.4 375.05Z" fill="#ff8000"/>
<path d="M458.38 366.58L468.18 366.58L463.28 375.58Z" fill="#fff" stroke="#ff8000" stroke-width="1.15"/><path d="M458.38 366.58L463.28 366.58L463.28 375.58Z" fill="#ff8000"/>
<path d="M460.27 366.8L470.07 366.8L465.17 375.8Z" fill="#fff" stroke="#ff8000" stroke-width="1.15"/><path d="M460.27 366.8L465.17 366.8L465.17 375.8Z" fill="#ff8000"/>
<path d="M462.15 366.61L471.95 366.61L467.05 375.61Z" fill="#fff" stroke="#ff8000" stroke-width="1.15"/><path d="M462.15 366.61L467.05 366.61L467.05 375.61Z" fill="#ff8000"/>
<path d="M464.04 366.87L473.84 366.87L468.94 375.87Z" fill="#fff" stroke="#ff8000" stroke-width="1.15"/><path d="M464.04 366.87L468.94 366.87L468.94 375.87Z" fill="#ff8000"/>
<polyline fill="none" stroke="#008000" stroke-width="1.8" stroke-linejoin="round" points="317.95,545.75 318.1,520.75 319,431.2 320.5,193.05 320.8,133.05 324.27,-106.95 325.27,116.05 326.3,224.5 328.6,308.6 329.9,330 331.6,348.3 333.3,357.1 336.4,366.7 339,375 342.1,381.1 345.6,384.18 348.2,384.46 350.8,384.73 352.69,385.03 354.57,385.59 356.46,386.76 358.34,387.92 360.23,389.06 362.11,389.89 364,389.96 365.88,388.78 367.76,386.86 369.65,383.92 371.53,379.65 373.42,374.96 375.3,369.33 377.19,364.56 379.07,359.66 380.96,354.32 382.84,349.2 384.73,343.76 386.61,338.01 388.5,332.48 390.38,326.86 392.27,321.51 394.15,316.08 396.04,311.31 397.92,306.14 399.81,301.74 401.69,298.73 403.58,296.27 405.46,294.6 407.35,293.16 409.23,293.16 411.12,293.66 413,294.06 414.89,294.82 416.77,295.76 418.66,296.25 420.54,297.27 422.43,298.2 424.31,299.09 426.2,299.69 428.08,300.45 429.97,301.25 431.85,301.97 433.74,302.62 435.62,303.31 437.51,303.56 439.39,303.92 441.28,304.64 443.16,304.8 445.05,305.25 446.93,305.3 448.82,305.77 450.7,306.32 452.59,306.52 454.47,306.69 456.36,307.13 458.24,307.33 460.13,307.57 462.01,307.8 463.9,307.9 465.78,308.18 467.67,308.18 469.55,308.12"/>
<polygon points="319,425.9 320.41,429.26 324.04,429.56 321.28,431.94 322.12,435.49 319,433.6 315.88,435.49 316.72,431.94 313.96,429.56 317.59,429.26" fill="#008000" stroke="#008000" stroke-width="0.5" stroke-linejoin="round"/>
<polygon points="326.3,219.2 327.71,222.56 331.34,222.86 328.58,225.24 329.42,228.79 326.3,226.9 323.18,228.79 324.02,225.24 321.26,222.86 324.89,222.56" fill="#008000" stroke="#008000" stroke-width="0.5" stroke-linejoin="round"/>
<polygon points="328.6,303.3 330.01,306.66 333.64,306.96 330.88,309.34 331.72,312.89 328.6,311 325.48,312.89 326.32,309.34 323.56,306.96 327.19,306.66" fill="#008000" stroke="#008000" stroke-width="0.5" stroke-linejoin="round"/>
<polygon points="329.9,324.7 331.31,328.06 334.94,328.36 332.18,330.74 333.02,334.29 329.9,332.4 326.78,334.29 327.62,330.74 324.86,328.36 328.49,328.06" fill="#008000" stroke="#008000" stroke-width="0.5" stroke-linejoin="round"/>
<polygon points="331.6,343 333.01,346.36 336.64,346.66 333.88,349.04 334.72,352.59 331.6,350.7 328.48,352.59 329.32,349.04 326.56,346.66 330.19,346.36" fill="#008000" stroke="#008000" stroke-width="0.5" stroke-linejoin="round"/>
<polygon points="333.3,351.8 334.71,355.16 338.34,355.46 335.58,357.84 336.42,361.39 333.3,359.5 330.18,361.39 331.02,357.84 328.26,355.46 331.89,355.16" fill="#008000" stroke="#008000" stroke-width="0.5" stroke-linejoin="round"/>
<polygon points="336.4,361.4 337.81,364.76 341.44,365.06 338.68,367.44 339.52,370.99 336.4,369.1 333.28,370.99 334.12,367.44 331.36,365.06 334.99,364.76" fill="#008000" stroke="#008000" stroke-width="0.5" stroke-linejoin="round"/>
<polygon points="339,369.7 340.41,373.06 344.04,373.36 341.28,375.74 342.12,379.29 339,377.4 335.88,379.29 336.72,375.74 333.96,373.36 337.59,373.06" fill="#008000" stroke="#008000" stroke-width="0.5" stroke-linejoin="round"/>
<polygon points="342.1,375.8 343.51,379.16 347.14,379.46 344.38,381.84 345.22,385.39 342.1,383.5 338.98,385.39 339.82,381.84 337.06,379.46 340.69,379.16" fill="#008000" stroke="#008000" stroke-width="0.5" stroke-linejoin="round"/>
<polygon points="345.6,378.88 347.01,382.24 350.64,382.54 347.88,384.92 348.72,388.47 345.6,386.58 342.48,388.47 343.32,384.92 340.56,382.54 344.19,382.24" fill="#008000" stroke="#008000" stroke-width="0.5" stroke-linejoin="round"/>
<polygon points="348.2,379.16 349.61,382.52 353.24,382.82 350.48,385.2 351.32,388.75 348.2,386.86 345.08,388.75 345.92,385.2 343.16,382.82 346.79,382.52" fill="#008000" stroke="#008000" stroke-width="0.5" stroke-linejoin="round"/>
<polygon points="350.8,379.43 352.21,382.79 355.84,383.09 353.08,385.47 353.92,389.02 350.8,387.13 347.68,389.02 348.52,385.47 345.76,383.09 349.39,382.79" fill="#008000" stroke="#008000" stroke-width="0.5" stroke-linejoin="round"/>
<polygon points="352.69,379.73 354.1,383.09 357.73,383.39 354.97,385.77 355.8,389.32 352.69,387.43 349.57,389.32 350.4,385.77 347.64,383.39 351.27,383.09" fill="#008000" stroke="#008000" stroke-width="0.5" stroke-linejoin="round"/>
<polygon points="354.57,380.29 355.98,383.65 359.61,383.96 356.85,386.33 357.69,389.88 354.57,387.99 351.45,389.88 352.29,386.33 349.53,383.96 353.16,383.65" fill="#008000" stroke="#008000" stroke-width="0.5" stroke-linejoin="round"/>
<polygon points="356.46,381.46 357.87,384.82 361.5,385.12 358.74,387.5 359.57,391.05 356.46,389.16 353.34,391.05 354.17,387.5 351.41,385.12 355.04,384.82" fill="#008000" stroke="#008000" stroke-width="0.5" stroke-linejoin="round"/>
<polygon points="358.34,382.62 359.75,385.98 363.38,386.28 360.62,388.66 361.46,392.21 358.34,390.32 355.22,392.21 356.06,388.66 353.3,386.28 356.93,385.98" fill="#008000" stroke="#008000" stroke-width="0.5" stroke-linejoin="round"/>
<polygon points="360.23,383.76 361.64,387.12 365.27,387.42 362.51,389.8 363.34,393.34 360.23,391.46 357.11,393.34 357.94,389.8 355.18,387.42 358.81,387.12" fill="#008000" stroke="#008000" stroke-width="0.5" stroke-linejoin="round"/>
<polygon points="362.11,384.59 363.52,387.95 367.15,388.26 364.39,390.64 365.23,394.18 362.11,392.29 358.99,394.18 359.83,390.64 357.07,388.26 360.7,387.95" fill="#008000" stroke="#008000" stroke-width="0.5" stroke-linejoin="round"/>
<polygon points="364,384.66 365.41,388.02 369.04,388.32 366.28,390.7 367.11,394.25 364,392.36 360.88,394.25 361.71,390.7 358.95,388.32 362.58,388.02" fill="#008000" stroke="#008000" stroke-width="0.5" stroke-linejoin="round"/>
<polygon points="365.88,383.48 367.29,386.84 370.92,387.14 368.16,389.52 369,393.07 365.88,391.18 362.76,393.07 363.6,389.52 360.84,387.14 364.47,386.84" fill="#008000" stroke="#008000" stroke-width="0.5" stroke-linejoin="round"/>
<polygon points="367.76,381.56 369.18,384.92 372.81,385.23 370.05,387.6 370.88,391.15 367.76,389.26 364.65,391.15 365.48,387.6 362.72,385.23 366.35,384.92" fill="#008000" stroke="#008000" stroke-width="0.5" stroke-linejoin="round"/>
<polygon points="369.65,378.62 371.06,381.98 374.69,382.28 371.93,384.66 372.77,388.21 369.65,386.32 366.53,388.21 367.37,384.66 364.61,382.28 368.24,381.98" fill="#008000" stroke="#008000" stroke-width="0.5" stroke-linejoin="round"/>
<polygon points="371.53,374.35 372.95,377.71 376.58,378.01 373.82,380.39 374.65,383.94 371.53,382.05 368.42,383.94 369.25,380.39 366.49,378.01 370.12,377.71" fill="#008000" stroke="#008000" stroke-width="0.5" stroke-linejoin="round"/>
<polygon points="373.42,369.66 374.83,373.02 378.46,373.32 375.7,375.7 376.54,379.25 373.42,377.36 370.3,379.25 371.14,375.7 368.38,373.32 372.01,373.02" fill="#008000" stroke="#008000" stroke-width="0.5" stroke-linejoin="round"/>
<polygon points="375.3,364.03 376.72,367.39 380.35,367.69 377.59,370.07 378.42,373.62 375.3,371.73 372.19,373.62 373.02,370.07 370.26,367.69 373.89,367.39" fill="#008000" stroke="#008000" stroke-width="0.5" stroke-linejoin="round"/>
<polygon points="377.19,359.26 378.6,362.61 382.23,362.92 379.47,365.3 380.31,368.84 377.19,366.96 374.07,368.84 374.91,365.3 372.15,362.92 375.78,362.61" fill="#008000" stroke="#008000" stroke-width="0.5" stroke-linejoin="round"/>
<polygon points="379.07,354.36 380.49,357.72 384.12,358.02 381.36,360.4 382.19,363.95 379.07,362.06 375.96,363.95 376.79,360.4 374.03,358.02 377.66,357.72" fill="#008000" stroke="#008000" stroke-width="0.5" stroke-linejoin="round"/>
<polygon points="380.96,349.02 382.37,352.37 386,352.68 383.24,355.06 384.08,358.6 380.96,356.72 377.84,358.6 378.68,355.06 375.92,352.68 379.55,352.37" fill="#008000" stroke="#008000" stroke-width="0.5" stroke-linejoin="round"/>
<polygon points="382.84,343.9 384.26,347.26 387.89,347.56 385.13,349.94 385.96,353.49 382.84,351.6 379.73,353.49 380.56,349.94 377.8,347.56 381.43,347.26" fill="#008000" stroke="#008000" stroke-width="0.5" stroke-linejoin="round"/>
<polygon points="384.73,338.46 386.14,341.82 389.77,342.12 387.01,344.5 387.85,348.04 384.73,346.16 381.61,348.04 382.45,344.5 379.69,342.12 383.32,341.82" fill="#008000" stroke="#008000" stroke-width="0.5" stroke-linejoin="round"/>
<polygon points="386.61,332.71 388.03,336.07 391.66,336.38 388.9,338.75 389.73,342.3 386.61,340.41 383.5,342.3 384.33,338.75 381.57,336.38 385.2,336.07" fill="#008000" stroke="#008000" stroke-width="0.5" stroke-linejoin="round"/>
<polygon points="388.5,327.18 389.91,330.54 393.54,330.84 390.78,333.22 391.62,336.77 388.5,334.88 385.38,336.77 386.22,333.22 383.46,330.84 387.09,330.54" fill="#008000" stroke="#008000" stroke-width="0.5" stroke-linejoin="round"/>
<polygon points="390.38,321.56 391.8,324.92 395.43,325.22 392.67,327.6 393.5,331.15 390.38,329.26 387.27,331.15 388.1,327.6 385.34,325.22 388.97,324.92" fill="#008000" stroke="#008000" stroke-width="0.5" stroke-linejoin="round"/>
<polygon points="392.27,316.21 393.68,319.57 397.31,319.87 394.55,322.25 395.39,325.8 392.27,323.91 389.15,325.8 389.99,322.25 387.23,319.87 390.86,319.57" fill="#008000" stroke="#008000" stroke-width="0.5" stroke-linejoin="round"/>
<polygon points="394.15,310.78 395.57,314.13 399.2,314.44 396.44,316.82 397.27,320.36 394.15,318.48 391.04,320.36 391.87,316.82 389.11,314.44 392.74,314.13" fill="#008000" stroke="#008000" stroke-width="0.5" stroke-linejoin="round"/>
<polygon points="396.04,306.01 397.45,309.36 401.08,309.67 398.32,312.05 399.16,315.59 396.04,313.71 392.92,315.59 393.76,312.05 391,309.67 394.63,309.36" fill="#008000" stroke="#008000" stroke-width="0.5" stroke-linejoin="round"/>
<polygon points="397.92,300.84 399.34,304.19 402.97,304.5 400.21,306.88 401.04,310.42 397.92,308.54 394.81,310.42 395.64,306.88 392.88,304.5 396.51,304.19" fill="#008000" stroke="#008000" stroke-width="0.5" stroke-linejoin="round"/>
<polygon points="399.81,296.44 401.22,299.8 404.85,300.1 402.09,302.48 402.93,306.03 399.81,304.14 396.69,306.03 397.53,302.48 394.77,300.1 398.4,299.8" fill="#008000" stroke="#008000" stroke-width="0.5" stroke-linejoin="round"/>
<polygon points="401.69,293.43 403.11,296.78 406.74,297.09 403.98,299.47 404.81,303.01 401.69,301.13 398.58,303.01 399.41,299.47 396.65,297.09 400.28,296.78" fill="#008000" stroke="#008000" stroke-width="0.5" stroke-linejoin="round"/>
<polygon points="403.58,290.97 404.99,294.32 408.62,294.63 405.86,297.01 406.7,300.55 403.58,298.67 400.46,300.55 401.3,297.01 398.54,294.63 402.17,294.32" fill="#008000" stroke="#008000" stroke-width="0.5" stroke-linejoin="round"/>
<polygon points="405.46,289.3 406.88,292.66 410.51,292.96 407.75,295.34 408.58,298.88 405.46,297 402.35,298.88 403.18,295.34 400.42,292.96 404.05,292.66" fill="#008000" stroke="#008000" stroke-width="0.5" stroke-linejoin="round"/>
<polygon points="407.35,287.86 408.76,291.21 412.39,291.52 409.63,293.9 410.47,297.44 407.35,295.56 404.23,297.44 405.07,293.9 402.31,291.52 405.94,291.21" fill="#008000" stroke="#008000" stroke-width="0.5" stroke-linejoin="round"/>
<polygon points="409.23,287.86 410.65,291.22 414.28,291.53 411.52,293.9 412.35,297.45 409.23,295.56 406.12,297.45 406.95,293.9 404.19,291.53 407.82,291.22" fill="#008000" stroke="#008000" stroke-width="0.5" stroke-linejoin="round"/>
<polygon points="411.12,288.36 412.53,291.72 416.16,292.02 413.4,294.4 414.24,297.95 411.12,296.06 408,297.95 408.84,294.4 406.08,292.02 409.71,291.72" fill="#008000" stroke="#008000" stroke-width="0.5" stroke-linejoin="round"/>
<polygon points="413,288.76 414.42,292.11 418.05,292.42 415.29,294.8 416.12,298.34 413,296.46 409.89,298.34 410.72,294.8 407.96,292.42 411.59,292.11" fill="#008000" stroke="#008000" stroke-width="0.5" stroke-linejoin="round"/>
<polygon points="414.89,289.52 416.3,292.88 419.93,293.18 417.17,295.56 418.01,299.11 414.89,297.22 411.77,299.11 412.61,295.56 409.85,293.18 413.48,292.88" fill="#008000" stroke="#008000" stroke-width="0.5" stroke-linejoin="round"/>
<polygon points="416.77,290.46 418.19,293.82 421.82,294.12 419.06,296.5 419.89,300.05 416.77,298.16 413.66,300.05 414.49,296.5 411.73,294.12 415.36,293.82" fill="#008000" stroke="#008000" stroke-width="0.5" stroke-linejoin="round"/>
<polygon points="418.66,290.95 420.07,294.31 423.7,294.61 420.94,296.99 421.78,300.54 418.66,298.65 415.54,300.54 416.38,296.99 413.62,294.61 417.25,294.31" fill="#008000" stroke="#008000" stroke-width="0.5" stroke-linejoin="round"/>
<polygon points="420.54,291.97 421.96,295.33 425.59,295.64 422.83,298.01 423.66,301.56 420.54,299.67 417.43,301.56 418.26,298.01 415.5,295.64 419.13,295.33" fill="#008000" stroke="#008000" stroke-width="0.5" stroke-linejoin="round"/>
<polygon points="422.43,292.9 423.84,296.26 427.47,296.56 424.71,298.94 425.55,302.49 422.43,300.6 419.31,302.49 420.15,298.94 417.39,296.56 421.02,296.26" fill="#008000" stroke="#008000" stroke-width="0.5" stroke-linejoin="round"/>
<polygon points="424.31,293.79 425.73,297.15 429.36,297.45 426.6,299.83 427.43,303.38 424.31,301.49 421.2,303.38 422.03,299.83 419.27,297.45 422.9,297.15" fill="#008000" stroke="#008000" stroke-width="0.5" stroke-linejoin="round"/>
<polygon points="426.2,294.39 427.61,297.75 431.24,298.05 428.48,300.43 429.32,303.97 426.2,302.09 423.08,303.97 423.92,300.43 421.16,298.05 424.79,297.75" fill="#008000" stroke="#008000" stroke-width="0.5" stroke-linejoin="round"/>
<polygon points="428.08,295.15 429.5,298.5 433.13,298.81 430.37,301.19 431.2,304.73 428.08,302.85 424.97,304.73 425.8,301.19 423.04,298.81 426.67,298.5" fill="#008000" stroke="#008000" stroke-width="0.5" stroke-linejoin="round"/>
<polygon points="429.97,295.95 431.38,299.31 435.01,299.61 432.25,301.99 433.09,305.54 429.97,303.65 426.85,305.54 427.69,301.99 424.93,299.61 428.56,299.31" fill="#008000" stroke="#008000" stroke-width="0.5" stroke-linejoin="round"/>
<polygon points="431.85,296.67 433.27,300.03 436.9,300.34 434.14,302.71 434.97,306.26 431.85,304.37 428.74,306.26 429.57,302.71 426.81,300.34 430.44,300.03" fill="#008000" stroke="#008000" stroke-width="0.5" stroke-linejoin="round"/>
<polygon points="433.74,297.32 435.15,300.68 438.78,300.98 436.02,303.36 436.86,306.91 433.74,305.02 430.62,306.91 431.46,303.36 428.7,300.98 432.33,300.68" fill="#008000" stroke="#008000" stroke-width="0.5" stroke-linejoin="round"/>
<polygon points="435.62,298.01 437.04,301.37 440.67,301.68 437.91,304.06 438.74,307.6 435.62,305.71 432.51,307.6 433.34,304.06 430.58,301.68 434.21,301.37" fill="#008000" stroke="#008000" stroke-width="0.5" stroke-linejoin="round"/>
<polygon points="437.51,298.26 438.92,301.62 442.55,301.92 439.79,304.3 440.63,307.85 437.51,305.96 434.39,307.85 435.23,304.3 432.47,301.92 436.1,301.62" fill="#008000" stroke="#008000" stroke-width="0.5" stroke-linejoin="round"/>
<polygon points="439.39,298.62 440.81,301.98 444.44,302.28 441.68,304.66 442.51,308.2 439.39,306.32 436.28,308.2 437.11,304.66 434.35,302.28 437.98,301.98" fill="#008000" stroke="#008000" stroke-width="0.5" stroke-linejoin="round"/>
<polygon points="441.28,299.34 442.69,302.7 446.32,303.01 443.56,305.38 444.4,308.93 441.28,307.04 438.16,308.93 439,305.38 436.24,303.01 439.87,302.7" fill="#008000" stroke="#008000" stroke-width="0.5" stroke-linejoin="round"/>
<polygon points="443.16,299.5 444.58,302.86 448.21,303.16 445.45,305.54 446.28,309.09 443.16,307.2 440.05,309.09 440.88,305.54 438.12,303.16 441.75,302.86" fill="#008000" stroke="#008000" stroke-width="0.5" stroke-linejoin="round"/>
<polygon points="445.05,299.95 446.46,303.3 450.09,303.61 447.33,305.99 448.17,309.53 445.05,307.65 441.93,309.53 442.77,305.99 440.01,303.61 443.64,303.3" fill="#008000" stroke="#008000" stroke-width="0.5" stroke-linejoin="round"/>
<polygon points="446.93,300 448.35,303.36 451.98,303.66 449.22,306.04 450.05,309.59 446.93,307.7 443.82,309.59 444.65,306.04 441.89,303.66 445.52,303.36" fill="#008000" stroke="#008000" stroke-width="0.5" stroke-linejoin="round"/>
<polygon points="448.82,300.47 450.23,303.83 453.86,304.13 451.1,306.51 451.94,310.06 448.82,308.17 445.7,310.06 446.54,306.51 443.78,304.13 447.41,303.83" fill="#008000" stroke="#008000" stroke-width="0.5" stroke-linejoin="round"/>
<polygon points="450.7,301.02 452.12,304.38 455.75,304.68 452.99,307.06 453.82,310.61 450.7,308.72 447.59,310.61 448.42,307.06 445.66,304.68 449.29,304.38" fill="#008000" stroke="#008000" stroke-width="0.5" stroke-linejoin="round"/>
<polygon points="452.59,301.22 454,304.58 457.63,304.89 454.87,307.26 455.71,310.81 452.59,308.92 449.47,310.81 450.31,307.26 447.55,304.89 451.18,304.58" fill="#008000" stroke="#008000" stroke-width="0.5" stroke-linejoin="round"/>
<polygon points="454.47,301.39 455.89,304.74 459.52,305.05 456.76,307.43 457.59,310.97 454.47,309.09 451.36,310.97 452.19,307.43 449.43,305.05 453.06,304.74" fill="#008000" stroke="#008000" stroke-width="0.5" stroke-linejoin="round"/>
<polygon points="456.36,301.83 457.77,305.19 461.4,305.5 458.64,307.88 459.48,311.42 456.36,309.53 453.24,311.42 454.08,307.88 451.32,305.5 454.95,305.19" fill="#008000" stroke="#008000" stroke-width="0.5" stroke-linejoin="round"/>
<polygon points="458.24,302.03 459.66,305.39 463.29,305.69 460.53,308.07 461.36,311.62 458.24,309.73 455.13,311.62 455.96,308.07 453.2,305.69 456.83,305.39" fill="#008000" stroke="#008000" stroke-width="0.5" stroke-linejoin="round"/>
<polygon points="460.13,302.27 461.54,305.62 465.17,305.93 462.41,308.31 463.25,311.85 460.13,309.97 457.01,311.85 457.85,308.31 455.09,305.93 458.72,305.62" fill="#008000" stroke="#008000" stroke-width="0.5" stroke-linejoin="round"/>
<polygon points="462.01,302.5 463.43,305.86 467.06,306.17 464.3,308.55 465.13,312.09 462.01,310.2 458.9,312.09 459.73,308.55 456.97,306.17 460.6,305.86" fill="#008000" stroke="#008000" stroke-width="0.5" stroke-linejoin="round"/>
<polygon points="463.9,302.6 465.31,305.96 468.94,306.26 466.18,308.64 467.02,312.19 463.9,310.3 460.78,312.19 461.62,308.64 458.86,306.26 462.49,305.96" fill="#008000" stroke="#008000" stroke-width="0.5" stroke-linejoin="round"/>
<polygon points="465.78,302.88 467.2,306.24 470.83,306.54 468.07,308.92 468.9,312.47 465.78,310.58 462.67,312.47 463.5,308.92 460.74,306.54 464.37,306.24" fill="#008000" stroke="#008000" stroke-width="0.5" stroke-linejoin="round"/>
<polygon points="467.67,302.88 469.08,306.24 472.71,306.54 469.95,308.92 470.79,312.47 467.67,310.58 464.55,312.47 465.39,308.92 462.63,306.54 466.26,306.24" fill="#008000" stroke="#008000" stroke-width="0.5" stroke-linejoin="round"/>
<polygon points="469.55,302.82 470.97,306.18 474.6,306.49 471.84,308.87 472.67,312.41 469.55,310.52 466.44,312.41 467.27,308.87 464.51,306.49 468.14,306.18" fill="#008000" stroke="#008000" stroke-width="0.5" stroke-linejoin="round"/>
</g>
<path d="M280.7 193.5V521" stroke="#ececec" stroke-width="1"/>
<rect x="79.7" y="193.05" width="199.65" height="327.7" fill="none" stroke="#000" stroke-width="1.6"/>
<path d="M87.1 520.75v-6.6M87.1 193.05v6.6M105.91 520.75v-3.6M105.91 193.05v3.6M124.72 520.75v-6.6M124.72 193.05v6.6M143.53 520.75v-3.6M143.53 193.05v3.6M162.34 520.75v-6.6M162.34 193.05v6.6M181.15 520.75v-3.6M181.15 193.05v3.6M199.96 520.75v-6.6M199.96 193.05v6.6M218.77 520.75v-3.6M218.77 193.05v3.6M237.58 520.75v-6.6M237.58 193.05v6.6M256.39 520.75v-3.6M256.39 193.05v3.6M275.2 520.75v-6.6M275.2 193.05v6.6M79.7 193.05h6.6M279.35 193.05h-6.6M79.7 216.46h3.6M279.35 216.46h-3.6M79.7 239.86h6.6M279.35 239.86h-6.6M79.7 263.27h3.6M279.35 263.27h-3.6M79.7 286.68h6.6M279.35 286.68h-6.6M79.7 310.09h3.6M279.35 310.09h-3.6M79.7 333.49h6.6M279.35 333.49h-6.6M79.7 356.9h3.6M279.35 356.9h-3.6M79.7 380.31h6.6M279.35 380.31h-6.6M79.7 403.71h3.6M279.35 403.71h-3.6M79.7 427.12h6.6M279.35 427.12h-6.6M79.7 450.53h3.6M279.35 450.53h-3.6M79.7 473.94h6.6M279.35 473.94h-6.6M79.7 497.34h3.6M279.35 497.34h-3.6M79.7 520.75h6.6M279.35 520.75h-6.6" stroke="#000" stroke-width="1.5" fill="none"/>
<rect x="290.95" y="193.05" width="189.05" height="327.7" fill="none" stroke="#000" stroke-width="1.6"/>
<path d="M298 520.75v-6.6M298 193.05v6.6M316.85 520.75v-3.6M316.85 193.05v3.6M335.7 520.75v-6.6M335.7 193.05v6.6M354.55 520.75v-3.6M354.55 193.05v3.6M373.4 520.75v-6.6M373.4 193.05v6.6M392.25 520.75v-3.6M392.25 193.05v3.6M411.1 520.75v-6.6M411.1 193.05v6.6M429.95 520.75v-3.6M429.95 193.05v3.6M448.8 520.75v-6.6M448.8 193.05v6.6M467.65 520.75v-3.6M467.65 193.05v3.6M290.95 193.05h6.6M290.95 216.46h3.6M290.95 239.86h6.6M290.95 263.27h3.6M290.95 286.68h6.6M290.95 310.09h3.6M290.95 333.49h6.6M290.95 356.9h3.6M290.95 380.31h6.6M290.95 403.71h3.6M290.95 427.12h6.6M290.95 450.53h3.6M290.95 473.94h6.6M290.95 497.34h3.6M290.95 520.75h6.6" stroke="#000" stroke-width="1.5" fill="none"/>
<g font-size="19.5" text-anchor="end">
<text x="72.7" y="199.45">4.2</text>
<text x="72.7" y="246.26">3.9</text>
<text x="72.7" y="293.08">3.6</text>
<text x="72.7" y="339.89">3.3</text>
<text x="72.7" y="386.71">3.0</text>
<text x="72.7" y="433.52">2.7</text>
<text x="72.7" y="480.34">2.4</text>
<text x="72.7" y="527.15">2.1</text>
</g>
<g font-size="19.5" text-anchor="middle">
<text x="87.3" y="543.2">0</text>
<text x="124.92" y="543.2">10</text>
<text x="162.54" y="543.2">20</text>
<text x="200.16" y="543.2">30</text>
<text x="237.78" y="543.2">40</text>
<text x="275.4" y="543.2">50</text>
<text x="298.2" y="543.2">0</text>
<text x="335.9" y="543.2">10</text>
<text x="373.6" y="543.2">20</text>
<text x="411.3" y="543.2">30</text>
<text x="449" y="543.2">40</text>
</g>
<text x="141.8" y="577.4" font-size="24.7">t (fm/c)</text>
<text x="351.9" y="577.4" font-size="24.7">t (fm/c)</text>
<text x="86.0" y="213.8" font-size="16.5">(a)</text>
<text x="137.2" y="215.9" font-size="16.6">With static field</text>
<text x="297.0" y="213.7" font-size="16.5">(b)</text>
<text x="349" y="215.9" font-size="16.6">With retarded field</text>
<text x="347.7" y="240.5" font-size="16.4" font-family="'Liberation Serif', serif">Au+Au, b/b<tspan font-size="9.5" dy="6">max</tspan><tspan dy="-6">≤0.15</tspan></text>
<text x="347.3" y="262.7" font-size="16.4" font-family="'Liberation Serif', serif">400 MeV/nucleon</text>
<path d="M14.4 382.6Q26.3 394.0 38.0 382.4Q26.3 389.8 14.4 382.6Z" fill="#000" stroke="#000" stroke-width="0.5" stroke-linejoin="round"/>
<path d="M14.2 334.2Q25.9 321.6 37.6 334.2Q25.9 326.0 14.2 334.2Z" fill="#000" stroke="#000" stroke-width="0.5" stroke-linejoin="round"/>
<text transform="translate(33.1,381.3) rotate(-90)" font-size="23.5" font-family="'Liberation Serif', serif">π</text>
<text transform="translate(33.1,355.5) rotate(-90)" font-size="23.5" font-family="'Liberation Serif', serif">π</text>
<path d="M32.9 361.7L16.7 355.6" stroke="#000" stroke-width="1.5" fill="none"/>
<path d="M15.6 368.4V362.0" stroke="#000" stroke-width="1.1" fill="none"/>
<path d="M15.5 342.7V335.9M12.1 339.3H18.9" stroke="#000" stroke-width="1.0" fill="none"/>
<text transform="translate(42.5,327.6) rotate(-90)" font-size="14.7">like</text>
<path d="M115 460.7H128.2M140.2 460.7H153.2" stroke="#000000" stroke-width="1.5" fill="none"/>
<rect x="130.3" y="456.8" width="7.8" height="7.8" fill="#000000"/>
<text x="157.4" y="466.3" font-size="16.2">x=-2</text>
<path d="M115 480.8H128.2M140.2 480.8H153.2" stroke="#ff0000" stroke-width="1.5" fill="none"/>
<circle cx="134.2" cy="480.8" r="4.1" fill="#fff" stroke="#ff0000" stroke-width="0.85"/><path d="M129.7 480.8A4.5 4.5 0 0 1 138.7 480.8Z" fill="#ff0000"/>
<text x="157.4" y="486.4" font-size="16.2">x=-1</text>
<path d="M115 501.2H128.2M140.2 501.2H153.2" stroke="#0000ff" stroke-width="1.5" fill="none"/>
<path d="M134.2 496.5L139.4 501.2L134.2 505.9L129 501.2Z" fill="#fff" stroke="#0000ff" stroke-width="0.8"/><path d="M134.2 496L139.95 501.2L134.2 506.4Z" fill="#0000ff"/>
<text x="157.4" y="506.8" font-size="16.2">x=0</text>
<path d="M194.6 480.4H207.9M219.9 480.4H232.9" stroke="#ff8000" stroke-width="1.5" fill="none"/>
<path d="M209 477.4L218.8 477.4L213.9 486.4Z" fill="#fff" stroke="#ff8000" stroke-width="1.15"/><path d="M209 477.4L213.9 477.4L213.9 486.4Z" fill="#ff8000"/>
<text x="237.2" y="486" font-size="16.2">x=1</text>
<path d="M194.6 500.9H207.8M219.8 500.9H232.9" stroke="#008000" stroke-width="1.5" fill="none"/>
<polygon points="213.8,495.6 215.21,498.96 218.84,499.26 216.08,501.64 216.92,505.19 213.8,503.3 210.68,505.19 211.52,501.64 208.76,499.26 212.39,498.96" fill="#008000" stroke="#008000" stroke-width="0.5" stroke-linejoin="round"/>
<text x="237.2" y="506.5" font-size="16.2">x=2</text>
</svg>
</body></html>
